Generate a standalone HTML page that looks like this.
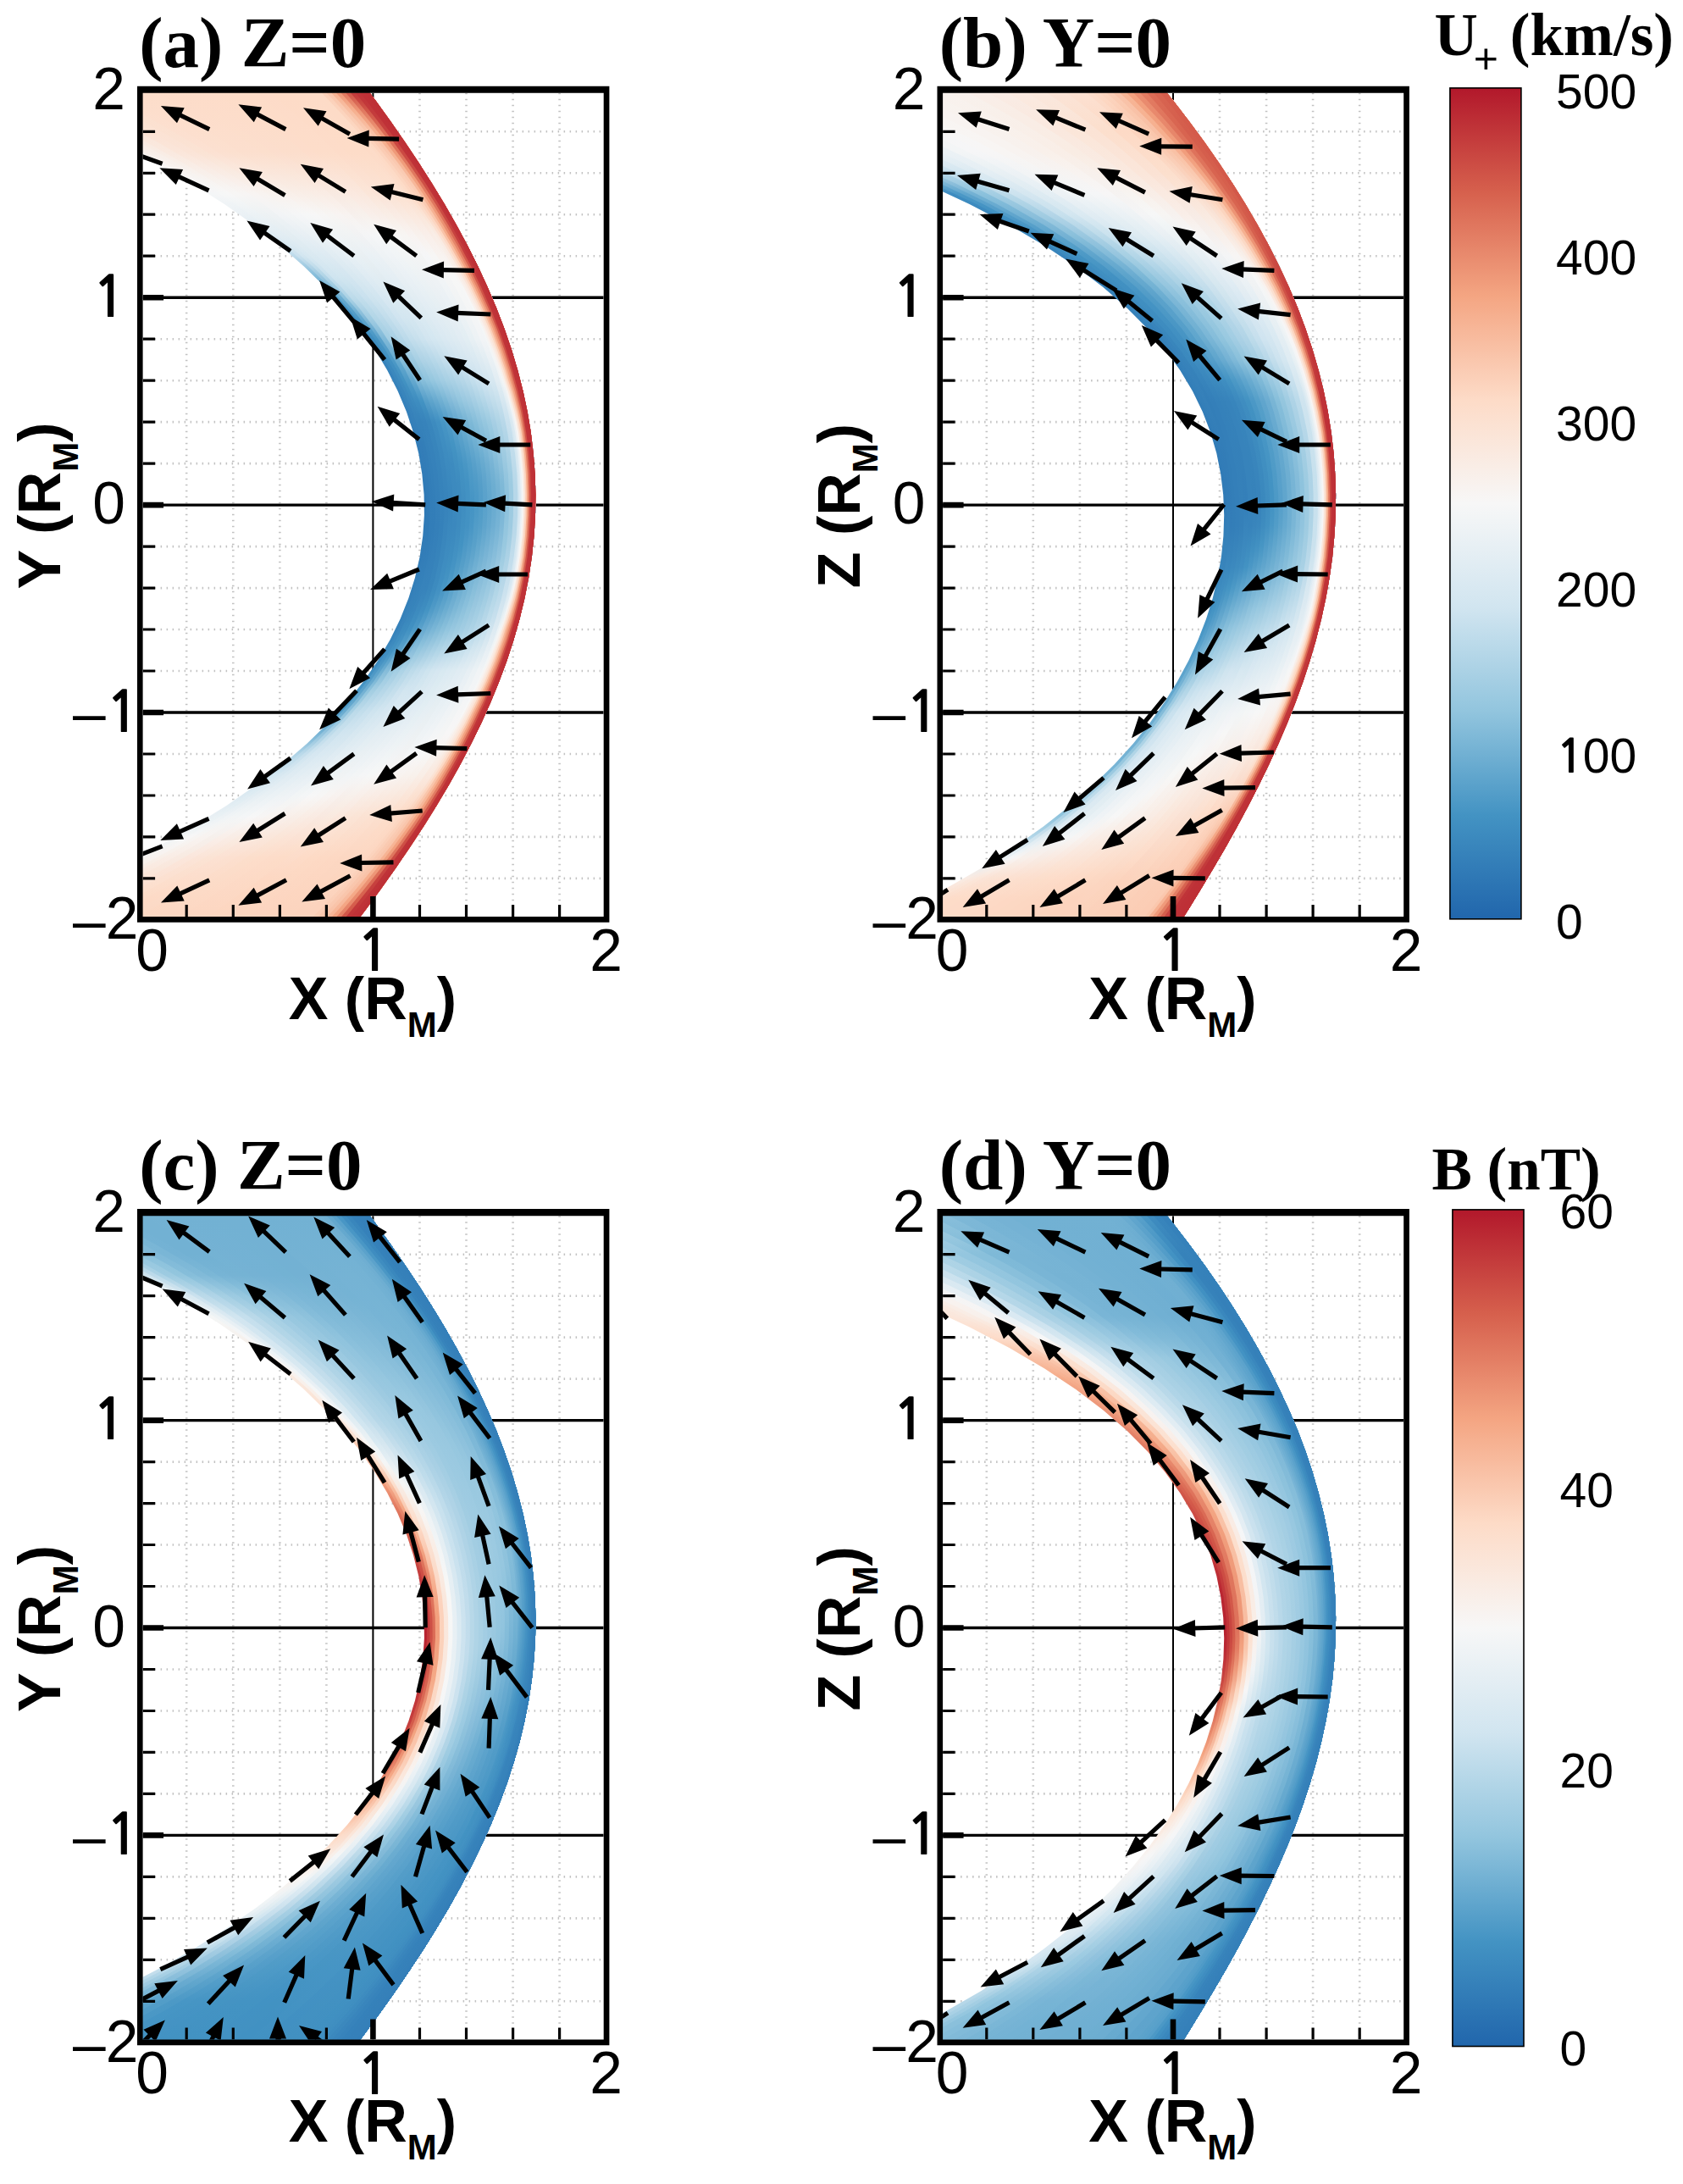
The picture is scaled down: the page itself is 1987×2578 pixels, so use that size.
<!DOCTYPE html>
<html><head><meta charset="utf-8"><title>figure</title><style>
html,body{margin:0;padding:0;background:#fff}
svg{display:block}
text{fill:#000}
.pt{font:bold 85px "Liberation Serif",serif}
.ct{font:bold 71px "Liberation Serif",serif}
.cs{font:normal 50px "Liberation Sans",sans-serif}
.tk{font:69.5px "Liberation Sans",sans-serif}
.cl{font:57px "Liberation Sans",sans-serif}
.ax{font:bold 70px "Liberation Sans",sans-serif}
.sb{font-size:42px}
.n1{font:bold 67px "NanumGothic","Liberation Sans",sans-serif}
.n1c{font:bold 55px "NanumGothic","Liberation Sans",sans-serif}
</style></head><body>
<svg width="1987" height="2578" viewBox="0 0 1987 2578">
<rect width="1987" height="2578" fill="#fff"/>
<defs>
<clipPath id="cfa"><rect x="168.6" y="109.8" width="544.1" height="972.3"/></clipPath>
<clipPath id="cba"><path d="M-29.2 94.1L31.6 118.5L87.3 143L138.1 167.5L184.5 192L226.7 216.5L265 241L299.7 265.5L330.9 290L358.9 314.5L383.9 339L406 363.4L425.6 387.9L442.6 412.4L457.2 436.9L469.6 461.4L479.9 485.9L488 510.4L494.2 534.9L498.3 559.4L500.6 583.9L500.9 608.3L499.2 632.8L495.6 657.3L490 681.8L482.3 706.3L472.5 730.8L460.5 755.3L446.1 779.8L429.3 804.3L409.8 828.8L387.6 853.2L362.4 877.7L334 902.2L302.3 926.7L267 951.2L227.8 975.7L184.5 1000.2L136.8 1024.7L84.4 1049.2L26.9 1073.7L-35.8 1098.1L413.4 1098.1L431.8 1073.7L449.8 1049.2L467.2 1024.7L483.9 1000.2L500 975.7L515.3 951.2L529.9 926.7L543.6 902.2L556.4 877.7L568.4 853.2L579.4 828.8L589.4 804.3L598.5 779.8L606.5 755.3L613.5 730.8L619.4 706.3L624.2 681.8L627.9 657.3L630.5 632.8L632 608.3L632.4 583.9L631.6 559.4L629.7 534.9L626.8 510.4L622.7 485.9L617.5 461.4L611.2 436.9L603.9 412.4L595.5 387.9L586.1 363.4L575.7 339L564.4 314.5L552.1 290L538.9 265.5L524.9 241L510 216.5L494.4 192L478 167.5L461 143L443.3 118.5L425.1 94.1Z"/></clipPath>
<linearGradient id="ga0" gradientUnits="userSpaceOnUse" x1="0" x2="0" y1="106.3" y2="1085.9"><stop offset="0" stop-color="#fbe3d4"/><stop offset="0.05" stop-color="#f9f0ea"/><stop offset="0.1" stop-color="#f7f6f5"/><stop offset="0.125" stop-color="#f4f6f7"/><stop offset="0.15" stop-color="#ebf1f5"/><stop offset="0.175" stop-color="#dbeaf2"/><stop offset="0.2" stop-color="#bedbeb"/><stop offset="0.225" stop-color="#82bbd9"/><stop offset="0.25" stop-color="#4e9ac7"/><stop offset="0.275" stop-color="#3e8dc0"/><stop offset="0.3" stop-color="#3986bd"/><stop offset="0.5" stop-color="#2f79b6"/><stop offset="0.65" stop-color="#3682ba"/><stop offset="0.725" stop-color="#4695c4"/><stop offset="0.75" stop-color="#4e9ac7"/><stop offset="0.775" stop-color="#77b4d5"/><stop offset="0.8" stop-color="#b0d4e7"/><stop offset="0.825" stop-color="#d0e5f0"/><stop offset="0.875" stop-color="#e9f0f4"/><stop offset="0.925" stop-color="#f7f6f5"/><stop offset="1" stop-color="#fbe5d7"/></linearGradient>
<linearGradient id="ga1" gradientUnits="userSpaceOnUse" x1="0" x2="0" y1="106.3" y2="1085.9"><stop offset="0" stop-color="#fbe2d3"/><stop offset="0.1" stop-color="#f8f4f2"/><stop offset="0.125" stop-color="#f5f6f7"/><stop offset="0.175" stop-color="#dfecf3"/><stop offset="0.2" stop-color="#cae1ee"/><stop offset="0.25" stop-color="#6aacd0"/><stop offset="0.275" stop-color="#4c98c6"/><stop offset="0.3" stop-color="#3f8ec0"/><stop offset="0.425" stop-color="#337db8"/><stop offset="0.525" stop-color="#307ab6"/><stop offset="0.65" stop-color="#3985bc"/><stop offset="0.675" stop-color="#3f8dc0"/><stop offset="0.725" stop-color="#5ba2cb"/><stop offset="0.75" stop-color="#6aacd0"/><stop offset="0.8" stop-color="#bbdaea"/><stop offset="0.825" stop-color="#d4e7f1"/><stop offset="0.9" stop-color="#f4f6f6"/><stop offset="0.95" stop-color="#f9eee7"/><stop offset="1" stop-color="#fbe4d6"/></linearGradient>
<linearGradient id="ga2" gradientUnits="userSpaceOnUse" x1="0" x2="0" y1="106.3" y2="1085.9"><stop offset="0" stop-color="#fce1d2"/><stop offset="0.125" stop-color="#f6f7f7"/><stop offset="0.175" stop-color="#e2edf3"/><stop offset="0.2" stop-color="#d3e6f0"/><stop offset="0.25" stop-color="#8cc1dc"/><stop offset="0.275" stop-color="#62a7ce"/><stop offset="0.3" stop-color="#4695c4"/><stop offset="0.425" stop-color="#337eb8"/><stop offset="0.55" stop-color="#327db8"/><stop offset="0.625" stop-color="#3784bb"/><stop offset="0.675" stop-color="#4292c2"/><stop offset="0.75" stop-color="#8cc1dc"/><stop offset="0.8" stop-color="#c6dfed"/><stop offset="0.825" stop-color="#d8e8f1"/><stop offset="0.9" stop-color="#f7f7f7"/><stop offset="1" stop-color="#fbe2d4"/></linearGradient>
<linearGradient id="ga3" gradientUnits="userSpaceOnUse" x1="0" x2="0" y1="106.3" y2="1085.9"><stop offset="0" stop-color="#fce1d1"/><stop offset="0.075" stop-color="#f9ece4"/><stop offset="0.125" stop-color="#f7f7f7"/><stop offset="0.2" stop-color="#d7e8f1"/><stop offset="0.225" stop-color="#c5dfed"/><stop offset="0.25" stop-color="#abd2e5"/><stop offset="0.3" stop-color="#58a0ca"/><stop offset="0.35" stop-color="#4292c2"/><stop offset="0.4" stop-color="#3682ba"/><stop offset="0.525" stop-color="#327db8"/><stop offset="0.625" stop-color="#3985bc"/><stop offset="0.65" stop-color="#3d8cbf"/><stop offset="0.675" stop-color="#4b98c6"/><stop offset="0.725" stop-color="#90c4dd"/><stop offset="0.75" stop-color="#abd2e5"/><stop offset="0.8" stop-color="#d1e5f0"/><stop offset="0.875" stop-color="#f0f4f6"/><stop offset="0.9" stop-color="#f7f5f3"/><stop offset="0.95" stop-color="#fae9de"/><stop offset="1" stop-color="#fce1d2"/></linearGradient>
<linearGradient id="ga4" gradientUnits="userSpaceOnUse" x1="0" x2="0" y1="106.3" y2="1085.9"><stop offset="0" stop-color="#fce0d0"/><stop offset="0.075" stop-color="#fae9df"/><stop offset="0.125" stop-color="#f7f6f5"/><stop offset="0.225" stop-color="#d0e5f0"/><stop offset="0.25" stop-color="#bddbea"/><stop offset="0.275" stop-color="#a1cce2"/><stop offset="0.3" stop-color="#7fb9d8"/><stop offset="0.35" stop-color="#4f9bc7"/><stop offset="0.375" stop-color="#3e8dc0"/><stop offset="0.4" stop-color="#3783bb"/><stop offset="0.525" stop-color="#347fb9"/><stop offset="0.6" stop-color="#3783bb"/><stop offset="0.65" stop-color="#4191c2"/><stop offset="0.675" stop-color="#5ba2cb"/><stop offset="0.7" stop-color="#85bcd9"/><stop offset="0.725" stop-color="#a5cfe3"/><stop offset="0.75" stop-color="#bddbea"/><stop offset="0.8" stop-color="#d6e7f1"/><stop offset="0.875" stop-color="#f2f5f6"/><stop offset="0.9" stop-color="#f8f3f0"/><stop offset="0.95" stop-color="#fbe6da"/><stop offset="1" stop-color="#fce0d0"/></linearGradient>
<linearGradient id="ga5" gradientUnits="userSpaceOnUse" x1="0" x2="0" y1="106.3" y2="1085.9"><stop offset="0" stop-color="#fcdfcf"/><stop offset="0.05" stop-color="#fbe2d4"/><stop offset="0.075" stop-color="#fbe6da"/><stop offset="0.125" stop-color="#f7f5f4"/><stop offset="0.175" stop-color="#e6eff4"/><stop offset="0.225" stop-color="#d2e6f0"/><stop offset="0.3" stop-color="#a3cee3"/><stop offset="0.325" stop-color="#87beda"/><stop offset="0.375" stop-color="#4393c3"/><stop offset="0.4" stop-color="#3986bc"/><stop offset="0.525" stop-color="#3581ba"/><stop offset="0.6" stop-color="#3986bc"/><stop offset="0.625" stop-color="#3e8dc0"/><stop offset="0.65" stop-color="#4c99c6"/><stop offset="0.675" stop-color="#6fafd2"/><stop offset="0.7" stop-color="#9bcae1"/><stop offset="0.75" stop-color="#c3deec"/><stop offset="0.775" stop-color="#d1e5f0"/><stop offset="0.875" stop-color="#f4f6f7"/><stop offset="0.95" stop-color="#fbe4d6"/><stop offset="1" stop-color="#fcdfcd"/></linearGradient>
<linearGradient id="ga6" gradientUnits="userSpaceOnUse" x1="0" x2="0" y1="106.3" y2="1085.9"><stop offset="0" stop-color="#fcdfcd"/><stop offset="0.075" stop-color="#fbe4d7"/><stop offset="0.125" stop-color="#f8f4f2"/><stop offset="0.15" stop-color="#f2f4f6"/><stop offset="0.25" stop-color="#c9e1ee"/><stop offset="0.325" stop-color="#99c8e0"/><stop offset="0.35" stop-color="#7eb8d7"/><stop offset="0.375" stop-color="#559ec9"/><stop offset="0.4" stop-color="#3d8bbf"/><stop offset="0.5" stop-color="#3783bb"/><stop offset="0.6" stop-color="#3d8bbf"/><stop offset="0.625" stop-color="#4393c3"/><stop offset="0.65" stop-color="#5aa1cb"/><stop offset="0.7" stop-color="#a4cee3"/><stop offset="0.75" stop-color="#c9e1ee"/><stop offset="0.875" stop-color="#f7f7f7"/><stop offset="0.925" stop-color="#fbe6db"/><stop offset="0.975" stop-color="#fcdecd"/><stop offset="1" stop-color="#fdddca"/></linearGradient>
<linearGradient id="ga7" gradientUnits="userSpaceOnUse" x1="0" x2="0" y1="106.3" y2="1085.9"><stop offset="0" stop-color="#fcdecc"/><stop offset="0.075" stop-color="#fbe3d4"/><stop offset="0.125" stop-color="#f8f3f0"/><stop offset="0.15" stop-color="#f3f5f6"/><stop offset="0.25" stop-color="#cfe4ef"/><stop offset="0.3" stop-color="#b4d6e8"/><stop offset="0.35" stop-color="#87beda"/><stop offset="0.375" stop-color="#5ea4cc"/><stop offset="0.4" stop-color="#4190c2"/><stop offset="0.5" stop-color="#3885bc"/><stop offset="0.6" stop-color="#4190c2"/><stop offset="0.625" stop-color="#4f9ac7"/><stop offset="0.65" stop-color="#68aad0"/><stop offset="0.7" stop-color="#add3e6"/><stop offset="0.75" stop-color="#cfe4ef"/><stop offset="0.85" stop-color="#eff3f6"/><stop offset="0.875" stop-color="#f7f5f4"/><stop offset="0.925" stop-color="#fbe4d7"/><stop offset="0.975" stop-color="#fdddca"/><stop offset="1" stop-color="#fddbc7"/></linearGradient>
<linearGradient id="ga8" gradientUnits="userSpaceOnUse" x1="0" x2="0" y1="106.3" y2="1085.9"><stop offset="0" stop-color="#fdddca"/><stop offset="0.075" stop-color="#fce1d2"/><stop offset="0.125" stop-color="#f8f2ee"/><stop offset="0.15" stop-color="#f5f6f7"/><stop offset="0.275" stop-color="#c9e1ee"/><stop offset="0.3" stop-color="#bcdaea"/><stop offset="0.325" stop-color="#a8d0e4"/><stop offset="0.35" stop-color="#8ec3dd"/><stop offset="0.375" stop-color="#66a9cf"/><stop offset="0.4" stop-color="#4796c5"/><stop offset="0.45" stop-color="#3d8bbf"/><stop offset="0.525" stop-color="#3b88be"/><stop offset="0.575" stop-color="#4090c1"/><stop offset="0.6" stop-color="#4795c4"/><stop offset="0.625" stop-color="#58a0ca"/><stop offset="0.65" stop-color="#72b0d3"/><stop offset="0.675" stop-color="#95c7df"/><stop offset="0.7" stop-color="#b6d7e8"/><stop offset="0.75" stop-color="#d3e6f0"/><stop offset="0.85" stop-color="#f2f5f6"/><stop offset="0.875" stop-color="#f8f4f1"/><stop offset="0.925" stop-color="#fbe3d4"/><stop offset="0.975" stop-color="#fddbc7"/><stop offset="1" stop-color="#fdd9c4"/></linearGradient>
<linearGradient id="ga9" gradientUnits="userSpaceOnUse" x1="0" x2="0" y1="106.3" y2="1085.9"><stop offset="0" stop-color="#fdddca"/><stop offset="0.075" stop-color="#fce0d0"/><stop offset="0.125" stop-color="#f8f1ed"/><stop offset="0.15" stop-color="#f6f7f7"/><stop offset="0.275" stop-color="#d0e4f0"/><stop offset="0.3" stop-color="#c3deec"/><stop offset="0.325" stop-color="#afd3e6"/><stop offset="0.35" stop-color="#95c7df"/><stop offset="0.375" stop-color="#6fafd2"/><stop offset="0.4" stop-color="#509bc8"/><stop offset="0.425" stop-color="#4494c3"/><stop offset="0.475" stop-color="#3d8bbf"/><stop offset="0.525" stop-color="#3d8bbf"/><stop offset="0.575" stop-color="#4594c4"/><stop offset="0.6" stop-color="#509bc7"/><stop offset="0.625" stop-color="#61a6cd"/><stop offset="0.65" stop-color="#7ab6d6"/><stop offset="0.7" stop-color="#bddbea"/><stop offset="0.725" stop-color="#cee3ef"/><stop offset="0.85" stop-color="#f4f6f7"/><stop offset="0.9" stop-color="#fae9e0"/><stop offset="0.925" stop-color="#fce1d2"/><stop offset="0.975" stop-color="#fddac6"/><stop offset="1" stop-color="#fdd8c4"/></linearGradient>
<linearGradient id="ga10" gradientUnits="userSpaceOnUse" x1="0" x2="0" y1="106.3" y2="1085.9"><stop offset="0" stop-color="#fdddca"/><stop offset="0.075" stop-color="#fce0cf"/><stop offset="0.15" stop-color="#f7f7f7"/><stop offset="0.275" stop-color="#d3e6f0"/><stop offset="0.3" stop-color="#c8e0ed"/><stop offset="0.35" stop-color="#9ccae1"/><stop offset="0.375" stop-color="#78b5d5"/><stop offset="0.4" stop-color="#5aa1cb"/><stop offset="0.45" stop-color="#4393c3"/><stop offset="0.5" stop-color="#3f8dc0"/><stop offset="0.55" stop-color="#4393c3"/><stop offset="0.6" stop-color="#59a1ca"/><stop offset="0.625" stop-color="#6aacd0"/><stop offset="0.65" stop-color="#82bbd8"/><stop offset="0.7" stop-color="#c3deec"/><stop offset="0.725" stop-color="#d3e6f0"/><stop offset="0.825" stop-color="#eef3f5"/><stop offset="0.85" stop-color="#f7f7f7"/><stop offset="0.925" stop-color="#fce0d0"/><stop offset="1" stop-color="#fcd8c3"/></linearGradient>
<linearGradient id="ga11" gradientUnits="userSpaceOnUse" x1="0" x2="0" y1="106.3" y2="1085.9"><stop offset="0" stop-color="#fdddca"/><stop offset="0.075" stop-color="#fcdfce"/><stop offset="0.15" stop-color="#f7f6f5"/><stop offset="0.3" stop-color="#cde3ef"/><stop offset="0.35" stop-color="#a2cde3"/><stop offset="0.4" stop-color="#63a7ce"/><stop offset="0.45" stop-color="#4997c5"/><stop offset="0.475" stop-color="#4292c3"/><stop offset="0.525" stop-color="#4392c3"/><stop offset="0.575" stop-color="#569fc9"/><stop offset="0.625" stop-color="#73b1d3"/><stop offset="0.65" stop-color="#8ac0db"/><stop offset="0.7" stop-color="#c9e1ee"/><stop offset="0.75" stop-color="#dceaf2"/><stop offset="0.85" stop-color="#f7f6f5"/><stop offset="0.925" stop-color="#fcdfce"/><stop offset="0.975" stop-color="#fdd9c4"/><stop offset="1" stop-color="#fcd8c3"/></linearGradient>
<linearGradient id="ga12" gradientUnits="userSpaceOnUse" x1="0" x2="0" y1="106.3" y2="1085.9"><stop offset="0" stop-color="#fddcc9"/><stop offset="0.075" stop-color="#fcdfce"/><stop offset="0.15" stop-color="#f7f5f3"/><stop offset="0.2" stop-color="#eaf1f5"/><stop offset="0.3" stop-color="#d2e5f0"/><stop offset="0.35" stop-color="#a8d0e4"/><stop offset="0.4" stop-color="#6cadd1"/><stop offset="0.45" stop-color="#509cc8"/><stop offset="0.5" stop-color="#4594c4"/><stop offset="0.525" stop-color="#4896c5"/><stop offset="0.575" stop-color="#5ea4cc"/><stop offset="0.625" stop-color="#7cb7d6"/><stop offset="0.65" stop-color="#92c5de"/><stop offset="0.7" stop-color="#cee4ef"/><stop offset="0.75" stop-color="#deebf2"/><stop offset="0.825" stop-color="#f1f4f6"/><stop offset="0.85" stop-color="#f8f4f2"/><stop offset="0.925" stop-color="#fcdecb"/><stop offset="1" stop-color="#fcd7c2"/></linearGradient>
<linearGradient id="ga13" gradientUnits="userSpaceOnUse" x1="0" x2="0" y1="106.3" y2="1085.9"><stop offset="0" stop-color="#fddcc9"/><stop offset="0.075" stop-color="#fcdfcd"/><stop offset="0.15" stop-color="#f8f4f2"/><stop offset="0.2" stop-color="#ebf1f5"/><stop offset="0.3" stop-color="#d4e7f1"/><stop offset="0.325" stop-color="#c4deec"/><stop offset="0.375" stop-color="#92c5de"/><stop offset="0.4" stop-color="#75b3d4"/><stop offset="0.45" stop-color="#58a0ca"/><stop offset="0.475" stop-color="#4e9ac7"/><stop offset="0.5" stop-color="#4a98c6"/><stop offset="0.55" stop-color="#59a1ca"/><stop offset="0.625" stop-color="#84bcd9"/><stop offset="0.65" stop-color="#98c8e0"/><stop offset="0.7" stop-color="#d3e6f0"/><stop offset="0.825" stop-color="#f3f5f6"/><stop offset="0.85" stop-color="#f8f2ef"/><stop offset="0.925" stop-color="#fdddca"/><stop offset="1" stop-color="#fcd7c2"/></linearGradient>
<linearGradient id="ga14" gradientUnits="userSpaceOnUse" x1="0" x2="0" y1="106.3" y2="1085.9"><stop offset="0" stop-color="#fddcc9"/><stop offset="0.075" stop-color="#fcdecd"/><stop offset="0.15" stop-color="#f8f3f0"/><stop offset="0.175" stop-color="#f4f5f6"/><stop offset="0.3" stop-color="#d7e8f1"/><stop offset="0.325" stop-color="#c9e1ee"/><stop offset="0.375" stop-color="#99c8e0"/><stop offset="0.4" stop-color="#7eb9d7"/><stop offset="0.45" stop-color="#5fa5cd"/><stop offset="0.475" stop-color="#559ec9"/><stop offset="0.5" stop-color="#519cc8"/><stop offset="0.525" stop-color="#559fc9"/><stop offset="0.625" stop-color="#8cc1dc"/><stop offset="0.65" stop-color="#9dcbe1"/><stop offset="0.7" stop-color="#d6e7f1"/><stop offset="0.825" stop-color="#f5f6f7"/><stop offset="0.925" stop-color="#fddcc9"/><stop offset="1" stop-color="#fcd6c1"/></linearGradient>
<linearGradient id="ga15" gradientUnits="userSpaceOnUse" x1="0" x2="0" y1="106.3" y2="1085.9"><stop offset="0" stop-color="#fddcc9"/><stop offset="0.075" stop-color="#fcdecc"/><stop offset="0.175" stop-color="#f5f6f7"/><stop offset="0.3" stop-color="#dae9f2"/><stop offset="0.325" stop-color="#cee3ef"/><stop offset="0.4" stop-color="#86beda"/><stop offset="0.45" stop-color="#67aacf"/><stop offset="0.475" stop-color="#5da3cc"/><stop offset="0.5" stop-color="#59a1cb"/><stop offset="0.525" stop-color="#5ea4cc"/><stop offset="0.625" stop-color="#94c6de"/><stop offset="0.65" stop-color="#a2cde3"/><stop offset="0.7" stop-color="#d8e9f1"/><stop offset="0.825" stop-color="#f6f7f7"/><stop offset="0.925" stop-color="#fddcc8"/><stop offset="1" stop-color="#fcd6c1"/></linearGradient>
<linearGradient id="ga16" gradientUnits="userSpaceOnUse" x1="0" x2="0" y1="106.3" y2="1085.9"><stop offset="0" stop-color="#fddcc8"/><stop offset="0.075" stop-color="#fcdecc"/><stop offset="0.175" stop-color="#f6f7f7"/><stop offset="0.3" stop-color="#dceaf2"/><stop offset="0.325" stop-color="#d2e5f0"/><stop offset="0.4" stop-color="#8fc3dd"/><stop offset="0.45" stop-color="#70afd2"/><stop offset="0.475" stop-color="#65a9cf"/><stop offset="0.5" stop-color="#61a6cd"/><stop offset="0.525" stop-color="#66a9cf"/><stop offset="0.65" stop-color="#a8d0e4"/><stop offset="0.7" stop-color="#dbeaf2"/><stop offset="0.825" stop-color="#f7f6f6"/><stop offset="0.9" stop-color="#fce0d0"/><stop offset="0.95" stop-color="#fdd8c3"/><stop offset="1" stop-color="#fcd6c0"/></linearGradient>
<linearGradient id="ga17" gradientUnits="userSpaceOnUse" x1="0" x2="0" y1="106.3" y2="1085.9"><stop offset="0" stop-color="#fddcc8"/><stop offset="0.075" stop-color="#fdddcb"/><stop offset="0.15" stop-color="#f9efea"/><stop offset="0.175" stop-color="#f7f7f6"/><stop offset="0.3" stop-color="#deebf2"/><stop offset="0.325" stop-color="#d5e7f1"/><stop offset="0.35" stop-color="#c3deec"/><stop offset="0.4" stop-color="#96c7df"/><stop offset="0.45" stop-color="#78b4d5"/><stop offset="0.475" stop-color="#6daed1"/><stop offset="0.5" stop-color="#69abd0"/><stop offset="0.525" stop-color="#6eaed2"/><stop offset="0.625" stop-color="#a0cce2"/><stop offset="0.65" stop-color="#add3e6"/><stop offset="0.7" stop-color="#ddebf2"/><stop offset="0.825" stop-color="#f7f5f4"/><stop offset="0.875" stop-color="#fbe5d8"/><stop offset="0.925" stop-color="#fddbc7"/><stop offset="0.975" stop-color="#fcd6c0"/><stop offset="1" stop-color="#fcd5c0"/></linearGradient>
<linearGradient id="ga18" gradientUnits="userSpaceOnUse" x1="0" x2="0" y1="106.3" y2="1085.9"><stop offset="0" stop-color="#fddcc8"/><stop offset="0.075" stop-color="#fdddca"/><stop offset="0.15" stop-color="#f9eee8"/><stop offset="0.175" stop-color="#f7f6f5"/><stop offset="0.3" stop-color="#e1ecf3"/><stop offset="0.325" stop-color="#d8e8f1"/><stop offset="0.35" stop-color="#c9e1ee"/><stop offset="0.4" stop-color="#9dcbe1"/><stop offset="0.475" stop-color="#76b3d4"/><stop offset="0.5" stop-color="#71b0d3"/><stop offset="0.525" stop-color="#76b3d5"/><stop offset="0.625" stop-color="#a7d0e4"/><stop offset="0.65" stop-color="#b4d6e8"/><stop offset="0.675" stop-color="#cde3ef"/><stop offset="0.7" stop-color="#e0ecf3"/><stop offset="0.8" stop-color="#f3f5f6"/><stop offset="0.825" stop-color="#f8f4f2"/><stop offset="0.875" stop-color="#fbe4d6"/><stop offset="0.925" stop-color="#fddac5"/><stop offset="1" stop-color="#fcd5bf"/></linearGradient>
<linearGradient id="ga19" gradientUnits="userSpaceOnUse" x1="0" x2="0" y1="106.3" y2="1085.9"><stop offset="0" stop-color="#fddbc8"/><stop offset="0.075" stop-color="#fdddca"/><stop offset="0.125" stop-color="#fbe6d9"/><stop offset="0.175" stop-color="#f7f5f3"/><stop offset="0.25" stop-color="#ebf1f5"/><stop offset="0.3" stop-color="#e3eef3"/><stop offset="0.35" stop-color="#d0e4f0"/><stop offset="0.4" stop-color="#a7cfe4"/><stop offset="0.475" stop-color="#7fb9d7"/><stop offset="0.5" stop-color="#7ab6d6"/><stop offset="0.525" stop-color="#80b9d8"/><stop offset="0.65" stop-color="#bddbea"/><stop offset="0.675" stop-color="#d3e6f0"/><stop offset="0.7" stop-color="#e2edf3"/><stop offset="0.8" stop-color="#f5f6f7"/><stop offset="0.825" stop-color="#f8f3f0"/><stop offset="0.875" stop-color="#fbe2d3"/><stop offset="0.925" stop-color="#fdd9c4"/><stop offset="1" stop-color="#fcd4bf"/></linearGradient>
<linearGradient id="ga20" gradientUnits="userSpaceOnUse" x1="0" x2="0" y1="106.3" y2="1085.9"><stop offset="0" stop-color="#fddbc7"/><stop offset="0.075" stop-color="#fddcc9"/><stop offset="0.125" stop-color="#fbe4d7"/><stop offset="0.175" stop-color="#f8f3f1"/><stop offset="0.2" stop-color="#f5f6f7"/><stop offset="0.3" stop-color="#e8f0f4"/><stop offset="0.35" stop-color="#d4e6f0"/><stop offset="0.4" stop-color="#afd4e6"/><stop offset="0.475" stop-color="#90c3dd"/><stop offset="0.5" stop-color="#8cc1dc"/><stop offset="0.55" stop-color="#99c9e0"/><stop offset="0.65" stop-color="#c6e0ed"/><stop offset="0.7" stop-color="#e7eff4"/><stop offset="0.8" stop-color="#f7f7f7"/><stop offset="0.825" stop-color="#f8f2ee"/><stop offset="0.875" stop-color="#fce1d1"/><stop offset="0.925" stop-color="#fdd8c3"/><stop offset="1" stop-color="#fcd4be"/></linearGradient>
<linearGradient id="ga21" gradientUnits="userSpaceOnUse" x1="0" x2="0" y1="106.3" y2="1085.9"><stop offset="0" stop-color="#fddbc7"/><stop offset="0.075" stop-color="#fddcc8"/><stop offset="0.125" stop-color="#fbe3d5"/><stop offset="0.175" stop-color="#f8f1ed"/><stop offset="0.2" stop-color="#f7f6f5"/><stop offset="0.3" stop-color="#edf2f5"/><stop offset="0.35" stop-color="#d7e8f1"/><stop offset="0.4" stop-color="#b8d8e9"/><stop offset="0.475" stop-color="#9dcbe1"/><stop offset="0.525" stop-color="#9ecbe1"/><stop offset="0.625" stop-color="#c2ddec"/><stop offset="0.7" stop-color="#ecf2f5"/><stop offset="0.8" stop-color="#f7f6f5"/><stop offset="0.825" stop-color="#f8f1ec"/><stop offset="0.875" stop-color="#fcdfce"/><stop offset="0.925" stop-color="#fcd7c2"/><stop offset="1" stop-color="#fcd4be"/></linearGradient>
<linearGradient id="ga22" gradientUnits="userSpaceOnUse" x1="0" x2="0" y1="106.3" y2="1085.9"><stop offset="0" stop-color="#fddbc7"/><stop offset="0.075" stop-color="#fddcc8"/><stop offset="0.125" stop-color="#fce2d2"/><stop offset="0.175" stop-color="#f9efea"/><stop offset="0.225" stop-color="#f7f7f6"/><stop offset="0.3" stop-color="#f2f4f6"/><stop offset="0.35" stop-color="#e2edf3"/><stop offset="0.4" stop-color="#cae1ee"/><stop offset="0.475" stop-color="#b7d8e9"/><stop offset="0.525" stop-color="#b8d8e9"/><stop offset="0.6" stop-color="#cae1ee"/><stop offset="0.7" stop-color="#f1f4f6"/><stop offset="0.775" stop-color="#f7f6f6"/><stop offset="0.825" stop-color="#f9eee7"/><stop offset="0.875" stop-color="#fdddca"/><stop offset="0.95" stop-color="#fcd5bf"/><stop offset="1" stop-color="#fcd3bd"/></linearGradient>
<linearGradient id="ga23" gradientUnits="userSpaceOnUse" x1="0" x2="0" y1="106.3" y2="1085.9"><stop offset="0" stop-color="#fddbc7"/><stop offset="0.075" stop-color="#fddbc7"/><stop offset="0.125" stop-color="#fce1d1"/><stop offset="0.2" stop-color="#f8f2ef"/><stop offset="0.25" stop-color="#f7f7f7"/><stop offset="0.325" stop-color="#f2f5f6"/><stop offset="0.35" stop-color="#edf2f5"/><stop offset="0.4" stop-color="#d7e8f1"/><stop offset="0.5" stop-color="#d0e5f0"/><stop offset="0.6" stop-color="#d7e8f1"/><stop offset="0.65" stop-color="#ebf2f5"/><stop offset="0.7" stop-color="#f4f6f6"/><stop offset="0.75" stop-color="#f7f7f7"/><stop offset="0.8" stop-color="#f8f0eb"/><stop offset="0.875" stop-color="#fddbc7"/><stop offset="0.975" stop-color="#fcd3bd"/><stop offset="1" stop-color="#fcd3bd"/></linearGradient>
<linearGradient id="ga24" gradientUnits="userSpaceOnUse" x1="0" x2="0" y1="106.3" y2="1085.9"><stop offset="0" stop-color="#fddbc6"/><stop offset="0.1" stop-color="#fddcc9"/><stop offset="0.125" stop-color="#fcdfcd"/><stop offset="0.175" stop-color="#f9eee7"/><stop offset="0.3" stop-color="#f8f2ef"/><stop offset="0.35" stop-color="#f2f5f6"/><stop offset="0.4" stop-color="#dceaf2"/><stop offset="0.6" stop-color="#dceaf2"/><stop offset="0.65" stop-color="#f2f5f6"/><stop offset="0.7" stop-color="#f8f3f0"/><stop offset="0.8" stop-color="#f9eee7"/><stop offset="0.825" stop-color="#fae9e0"/><stop offset="0.85" stop-color="#fce1d0"/><stop offset="0.875" stop-color="#fddac6"/><stop offset="0.975" stop-color="#fcd3bd"/><stop offset="1" stop-color="#fcd3bd"/></linearGradient>
<linearGradient id="ga25" gradientUnits="userSpaceOnUse" x1="0" x2="0" y1="106.3" y2="1085.9"><stop offset="0" stop-color="#fbd0b9"/><stop offset="0.075" stop-color="#fddac5"/><stop offset="0.125" stop-color="#fddcc8"/><stop offset="0.175" stop-color="#faebe2"/><stop offset="0.2" stop-color="#f9ece5"/><stop offset="0.3" stop-color="#faeae2"/><stop offset="0.35" stop-color="#f8f1ed"/><stop offset="0.375" stop-color="#f3f5f6"/><stop offset="0.4" stop-color="#ebf1f5"/><stop offset="0.6" stop-color="#ebf1f5"/><stop offset="0.625" stop-color="#f3f5f6"/><stop offset="0.675" stop-color="#f9ede6"/><stop offset="0.75" stop-color="#faeae1"/><stop offset="0.825" stop-color="#fae9df"/><stop offset="0.875" stop-color="#fcd7c2"/><stop offset="1" stop-color="#fbcdb5"/></linearGradient>
<linearGradient id="ga26" gradientUnits="userSpaceOnUse" x1="0" x2="0" y1="106.3" y2="1085.9"><stop offset="0" stop-color="#f9c6ac"/><stop offset="0.075" stop-color="#fcd4be"/><stop offset="0.125" stop-color="#fcd7c2"/><stop offset="0.175" stop-color="#fbe2d4"/><stop offset="0.35" stop-color="#fbe5d7"/><stop offset="0.4" stop-color="#f7f5f3"/><stop offset="0.6" stop-color="#f7f5f3"/><stop offset="0.65" stop-color="#fbe5d7"/><stop offset="0.825" stop-color="#fbe3d5"/><stop offset="0.875" stop-color="#fbd2bb"/><stop offset="0.975" stop-color="#facab2"/><stop offset="1" stop-color="#fac7ad"/></linearGradient>
<linearGradient id="ga27" gradientUnits="userSpaceOnUse" x1="0" x2="0" y1="106.3" y2="1085.9"><stop offset="0" stop-color="#f6b090"/><stop offset="0.025" stop-color="#f8bfa3"/><stop offset="0.05" stop-color="#fac9b0"/><stop offset="0.175" stop-color="#fdd8c4"/><stop offset="0.275" stop-color="#fbd2bb"/><stop offset="0.35" stop-color="#fcd3bd"/><stop offset="0.4" stop-color="#fae7dc"/><stop offset="0.525" stop-color="#fbe5d9"/><stop offset="0.6" stop-color="#fae7dc"/><stop offset="0.65" stop-color="#fcd3bd"/><stop offset="0.75" stop-color="#fbd2bb"/><stop offset="0.8" stop-color="#fdd9c5"/><stop offset="0.825" stop-color="#fdd9c4"/><stop offset="0.875" stop-color="#faccb4"/><stop offset="0.975" stop-color="#f9c5ab"/><stop offset="1" stop-color="#f9c1a6"/></linearGradient>
<linearGradient id="ga28" gradientUnits="userSpaceOnUse" x1="0" x2="0" y1="106.3" y2="1085.9"><stop offset="0" stop-color="#ec9273"/><stop offset="0.025" stop-color="#f6b08f"/><stop offset="0.05" stop-color="#f9c1a6"/><stop offset="0.1" stop-color="#facbb3"/><stop offset="0.125" stop-color="#fbcdb5"/><stop offset="0.2" stop-color="#f8bc9f"/><stop offset="0.275" stop-color="#f7b799"/><stop offset="0.35" stop-color="#f7b89a"/><stop offset="0.4" stop-color="#fcd7c2"/><stop offset="0.5" stop-color="#fbd0b9"/><stop offset="0.6" stop-color="#fcd7c2"/><stop offset="0.65" stop-color="#f7b89a"/><stop offset="0.75" stop-color="#f7b799"/><stop offset="0.8" stop-color="#f9c4a9"/><stop offset="0.9" stop-color="#f9c6ac"/><stop offset="0.95" stop-color="#f9c2a8"/><stop offset="1" stop-color="#f6b394"/></linearGradient>
<linearGradient id="ga29" gradientUnits="userSpaceOnUse" x1="0" x2="0" y1="106.3" y2="1085.9"><stop offset="0" stop-color="#de715a"/><stop offset="0.025" stop-color="#ee9677"/><stop offset="0.05" stop-color="#f5ae8d"/><stop offset="0.1" stop-color="#f7b799"/><stop offset="0.125" stop-color="#f7b89a"/><stop offset="0.15" stop-color="#f6b192"/><stop offset="0.175" stop-color="#f4a684"/><stop offset="0.225" stop-color="#f19d7c"/><stop offset="0.35" stop-color="#f09d7c"/><stop offset="0.4" stop-color="#f6b394"/><stop offset="0.5" stop-color="#f5a987"/><stop offset="0.6" stop-color="#f6b394"/><stop offset="0.65" stop-color="#f09d7c"/><stop offset="0.75" stop-color="#f09c7b"/><stop offset="0.8" stop-color="#f5a987"/><stop offset="0.85" stop-color="#f7b697"/><stop offset="0.875" stop-color="#f7b99b"/><stop offset="0.95" stop-color="#f6af8e"/><stop offset="1" stop-color="#f2a07e"/></linearGradient>
<linearGradient id="ga30" gradientUnits="userSpaceOnUse" x1="0" x2="0" y1="106.3" y2="1085.9"><stop offset="0" stop-color="#ce5045"/><stop offset="0.025" stop-color="#e17960"/><stop offset="0.05" stop-color="#ed9475"/><stop offset="0.1" stop-color="#f19f7d"/><stop offset="0.125" stop-color="#f29f7e"/><stop offset="0.15" stop-color="#ed9676"/><stop offset="0.175" stop-color="#e6866a"/><stop offset="0.25" stop-color="#e37e64"/><stop offset="0.35" stop-color="#e37f65"/><stop offset="0.4" stop-color="#e7886c"/><stop offset="0.5" stop-color="#e0775f"/><stop offset="0.6" stop-color="#e7886c"/><stop offset="0.675" stop-color="#e37e64"/><stop offset="0.75" stop-color="#e37e64"/><stop offset="0.8" stop-color="#e88a6d"/><stop offset="0.85" stop-color="#f19e7c"/><stop offset="0.875" stop-color="#f4a481"/><stop offset="0.925" stop-color="#f09d7c"/><stop offset="0.975" stop-color="#e98b6e"/><stop offset="1" stop-color="#e27c62"/></linearGradient>
<linearGradient id="ga31" gradientUnits="userSpaceOnUse" x1="0" x2="0" y1="106.3" y2="1085.9"><stop offset="0" stop-color="#c03438"/><stop offset="0.025" stop-color="#d15648"/><stop offset="0.05" stop-color="#db6c56"/><stop offset="0.1" stop-color="#e0785f"/><stop offset="0.125" stop-color="#e17960"/><stop offset="0.15" stop-color="#de735b"/><stop offset="0.2" stop-color="#d55d4c"/><stop offset="0.25" stop-color="#ce5146"/><stop offset="0.35" stop-color="#cf5146"/><stop offset="0.4" stop-color="#d25849"/><stop offset="0.45" stop-color="#cf5146"/><stop offset="0.5" stop-color="#ca4942"/><stop offset="0.55" stop-color="#cf5146"/><stop offset="0.6" stop-color="#d25849"/><stop offset="0.675" stop-color="#ce5146"/><stop offset="0.75" stop-color="#ce5146"/><stop offset="0.775" stop-color="#d25949"/><stop offset="0.85" stop-color="#e27c62"/><stop offset="0.875" stop-color="#e48166"/><stop offset="0.925" stop-color="#df765e"/><stop offset="0.975" stop-color="#d7614e"/><stop offset="1" stop-color="#cf5347"/></linearGradient>
<linearGradient id="ga32" gradientUnits="userSpaceOnUse" x1="0" x2="0" y1="106.3" y2="1085.9"><stop offset="0" stop-color="#bf3338"/><stop offset="0.075" stop-color="#cb4942"/><stop offset="0.125" stop-color="#ce5146"/><stop offset="0.2" stop-color="#c2393b"/><stop offset="0.275" stop-color="#c03438"/><stop offset="0.625" stop-color="#bf3238"/><stop offset="0.775" stop-color="#c13639"/><stop offset="0.825" stop-color="#c7423f"/><stop offset="0.85" stop-color="#ce5045"/><stop offset="0.875" stop-color="#d25849"/><stop offset="1" stop-color="#c03438"/></linearGradient>
<linearGradient id="ga33" gradientUnits="userSpaceOnUse" x1="0" x2="0" y1="106.3" y2="1085.9"><stop offset="0" stop-color="#bf3137"/><stop offset="0.15" stop-color="#bf3338"/><stop offset="0.825" stop-color="#be3137"/><stop offset="0.975" stop-color="#bf3338"/><stop offset="1" stop-color="#bf3237"/></linearGradient>
<linearGradient id="ga34" gradientUnits="userSpaceOnUse" x1="0" x2="0" y1="106.3" y2="1085.9"><stop offset="0" stop-color="#be3036"/><stop offset="1" stop-color="#be3036"/></linearGradient>
<clipPath id="cfb"><rect x="1113.1" y="109.8" width="544.1" height="972.3"/></clipPath>
<clipPath id="cbb"><path d="M724.5 94.1L813.5 118.5L894.2 143L967.1 167.5L1032.8 192L1091.8 216.5L1144.6 241L1191.6 265.5L1233.3 290L1270.1 314.5L1302.4 339L1330.5 363.4L1354.8 387.9L1375.6 412.4L1393.2 436.9L1407.9 461.4L1419.8 485.9L1429.2 510.4L1436.3 534.9L1441.2 559.4L1444.2 583.9L1445.2 608.3L1444.4 632.8L1441.9 657.3L1437.6 681.8L1431.7 706.3L1424 730.8L1414.5 755.3L1403.3 779.8L1390.1 804.3L1374.9 828.8L1357.6 853.2L1337.9 877.7L1315.7 902.2L1290.8 926.7L1262.9 951.2L1231.7 975.7L1197.1 1000.2L1158.6 1024.7L1115.9 1049.2L1068.7 1073.7L1016.6 1098.1L1387.6 1098.1L1403 1073.7L1418 1049.2L1432.7 1024.7L1447 1000.2L1460.7 975.7L1473.8 951.2L1486.4 926.7L1498.3 902.2L1509.5 877.7L1520 853.2L1529.7 828.8L1538.6 804.3L1546.6 779.8L1553.8 755.3L1560 730.8L1565.3 706.3L1569.7 681.8L1573.1 657.3L1575.4 632.8L1576.8 608.3L1577.1 583.9L1576.3 559.4L1574.6 534.9L1571.7 510.4L1567.8 485.9L1562.8 461.4L1556.7 436.9L1549.6 412.4L1541.4 387.9L1532.2 363.4L1521.9 339L1510.5 314.5L1498.2 290L1484.8 265.5L1470.5 241L1455.2 216.5L1439 192L1421.9 167.5L1403.8 143L1385 118.5L1365.3 94.1Z"/></clipPath>
<linearGradient id="gb0" gradientUnits="userSpaceOnUse" x1="0" x2="0" y1="106.3" y2="1085.9"><stop offset="0" stop-color="#f2f5f6"/><stop offset="0.025" stop-color="#eef3f5"/><stop offset="0.05" stop-color="#e3edf3"/><stop offset="0.075" stop-color="#cce3ef"/><stop offset="0.1" stop-color="#77b4d5"/><stop offset="0.125" stop-color="#3e8cc0"/><stop offset="0.225" stop-color="#3682ba"/><stop offset="0.5" stop-color="#307ab6"/><stop offset="0.6" stop-color="#3b89be"/><stop offset="0.65" stop-color="#4896c5"/><stop offset="0.7" stop-color="#5ca3cc"/><stop offset="0.825" stop-color="#7ab6d6"/><stop offset="0.875" stop-color="#90c4dd"/><stop offset="0.9" stop-color="#b3d6e8"/><stop offset="0.925" stop-color="#e4eef3"/><stop offset="0.95" stop-color="#f9ebe3"/><stop offset="0.975" stop-color="#fce0d0"/><stop offset="1" stop-color="#fce0d0"/></linearGradient>
<linearGradient id="gb1" gradientUnits="userSpaceOnUse" x1="0" x2="0" y1="106.3" y2="1085.9"><stop offset="0" stop-color="#f2f5f6"/><stop offset="0.025" stop-color="#eef3f5"/><stop offset="0.05" stop-color="#e4eef4"/><stop offset="0.075" stop-color="#d1e5f0"/><stop offset="0.1" stop-color="#88bfdb"/><stop offset="0.125" stop-color="#4b98c6"/><stop offset="0.15" stop-color="#4191c2"/><stop offset="0.25" stop-color="#3784bb"/><stop offset="0.475" stop-color="#317bb7"/><stop offset="0.575" stop-color="#3884bb"/><stop offset="0.625" stop-color="#4393c3"/><stop offset="0.725" stop-color="#7ab6d6"/><stop offset="0.8" stop-color="#94c6de"/><stop offset="0.875" stop-color="#acd2e6"/><stop offset="0.925" stop-color="#edf2f5"/><stop offset="0.95" stop-color="#fae8de"/><stop offset="0.975" stop-color="#fcdfcd"/><stop offset="1" stop-color="#fcdfcd"/></linearGradient>
<linearGradient id="gb2" gradientUnits="userSpaceOnUse" x1="0" x2="0" y1="106.3" y2="1085.9"><stop offset="0" stop-color="#f3f5f6"/><stop offset="0.05" stop-color="#e6eff4"/><stop offset="0.075" stop-color="#d4e7f1"/><stop offset="0.1" stop-color="#97c8e0"/><stop offset="0.125" stop-color="#60a5cd"/><stop offset="0.175" stop-color="#4392c3"/><stop offset="0.275" stop-color="#3985bc"/><stop offset="0.45" stop-color="#327cb7"/><stop offset="0.525" stop-color="#337db8"/><stop offset="0.6" stop-color="#3f8dc0"/><stop offset="0.625" stop-color="#4896c5"/><stop offset="0.725" stop-color="#95c6df"/><stop offset="0.75" stop-color="#a3cee3"/><stop offset="0.875" stop-color="#c4dfec"/><stop offset="0.925" stop-color="#f5f6f7"/><stop offset="0.95" stop-color="#fbe6d9"/><stop offset="0.975" stop-color="#fcddcb"/><stop offset="1" stop-color="#fcddcb"/></linearGradient>
<linearGradient id="gb3" gradientUnits="userSpaceOnUse" x1="0" x2="0" y1="106.3" y2="1085.9"><stop offset="0" stop-color="#f4f5f6"/><stop offset="0.05" stop-color="#e7eff4"/><stop offset="0.075" stop-color="#d8e8f1"/><stop offset="0.125" stop-color="#73b1d3"/><stop offset="0.175" stop-color="#4e9ac7"/><stop offset="0.2" stop-color="#4292c2"/><stop offset="0.375" stop-color="#337eb8"/><stop offset="0.525" stop-color="#337eb8"/><stop offset="0.575" stop-color="#3a87bd"/><stop offset="0.6" stop-color="#4190c1"/><stop offset="0.65" stop-color="#62a6cd"/><stop offset="0.7" stop-color="#8ec3dd"/><stop offset="0.725" stop-color="#a9d0e4"/><stop offset="0.75" stop-color="#bddbea"/><stop offset="0.8" stop-color="#c9e1ee"/><stop offset="0.875" stop-color="#d6e7f1"/><stop offset="0.9" stop-color="#e4eef3"/><stop offset="0.925" stop-color="#f8f4f2"/><stop offset="0.95" stop-color="#fbe3d6"/><stop offset="0.975" stop-color="#fddcc9"/><stop offset="1" stop-color="#fddcc9"/></linearGradient>
<linearGradient id="gb4" gradientUnits="userSpaceOnUse" x1="0" x2="0" y1="106.3" y2="1085.9"><stop offset="0" stop-color="#f4f6f6"/><stop offset="0.05" stop-color="#e9f0f4"/><stop offset="0.075" stop-color="#dceaf2"/><stop offset="0.125" stop-color="#8bc1dc"/><stop offset="0.175" stop-color="#5da4cc"/><stop offset="0.2" stop-color="#4c99c6"/><stop offset="0.225" stop-color="#4291c2"/><stop offset="0.325" stop-color="#3b89be"/><stop offset="0.375" stop-color="#347fb9"/><stop offset="0.525" stop-color="#347fb9"/><stop offset="0.575" stop-color="#3c89be"/><stop offset="0.6" stop-color="#4494c3"/><stop offset="0.7" stop-color="#9ecbe1"/><stop offset="0.75" stop-color="#c9e1ee"/><stop offset="0.8" stop-color="#d4e6f1"/><stop offset="0.875" stop-color="#deebf2"/><stop offset="0.9" stop-color="#ebf2f5"/><stop offset="0.925" stop-color="#f8f0eb"/><stop offset="0.95" stop-color="#fbe2d3"/><stop offset="0.975" stop-color="#fddcc8"/><stop offset="1" stop-color="#fddcc8"/></linearGradient>
<linearGradient id="gb5" gradientUnits="userSpaceOnUse" x1="0" x2="0" y1="106.3" y2="1085.9"><stop offset="0" stop-color="#f5f6f7"/><stop offset="0.05" stop-color="#ebf1f5"/><stop offset="0.075" stop-color="#e0ecf3"/><stop offset="0.1" stop-color="#c5dfed"/><stop offset="0.125" stop-color="#a4cee3"/><stop offset="0.2" stop-color="#5ea4cc"/><stop offset="0.225" stop-color="#4e9ac7"/><stop offset="0.25" stop-color="#4594c4"/><stop offset="0.325" stop-color="#3f8dc0"/><stop offset="0.375" stop-color="#3581ba"/><stop offset="0.525" stop-color="#3580b9"/><stop offset="0.575" stop-color="#3e8cbf"/><stop offset="0.6" stop-color="#4c99c6"/><stop offset="0.675" stop-color="#97c8e0"/><stop offset="0.725" stop-color="#c5dfed"/><stop offset="0.75" stop-color="#d5e7f1"/><stop offset="0.875" stop-color="#e4eef3"/><stop offset="0.9" stop-color="#f0f4f6"/><stop offset="0.925" stop-color="#f9eee8"/><stop offset="0.95" stop-color="#fce1d2"/><stop offset="0.975" stop-color="#fddbc8"/><stop offset="1" stop-color="#fddbc8"/></linearGradient>
<linearGradient id="gb6" gradientUnits="userSpaceOnUse" x1="0" x2="0" y1="106.3" y2="1085.9"><stop offset="0" stop-color="#f6f7f7"/><stop offset="0.05" stop-color="#eef3f5"/><stop offset="0.075" stop-color="#e5eef4"/><stop offset="0.1" stop-color="#d3e6f0"/><stop offset="0.175" stop-color="#8ac0db"/><stop offset="0.2" stop-color="#70afd2"/><stop offset="0.225" stop-color="#5ca3cb"/><stop offset="0.25" stop-color="#509bc7"/><stop offset="0.325" stop-color="#4291c2"/><stop offset="0.375" stop-color="#3682ba"/><stop offset="0.5" stop-color="#347fb9"/><stop offset="0.575" stop-color="#408ec1"/><stop offset="0.6" stop-color="#559fc9"/><stop offset="0.65" stop-color="#8ac0db"/><stop offset="0.725" stop-color="#cce3ef"/><stop offset="0.75" stop-color="#dae9f2"/><stop offset="0.875" stop-color="#e9f1f5"/><stop offset="0.9" stop-color="#f4f6f7"/><stop offset="0.95" stop-color="#fce0d0"/><stop offset="0.975" stop-color="#fddbc7"/><stop offset="1" stop-color="#fddbc7"/></linearGradient>
<linearGradient id="gb7" gradientUnits="userSpaceOnUse" x1="0" x2="0" y1="106.3" y2="1085.9"><stop offset="0" stop-color="#f7f7f7"/><stop offset="0.05" stop-color="#f1f4f6"/><stop offset="0.075" stop-color="#eaf1f5"/><stop offset="0.125" stop-color="#cde3ef"/><stop offset="0.2" stop-color="#81bad8"/><stop offset="0.225" stop-color="#69abd0"/><stop offset="0.25" stop-color="#5ba2cb"/><stop offset="0.3" stop-color="#549ec9"/><stop offset="0.325" stop-color="#4b98c6"/><stop offset="0.35" stop-color="#3d8bbf"/><stop offset="0.375" stop-color="#3783bb"/><stop offset="0.525" stop-color="#3783bb"/><stop offset="0.575" stop-color="#4393c3"/><stop offset="0.65" stop-color="#92c5de"/><stop offset="0.7" stop-color="#badaea"/><stop offset="0.725" stop-color="#d2e5f0"/><stop offset="0.75" stop-color="#ddebf2"/><stop offset="0.875" stop-color="#eff3f6"/><stop offset="0.9" stop-color="#f7f5f4"/><stop offset="0.95" stop-color="#fcdfce"/><stop offset="0.975" stop-color="#fddac6"/><stop offset="1" stop-color="#fddac6"/></linearGradient>
<linearGradient id="gb8" gradientUnits="userSpaceOnUse" x1="0" x2="0" y1="106.3" y2="1085.9"><stop offset="0" stop-color="#f7f6f6"/><stop offset="0.05" stop-color="#f3f5f6"/><stop offset="0.1" stop-color="#e4eef4"/><stop offset="0.15" stop-color="#c7e0ed"/><stop offset="0.225" stop-color="#7bb7d6"/><stop offset="0.25" stop-color="#6badd1"/><stop offset="0.3" stop-color="#60a6cd"/><stop offset="0.325" stop-color="#559ec9"/><stop offset="0.35" stop-color="#3f8ec1"/><stop offset="0.375" stop-color="#3885bc"/><stop offset="0.5" stop-color="#3682ba"/><stop offset="0.525" stop-color="#3985bc"/><stop offset="0.55" stop-color="#3f8ec0"/><stop offset="0.575" stop-color="#4b98c6"/><stop offset="0.65" stop-color="#98c8e0"/><stop offset="0.725" stop-color="#d5e7f1"/><stop offset="0.75" stop-color="#e0ecf3"/><stop offset="0.875" stop-color="#f3f5f6"/><stop offset="0.9" stop-color="#f8f2ef"/><stop offset="0.95" stop-color="#fcdecd"/><stop offset="0.975" stop-color="#fdd9c5"/><stop offset="1" stop-color="#fdd9c5"/></linearGradient>
<linearGradient id="gb9" gradientUnits="userSpaceOnUse" x1="0" x2="0" y1="106.3" y2="1085.9"><stop offset="0" stop-color="#f7f6f5"/><stop offset="0.075" stop-color="#f3f5f6"/><stop offset="0.15" stop-color="#d3e6f0"/><stop offset="0.225" stop-color="#90c4dd"/><stop offset="0.25" stop-color="#7eb8d7"/><stop offset="0.3" stop-color="#6daed1"/><stop offset="0.325" stop-color="#5fa5cd"/><stop offset="0.35" stop-color="#4393c3"/><stop offset="0.375" stop-color="#3c89be"/><stop offset="0.5" stop-color="#3783bb"/><stop offset="0.525" stop-color="#3a87bd"/><stop offset="0.55" stop-color="#4291c2"/><stop offset="0.575" stop-color="#539dc8"/><stop offset="0.65" stop-color="#9ecbe1"/><stop offset="0.7" stop-color="#c8e1ed"/><stop offset="0.725" stop-color="#d9e9f1"/><stop offset="0.775" stop-color="#e8f0f4"/><stop offset="0.875" stop-color="#f7f7f7"/><stop offset="0.925" stop-color="#fbe6da"/><stop offset="0.95" stop-color="#fcdecb"/><stop offset="0.975" stop-color="#fdd8c4"/><stop offset="1" stop-color="#fdd8c4"/></linearGradient>
<linearGradient id="gb10" gradientUnits="userSpaceOnUse" x1="0" x2="0" y1="106.3" y2="1085.9"><stop offset="0" stop-color="#f7f5f4"/><stop offset="0.075" stop-color="#f6f6f7"/><stop offset="0.15" stop-color="#dbeaf2"/><stop offset="0.175" stop-color="#cae2ee"/><stop offset="0.225" stop-color="#9dcae1"/><stop offset="0.25" stop-color="#8cc1dc"/><stop offset="0.3" stop-color="#7ab6d6"/><stop offset="0.325" stop-color="#69abd0"/><stop offset="0.35" stop-color="#4c99c6"/><stop offset="0.375" stop-color="#3f8dc0"/><stop offset="0.5" stop-color="#3a88bd"/><stop offset="0.525" stop-color="#3e8cbf"/><stop offset="0.55" stop-color="#4796c4"/><stop offset="0.575" stop-color="#5aa2cb"/><stop offset="0.625" stop-color="#8ec2dc"/><stop offset="0.7" stop-color="#cfe4ef"/><stop offset="0.75" stop-color="#e6eff4"/><stop offset="0.85" stop-color="#f5f6f7"/><stop offset="0.875" stop-color="#f7f5f3"/><stop offset="0.925" stop-color="#fbe5d8"/><stop offset="0.95" stop-color="#fdddca"/><stop offset="0.975" stop-color="#fcd8c3"/><stop offset="1" stop-color="#fcd8c3"/></linearGradient>
<linearGradient id="gb11" gradientUnits="userSpaceOnUse" x1="0" x2="0" y1="106.3" y2="1085.9"><stop offset="0" stop-color="#f8f5f3"/><stop offset="0.075" stop-color="#f7f6f6"/><stop offset="0.125" stop-color="#edf2f5"/><stop offset="0.175" stop-color="#d5e7f1"/><stop offset="0.225" stop-color="#a6cfe4"/><stop offset="0.25" stop-color="#97c7df"/><stop offset="0.3" stop-color="#85bdda"/><stop offset="0.325" stop-color="#75b2d4"/><stop offset="0.35" stop-color="#559ec9"/><stop offset="0.375" stop-color="#4292c2"/><stop offset="0.5" stop-color="#3f8dc0"/><stop offset="0.525" stop-color="#4291c2"/><stop offset="0.575" stop-color="#61a6cd"/><stop offset="0.625" stop-color="#94c6df"/><stop offset="0.7" stop-color="#d2e5f0"/><stop offset="0.75" stop-color="#e8f0f4"/><stop offset="0.85" stop-color="#f7f6f5"/><stop offset="0.9" stop-color="#f9ece4"/><stop offset="0.95" stop-color="#fddcc9"/><stop offset="0.975" stop-color="#fcd7c2"/><stop offset="1" stop-color="#fcd7c2"/></linearGradient>
<linearGradient id="gb12" gradientUnits="userSpaceOnUse" x1="0" x2="0" y1="106.3" y2="1085.9"><stop offset="0" stop-color="#f8f4f2"/><stop offset="0.075" stop-color="#f8f5f3"/><stop offset="0.125" stop-color="#f0f4f6"/><stop offset="0.175" stop-color="#d9e9f2"/><stop offset="0.225" stop-color="#b0d4e6"/><stop offset="0.25" stop-color="#a0cce2"/><stop offset="0.3" stop-color="#90c4dd"/><stop offset="0.325" stop-color="#7fb9d8"/><stop offset="0.35" stop-color="#5fa5cd"/><stop offset="0.375" stop-color="#4b98c6"/><stop offset="0.475" stop-color="#4393c3"/><stop offset="0.5" stop-color="#4393c3"/><stop offset="0.525" stop-color="#4997c5"/><stop offset="0.575" stop-color="#69abd0"/><stop offset="0.625" stop-color="#99c9e0"/><stop offset="0.675" stop-color="#c3deec"/><stop offset="0.725" stop-color="#e0ecf3"/><stop offset="0.775" stop-color="#f0f4f6"/><stop offset="0.825" stop-color="#f7f7f6"/><stop offset="0.875" stop-color="#f9f0eb"/><stop offset="0.95" stop-color="#fddbc7"/><stop offset="0.975" stop-color="#fcd6c1"/><stop offset="1" stop-color="#fcd6c1"/></linearGradient>
<linearGradient id="gb13" gradientUnits="userSpaceOnUse" x1="0" x2="0" y1="106.3" y2="1085.9"><stop offset="0" stop-color="#f8f3f1"/><stop offset="0.075" stop-color="#f8f3f0"/><stop offset="0.125" stop-color="#f3f5f6"/><stop offset="0.175" stop-color="#ddebf2"/><stop offset="0.25" stop-color="#a9d1e5"/><stop offset="0.3" stop-color="#99c9e0"/><stop offset="0.325" stop-color="#8ac0db"/><stop offset="0.35" stop-color="#69abd0"/><stop offset="0.375" stop-color="#559fc9"/><stop offset="0.5" stop-color="#4c99c6"/><stop offset="0.525" stop-color="#529dc8"/><stop offset="0.575" stop-color="#70b0d2"/><stop offset="0.65" stop-color="#b3d6e7"/><stop offset="0.7" stop-color="#d7e8f1"/><stop offset="0.75" stop-color="#ecf2f5"/><stop offset="0.8" stop-color="#f6f7f7"/><stop offset="0.875" stop-color="#f9eee7"/><stop offset="0.95" stop-color="#fddac6"/><stop offset="0.975" stop-color="#fcd5c0"/><stop offset="1" stop-color="#fcd5c0"/></linearGradient>
<linearGradient id="gb14" gradientUnits="userSpaceOnUse" x1="0" x2="0" y1="106.3" y2="1085.9"><stop offset="0" stop-color="#f8f3ef"/><stop offset="0.075" stop-color="#f8f1ed"/><stop offset="0.125" stop-color="#f5f6f7"/><stop offset="0.175" stop-color="#e1edf3"/><stop offset="0.225" stop-color="#c2ddec"/><stop offset="0.25" stop-color="#b2d6e7"/><stop offset="0.3" stop-color="#a2cde3"/><stop offset="0.325" stop-color="#94c6de"/><stop offset="0.35" stop-color="#74b2d4"/><stop offset="0.375" stop-color="#60a5cd"/><stop offset="0.5" stop-color="#569fca"/><stop offset="0.525" stop-color="#5ca3cb"/><stop offset="0.575" stop-color="#78b4d5"/><stop offset="0.625" stop-color="#a4cee3"/><stop offset="0.675" stop-color="#cbe2ee"/><stop offset="0.75" stop-color="#eef3f5"/><stop offset="0.8" stop-color="#f7f6f5"/><stop offset="0.875" stop-color="#f9ece4"/><stop offset="0.95" stop-color="#fdd9c4"/><stop offset="0.975" stop-color="#fcd4be"/><stop offset="1" stop-color="#fcd4be"/></linearGradient>
<linearGradient id="gb15" gradientUnits="userSpaceOnUse" x1="0" x2="0" y1="106.3" y2="1085.9"><stop offset="0" stop-color="#f8f2ee"/><stop offset="0.075" stop-color="#f9f0ea"/><stop offset="0.125" stop-color="#f7f6f6"/><stop offset="0.175" stop-color="#e5eff4"/><stop offset="0.25" stop-color="#bcdaea"/><stop offset="0.3" stop-color="#abd1e5"/><stop offset="0.325" stop-color="#9ccae1"/><stop offset="0.35" stop-color="#7fb9d7"/><stop offset="0.375" stop-color="#6bacd1"/><stop offset="0.475" stop-color="#61a6cd"/><stop offset="0.5" stop-color="#60a5cd"/><stop offset="0.525" stop-color="#65a9cf"/><stop offset="0.575" stop-color="#7fb9d8"/><stop offset="0.625" stop-color="#a9d1e5"/><stop offset="0.675" stop-color="#d0e4f0"/><stop offset="0.75" stop-color="#f0f3f6"/><stop offset="0.775" stop-color="#f6f6f7"/><stop offset="0.875" stop-color="#faeae0"/><stop offset="0.95" stop-color="#fcd8c3"/><stop offset="0.975" stop-color="#fcd3bd"/><stop offset="1" stop-color="#fcd3bd"/></linearGradient>
<linearGradient id="gb16" gradientUnits="userSpaceOnUse" x1="0" x2="0" y1="106.3" y2="1085.9"><stop offset="0" stop-color="#f8f1ec"/><stop offset="0.075" stop-color="#f9eee7"/><stop offset="0.15" stop-color="#f4f5f6"/><stop offset="0.275" stop-color="#bcdaea"/><stop offset="0.325" stop-color="#a5cee3"/><stop offset="0.35" stop-color="#8cc1dc"/><stop offset="0.375" stop-color="#79b5d5"/><stop offset="0.475" stop-color="#6cadd1"/><stop offset="0.525" stop-color="#6fafd2"/><stop offset="0.575" stop-color="#87beda"/><stop offset="0.675" stop-color="#d3e6f0"/><stop offset="0.75" stop-color="#f1f4f6"/><stop offset="0.775" stop-color="#f7f7f6"/><stop offset="0.9" stop-color="#fbe3d4"/><stop offset="0.95" stop-color="#fcd6c1"/><stop offset="1" stop-color="#fcd2bc"/></linearGradient>
<linearGradient id="gb17" gradientUnits="userSpaceOnUse" x1="0" x2="0" y1="106.3" y2="1085.9"><stop offset="0" stop-color="#f9eee8"/><stop offset="0.075" stop-color="#f9ece3"/><stop offset="0.15" stop-color="#f6f7f7"/><stop offset="0.3" stop-color="#bddbea"/><stop offset="0.325" stop-color="#aed3e6"/><stop offset="0.375" stop-color="#86beda"/><stop offset="0.475" stop-color="#77b4d5"/><stop offset="0.525" stop-color="#7ab6d6"/><stop offset="0.575" stop-color="#90c4dd"/><stop offset="0.675" stop-color="#d6e7f1"/><stop offset="0.75" stop-color="#f2f5f6"/><stop offset="0.8" stop-color="#f8f1ed"/><stop offset="0.925" stop-color="#fddcc9"/><stop offset="0.95" stop-color="#fcd5bf"/><stop offset="1" stop-color="#fbd2bb"/></linearGradient>
<linearGradient id="gb18" gradientUnits="userSpaceOnUse" x1="0" x2="0" y1="106.3" y2="1085.9"><stop offset="0" stop-color="#f9ece5"/><stop offset="0.05" stop-color="#fae8de"/><stop offset="0.1" stop-color="#f9ece4"/><stop offset="0.15" stop-color="#f7f5f3"/><stop offset="0.2" stop-color="#e7eff4"/><stop offset="0.3" stop-color="#c6dfed"/><stop offset="0.325" stop-color="#b8d8e9"/><stop offset="0.35" stop-color="#a2cde3"/><stop offset="0.375" stop-color="#94c6de"/><stop offset="0.475" stop-color="#83bbd9"/><stop offset="0.525" stop-color="#86bdda"/><stop offset="0.575" stop-color="#99c8e0"/><stop offset="0.65" stop-color="#cce3ef"/><stop offset="0.725" stop-color="#ecf2f5"/><stop offset="0.75" stop-color="#f4f6f6"/><stop offset="0.85" stop-color="#fae7dc"/><stop offset="0.95" stop-color="#fcd3bd"/><stop offset="1" stop-color="#fbd1ba"/></linearGradient>
<linearGradient id="gb19" gradientUnits="userSpaceOnUse" x1="0" x2="0" y1="106.3" y2="1085.9"><stop offset="0" stop-color="#faeae1"/><stop offset="0.05" stop-color="#fbe6d9"/><stop offset="0.1" stop-color="#fae9df"/><stop offset="0.175" stop-color="#f5f6f7"/><stop offset="0.25" stop-color="#dae9f2"/><stop offset="0.3" stop-color="#d0e4f0"/><stop offset="0.325" stop-color="#c3deec"/><stop offset="0.375" stop-color="#a0cce2"/><stop offset="0.475" stop-color="#8ec3dd"/><stop offset="0.525" stop-color="#91c4de"/><stop offset="0.575" stop-color="#a1cde2"/><stop offset="0.65" stop-color="#d2e5f0"/><stop offset="0.75" stop-color="#f5f6f7"/><stop offset="0.925" stop-color="#fcd8c3"/><stop offset="0.975" stop-color="#fbd0b9"/><stop offset="1" stop-color="#fbd0b9"/></linearGradient>
<linearGradient id="gb20" gradientUnits="userSpaceOnUse" x1="0" x2="0" y1="106.3" y2="1085.9"><stop offset="0" stop-color="#fae8dd"/><stop offset="0.05" stop-color="#fbe3d5"/><stop offset="0.1" stop-color="#fbe6da"/><stop offset="0.15" stop-color="#f9eee8"/><stop offset="0.175" stop-color="#f7f5f4"/><stop offset="0.275" stop-color="#dae9f2"/><stop offset="0.325" stop-color="#cde3ef"/><stop offset="0.375" stop-color="#aed3e6"/><stop offset="0.475" stop-color="#9dcbe1"/><stop offset="0.525" stop-color="#9ecbe1"/><stop offset="0.575" stop-color="#a9d1e5"/><stop offset="0.65" stop-color="#d5e7f1"/><stop offset="0.75" stop-color="#f7f7f7"/><stop offset="0.875" stop-color="#fcdfce"/><stop offset="0.95" stop-color="#fbd1ba"/><stop offset="1" stop-color="#fbcfb7"/></linearGradient>
<linearGradient id="gb21" gradientUnits="userSpaceOnUse" x1="0" x2="0" y1="106.3" y2="1085.9"><stop offset="0" stop-color="#fbe4d7"/><stop offset="0.05" stop-color="#fcdfcd"/><stop offset="0.1" stop-color="#fbe2d4"/><stop offset="0.2" stop-color="#f4f5f6"/><stop offset="0.275" stop-color="#dfecf3"/><stop offset="0.325" stop-color="#d5e7f1"/><stop offset="0.375" stop-color="#bbdaea"/><stop offset="0.475" stop-color="#aed3e6"/><stop offset="0.525" stop-color="#afd4e6"/><stop offset="0.575" stop-color="#bcdaea"/><stop offset="0.65" stop-color="#dbeaf2"/><stop offset="0.725" stop-color="#f2f5f6"/><stop offset="0.75" stop-color="#f7f6f5"/><stop offset="0.875" stop-color="#fdddca"/><stop offset="0.95" stop-color="#fbcfb8"/><stop offset="1" stop-color="#fbceb6"/></linearGradient>
<linearGradient id="gb22" gradientUnits="userSpaceOnUse" x1="0" x2="0" y1="106.3" y2="1085.9"><stop offset="0" stop-color="#fce1d2"/><stop offset="0.05" stop-color="#fddac6"/><stop offset="0.1" stop-color="#fcdfcd"/><stop offset="0.2" stop-color="#f7f5f4"/><stop offset="0.325" stop-color="#dfecf3"/><stop offset="0.375" stop-color="#cfe4ef"/><stop offset="0.475" stop-color="#c6e0ed"/><stop offset="0.55" stop-color="#cbe2ee"/><stop offset="0.725" stop-color="#f6f6f7"/><stop offset="0.775" stop-color="#f9efe9"/><stop offset="0.875" stop-color="#fdd8c4"/><stop offset="0.95" stop-color="#fbceb6"/><stop offset="1" stop-color="#fbcdb5"/></linearGradient>
<linearGradient id="gb23" gradientUnits="userSpaceOnUse" x1="0" x2="0" y1="106.3" y2="1085.9"><stop offset="0" stop-color="#fcddcb"/><stop offset="0.05" stop-color="#fcd4bf"/><stop offset="0.075" stop-color="#fcd5bf"/><stop offset="0.175" stop-color="#faebe2"/><stop offset="0.225" stop-color="#f7f7f7"/><stop offset="0.325" stop-color="#e7f0f4"/><stop offset="0.375" stop-color="#d8e8f1"/><stop offset="0.55" stop-color="#dae9f2"/><stop offset="0.65" stop-color="#e6eff4"/><stop offset="0.7" stop-color="#f4f6f6"/><stop offset="0.75" stop-color="#f8f3f0"/><stop offset="0.875" stop-color="#fcd4be"/><stop offset="0.975" stop-color="#fbccb4"/><stop offset="1" stop-color="#fbccb4"/></linearGradient>
<linearGradient id="gb24" gradientUnits="userSpaceOnUse" x1="0" x2="0" y1="106.3" y2="1085.9"><stop offset="0" stop-color="#fddbc7"/><stop offset="0.025" stop-color="#fcd3bd"/><stop offset="0.075" stop-color="#fbd1ba"/><stop offset="0.225" stop-color="#f7f5f3"/><stop offset="0.275" stop-color="#f2f5f6"/><stop offset="0.375" stop-color="#e1edf3"/><stop offset="0.575" stop-color="#e5eef4"/><stop offset="0.65" stop-color="#ebf1f5"/><stop offset="0.7" stop-color="#f6f6f7"/><stop offset="0.75" stop-color="#f8f2ef"/><stop offset="0.875" stop-color="#fcd2bc"/><stop offset="0.975" stop-color="#fbccb4"/><stop offset="1" stop-color="#fbccb4"/></linearGradient>
<linearGradient id="gb25" gradientUnits="userSpaceOnUse" x1="0" x2="0" y1="106.3" y2="1085.9"><stop offset="0" stop-color="#fcd7c1"/><stop offset="0.025" stop-color="#fbceb7"/><stop offset="0.05" stop-color="#facbb2"/><stop offset="0.075" stop-color="#facbb3"/><stop offset="0.175" stop-color="#fbe6d9"/><stop offset="0.25" stop-color="#f8f4f3"/><stop offset="0.3" stop-color="#f5f6f7"/><stop offset="0.375" stop-color="#edf2f5"/><stop offset="0.625" stop-color="#eef3f5"/><stop offset="0.675" stop-color="#f6f6f7"/><stop offset="0.75" stop-color="#f8f2ee"/><stop offset="0.8" stop-color="#fae7dc"/><stop offset="0.875" stop-color="#fbd0b9"/><stop offset="0.975" stop-color="#fac7ad"/><stop offset="1" stop-color="#fac7ad"/></linearGradient>
<linearGradient id="gb26" gradientUnits="userSpaceOnUse" x1="0" x2="0" y1="106.3" y2="1085.9"><stop offset="0" stop-color="#fbcfb8"/><stop offset="0.025" stop-color="#fac8ae"/><stop offset="0.075" stop-color="#f9c6ac"/><stop offset="0.15" stop-color="#fddcc9"/><stop offset="0.25" stop-color="#faeae1"/><stop offset="0.3" stop-color="#f8f4f3"/><stop offset="0.625" stop-color="#f6f6f7"/><stop offset="0.7" stop-color="#f9ece4"/><stop offset="0.75" stop-color="#f9ede6"/><stop offset="0.8" stop-color="#fbe6da"/><stop offset="0.875" stop-color="#fbceb6"/><stop offset="0.95" stop-color="#f7b496"/><stop offset="1" stop-color="#f6b192"/></linearGradient>
<linearGradient id="gb27" gradientUnits="userSpaceOnUse" x1="0" x2="0" y1="106.3" y2="1085.9"><stop offset="0" stop-color="#f9c4aa"/><stop offset="0.05" stop-color="#f8bfa4"/><stop offset="0.075" stop-color="#f9c1a5"/><stop offset="0.125" stop-color="#fbd2bb"/><stop offset="0.275" stop-color="#fbe3d5"/><stop offset="0.325" stop-color="#fae7dc"/><stop offset="0.55" stop-color="#fbe6da"/><stop offset="0.575" stop-color="#fae7dc"/><stop offset="0.625" stop-color="#f9efea"/><stop offset="0.7" stop-color="#fbe3d4"/><stop offset="0.775" stop-color="#fbe3d4"/><stop offset="0.825" stop-color="#fddcc9"/><stop offset="0.875" stop-color="#faccb4"/><stop offset="0.95" stop-color="#f2a17f"/><stop offset="0.975" stop-color="#ef9a7a"/><stop offset="1" stop-color="#ef9a7a"/></linearGradient>
<linearGradient id="gb28" gradientUnits="userSpaceOnUse" x1="0" x2="0" y1="106.3" y2="1085.9"><stop offset="0" stop-color="#f7b697"/><stop offset="0.05" stop-color="#f6af8e"/><stop offset="0.075" stop-color="#f6b091"/><stop offset="0.125" stop-color="#f9c3a8"/><stop offset="0.25" stop-color="#fbceb6"/><stop offset="0.3" stop-color="#fcd7c2"/><stop offset="0.4" stop-color="#fcd7c2"/><stop offset="0.5" stop-color="#fbd0b9"/><stop offset="0.575" stop-color="#fcd6c1"/><stop offset="0.625" stop-color="#fce0d0"/><stop offset="0.7" stop-color="#fdd9c4"/><stop offset="0.775" stop-color="#fcd7c2"/><stop offset="0.85" stop-color="#f8bca0"/><stop offset="0.9" stop-color="#f4a684"/><stop offset="0.95" stop-color="#e58368"/><stop offset="0.975" stop-color="#e27d63"/><stop offset="1" stop-color="#e27d63"/></linearGradient>
<linearGradient id="gb29" gradientUnits="userSpaceOnUse" x1="0" x2="0" y1="106.3" y2="1085.9"><stop offset="0" stop-color="#f3a280"/><stop offset="0.05" stop-color="#f09c7b"/><stop offset="0.075" stop-color="#f19d7c"/><stop offset="0.125" stop-color="#f5ae8d"/><stop offset="0.325" stop-color="#f7b89a"/><stop offset="0.5" stop-color="#f5a987"/><stop offset="0.55" stop-color="#f5ad8d"/><stop offset="0.575" stop-color="#f6b394"/><stop offset="0.6" stop-color="#f8c0a4"/><stop offset="0.625" stop-color="#fac7ad"/><stop offset="0.725" stop-color="#f8bfa3"/><stop offset="0.775" stop-color="#f8bca0"/><stop offset="0.825" stop-color="#f5ad8c"/><stop offset="0.875" stop-color="#ed9676"/><stop offset="0.95" stop-color="#d86551"/><stop offset="0.975" stop-color="#d65f4d"/><stop offset="1" stop-color="#d65f4d"/></linearGradient>
<linearGradient id="gb30" gradientUnits="userSpaceOnUse" x1="0" x2="0" y1="106.3" y2="1085.9"><stop offset="0" stop-color="#ea8d70"/><stop offset="0.05" stop-color="#e7866a"/><stop offset="0.075" stop-color="#e7876b"/><stop offset="0.125" stop-color="#ed9475"/><stop offset="0.325" stop-color="#ec9375"/><stop offset="0.475" stop-color="#e07860"/><stop offset="0.525" stop-color="#e17a61"/><stop offset="0.575" stop-color="#e7876b"/><stop offset="0.6" stop-color="#ed9576"/><stop offset="0.625" stop-color="#f09d7c"/><stop offset="0.775" stop-color="#ee9777"/><stop offset="0.875" stop-color="#de725b"/><stop offset="0.95" stop-color="#cb4a43"/><stop offset="0.975" stop-color="#c84440"/><stop offset="1" stop-color="#c84440"/></linearGradient>
<linearGradient id="gb31" gradientUnits="userSpaceOnUse" x1="0" x2="0" y1="106.3" y2="1085.9"><stop offset="0" stop-color="#e37d63"/><stop offset="0.05" stop-color="#de715a"/><stop offset="0.15" stop-color="#e0765e"/><stop offset="0.325" stop-color="#da6954"/><stop offset="0.375" stop-color="#d2594a"/><stop offset="0.475" stop-color="#cb4a42"/><stop offset="0.525" stop-color="#cc4b43"/><stop offset="0.625" stop-color="#d86450"/><stop offset="0.75" stop-color="#da6954"/><stop offset="0.825" stop-color="#d45d4b"/><stop offset="0.95" stop-color="#c03539"/><stop offset="1" stop-color="#bf3137"/></linearGradient>
<linearGradient id="gb32" gradientUnits="userSpaceOnUse" x1="0" x2="0" y1="106.3" y2="1085.9"><stop offset="0" stop-color="#dc6d57"/><stop offset="0.05" stop-color="#d86450"/><stop offset="0.15" stop-color="#d86450"/><stop offset="0.325" stop-color="#c6403e"/><stop offset="0.375" stop-color="#bf3137"/><stop offset="0.575" stop-color="#bf3237"/><stop offset="0.65" stop-color="#c33a3b"/><stop offset="0.8" stop-color="#c2373a"/><stop offset="0.9" stop-color="#be3137"/><stop offset="1" stop-color="#be3137"/></linearGradient>
<linearGradient id="gb33" gradientUnits="userSpaceOnUse" x1="0" x2="0" y1="106.3" y2="1085.9"><stop offset="0" stop-color="#d86551"/><stop offset="0.05" stop-color="#d45d4c"/><stop offset="0.125" stop-color="#d6604d"/><stop offset="0.175" stop-color="#d15648"/><stop offset="0.25" stop-color="#c63f3d"/><stop offset="0.4" stop-color="#be3036"/><stop offset="0.575" stop-color="#be3137"/><stop offset="0.675" stop-color="#c13739"/><stop offset="0.975" stop-color="#be3036"/><stop offset="1" stop-color="#be3036"/></linearGradient>
<linearGradient id="gb34" gradientUnits="userSpaceOnUse" x1="0" x2="0" y1="106.3" y2="1085.9"><stop offset="0" stop-color="#d55d4c"/><stop offset="0.15" stop-color="#d25749"/><stop offset="0.25" stop-color="#c43c3c"/><stop offset="0.4" stop-color="#be2f36"/><stop offset="0.8" stop-color="#bf3237"/><stop offset="1" stop-color="#be2f36"/></linearGradient>
<clipPath id="cfc"><rect x="168.6" y="1435.2" width="544.1" height="972.3"/></clipPath>
<clipPath id="cbc"><path d="M-29.2 1419.5L31.6 1443.9L87.3 1468.4L138.1 1492.9L184.5 1517.4L226.7 1541.9L265 1566.4L299.7 1590.9L330.9 1615.4L358.9 1639.9L383.9 1664.4L406 1688.8L425.6 1713.3L442.6 1737.8L457.2 1762.3L469.6 1786.8L479.9 1811.3L488 1835.8L494.2 1860.3L498.3 1884.8L500.6 1909.3L500.9 1933.7L499.2 1958.2L495.6 1982.7L490 2007.2L482.3 2031.7L472.5 2056.2L460.5 2080.7L446.1 2105.2L429.3 2129.7L409.8 2154.2L387.6 2178.6L362.4 2203.1L334 2227.6L302.3 2252.1L267 2276.6L227.8 2301.1L184.5 2325.6L136.8 2350.1L84.4 2374.6L26.9 2399.1L-35.8 2423.5L413.4 2423.5L431.8 2399.1L449.8 2374.6L467.2 2350.1L483.9 2325.6L500 2301.1L515.3 2276.6L529.9 2252.1L543.6 2227.6L556.4 2203.1L568.4 2178.6L579.4 2154.2L589.4 2129.7L598.5 2105.2L606.5 2080.7L613.5 2056.2L619.4 2031.7L624.2 2007.2L627.9 1982.7L630.5 1958.2L632 1933.7L632.4 1909.3L631.6 1884.8L629.7 1860.3L626.8 1835.8L622.7 1811.3L617.5 1786.8L611.2 1762.3L603.9 1737.8L595.5 1713.3L586.1 1688.8L575.7 1664.4L564.4 1639.9L552.1 1615.4L538.9 1590.9L524.9 1566.4L510 1541.9L494.4 1517.4L478 1492.9L461 1468.4L443.3 1443.9L425.1 1419.5Z"/></clipPath>
<linearGradient id="gc0" gradientUnits="userSpaceOnUse" x1="0" x2="0" y1="1431.7" y2="2411.3"><stop offset="0" stop-color="#a9d1e4"/><stop offset="0.05" stop-color="#d1e5f0"/><stop offset="0.125" stop-color="#f4f6f6"/><stop offset="0.225" stop-color="#fbe4d6"/><stop offset="0.25" stop-color="#fdddcb"/><stop offset="0.275" stop-color="#fbceb6"/><stop offset="0.325" stop-color="#f19d7c"/><stop offset="0.35" stop-color="#e48066"/><stop offset="0.375" stop-color="#da6a54"/><stop offset="0.45" stop-color="#bf3338"/><stop offset="0.475" stop-color="#b92732"/><stop offset="0.5" stop-color="#b72230"/><stop offset="0.55" stop-color="#ba2933"/><stop offset="0.625" stop-color="#c8433f"/><stop offset="0.65" stop-color="#d25849"/><stop offset="0.675" stop-color="#e17960"/><stop offset="0.7" stop-color="#f2a17f"/><stop offset="0.725" stop-color="#f9c1a6"/><stop offset="0.75" stop-color="#fddbc7"/><stop offset="0.8" stop-color="#f8f1ec"/><stop offset="0.825" stop-color="#f2f5f6"/><stop offset="0.9" stop-color="#cee3ef"/><stop offset="0.95" stop-color="#abd2e5"/><stop offset="0.975" stop-color="#a5cfe3"/><stop offset="1" stop-color="#a5cfe3"/></linearGradient>
<linearGradient id="gc1" gradientUnits="userSpaceOnUse" x1="0" x2="0" y1="1431.7" y2="2411.3"><stop offset="0" stop-color="#a4cee3"/><stop offset="0.025" stop-color="#acd2e6"/><stop offset="0.125" stop-color="#eef3f5"/><stop offset="0.15" stop-color="#f5f6f7"/><stop offset="0.225" stop-color="#f9eee7"/><stop offset="0.25" stop-color="#fae8de"/><stop offset="0.275" stop-color="#fcdfce"/><stop offset="0.3" stop-color="#facab1"/><stop offset="0.325" stop-color="#f6ae8e"/><stop offset="0.35" stop-color="#eb9072"/><stop offset="0.375" stop-color="#e0775f"/><stop offset="0.425" stop-color="#d05448"/><stop offset="0.475" stop-color="#c43b3c"/><stop offset="0.5" stop-color="#c2373a"/><stop offset="0.55" stop-color="#c6403e"/><stop offset="0.625" stop-color="#d6604d"/><stop offset="0.65" stop-color="#de725b"/><stop offset="0.675" stop-color="#ea8f71"/><stop offset="0.7" stop-color="#f5ad8d"/><stop offset="0.725" stop-color="#fac8af"/><stop offset="0.75" stop-color="#fcddcb"/><stop offset="0.8" stop-color="#f8f4f1"/><stop offset="0.825" stop-color="#edf2f5"/><stop offset="0.875" stop-color="#d3e6f0"/><stop offset="0.925" stop-color="#add3e6"/><stop offset="0.95" stop-color="#9ecbe2"/><stop offset="0.975" stop-color="#98c8e0"/><stop offset="1" stop-color="#98c8e0"/></linearGradient>
<linearGradient id="gc2" gradientUnits="userSpaceOnUse" x1="0" x2="0" y1="1431.7" y2="2411.3"><stop offset="0" stop-color="#9fcbe2"/><stop offset="0.05" stop-color="#acd2e6"/><stop offset="0.075" stop-color="#bcdaea"/><stop offset="0.1" stop-color="#d7e8f1"/><stop offset="0.125" stop-color="#e6eff4"/><stop offset="0.225" stop-color="#f6f7f7"/><stop offset="0.25" stop-color="#f8f4f1"/><stop offset="0.275" stop-color="#f9ebe3"/><stop offset="0.3" stop-color="#fcdfcd"/><stop offset="0.35" stop-color="#f5ac8a"/><stop offset="0.375" stop-color="#ed9475"/><stop offset="0.45" stop-color="#d55f4c"/><stop offset="0.475" stop-color="#d05347"/><stop offset="0.5" stop-color="#cd4f45"/><stop offset="0.55" stop-color="#d3594a"/><stop offset="0.6" stop-color="#de715a"/><stop offset="0.65" stop-color="#eb9072"/><stop offset="0.675" stop-color="#f4a684"/><stop offset="0.725" stop-color="#fbd0b9"/><stop offset="0.775" stop-color="#faebe2"/><stop offset="0.8" stop-color="#f7f7f6"/><stop offset="0.875" stop-color="#c8e1ed"/><stop offset="0.925" stop-color="#a1cce2"/><stop offset="0.95" stop-color="#92c5de"/><stop offset="0.975" stop-color="#8ac0db"/><stop offset="1" stop-color="#8ac0db"/></linearGradient>
<linearGradient id="gc3" gradientUnits="userSpaceOnUse" x1="0" x2="0" y1="1431.7" y2="2411.3"><stop offset="0" stop-color="#9ac9e0"/><stop offset="0.05" stop-color="#a0cce2"/><stop offset="0.075" stop-color="#abd2e5"/><stop offset="0.1" stop-color="#cae1ee"/><stop offset="0.125" stop-color="#dceaf2"/><stop offset="0.25" stop-color="#eff3f6"/><stop offset="0.275" stop-color="#f7f6f5"/><stop offset="0.325" stop-color="#fce0cf"/><stop offset="0.4" stop-color="#f5a987"/><stop offset="0.45" stop-color="#e47f65"/><stop offset="0.475" stop-color="#dd715a"/><stop offset="0.5" stop-color="#db6b55"/><stop offset="0.525" stop-color="#dc6e58"/><stop offset="0.575" stop-color="#e68469"/><stop offset="0.625" stop-color="#f2a27f"/><stop offset="0.675" stop-color="#f8bda1"/><stop offset="0.725" stop-color="#fdddca"/><stop offset="0.775" stop-color="#f8f0eb"/><stop offset="0.8" stop-color="#f0f4f6"/><stop offset="0.85" stop-color="#d1e5f0"/><stop offset="0.95" stop-color="#82bbd8"/><stop offset="0.975" stop-color="#7ab6d6"/><stop offset="1" stop-color="#7ab6d6"/></linearGradient>
<linearGradient id="gc4" gradientUnits="userSpaceOnUse" x1="0" x2="0" y1="1431.7" y2="2411.3"><stop offset="0" stop-color="#93c6de"/><stop offset="0.05" stop-color="#96c7df"/><stop offset="0.075" stop-color="#9dcbe1"/><stop offset="0.1" stop-color="#bad9e9"/><stop offset="0.125" stop-color="#d1e5f0"/><stop offset="0.25" stop-color="#e1edf3"/><stop offset="0.3" stop-color="#f4f6f6"/><stop offset="0.375" stop-color="#fddcc9"/><stop offset="0.45" stop-color="#f6ae8e"/><stop offset="0.475" stop-color="#f3a380"/><stop offset="0.5" stop-color="#f19e7c"/><stop offset="0.55" stop-color="#f4a683"/><stop offset="0.65" stop-color="#fac8af"/><stop offset="0.7" stop-color="#fcdfce"/><stop offset="0.775" stop-color="#f4f6f7"/><stop offset="0.825" stop-color="#d6e7f1"/><stop offset="0.95" stop-color="#73b2d4"/><stop offset="0.975" stop-color="#6cadd1"/><stop offset="1" stop-color="#6cadd1"/></linearGradient>
<linearGradient id="gc5" gradientUnits="userSpaceOnUse" x1="0" x2="0" y1="1431.7" y2="2411.3"><stop offset="0" stop-color="#8ac0db"/><stop offset="0.05" stop-color="#8bc1dc"/><stop offset="0.075" stop-color="#93c6de"/><stop offset="0.1" stop-color="#b0d4e7"/><stop offset="0.125" stop-color="#c5dfed"/><stop offset="0.25" stop-color="#d0e5f0"/><stop offset="0.275" stop-color="#d7e8f1"/><stop offset="0.325" stop-color="#f4f6f6"/><stop offset="0.375" stop-color="#fae7db"/><stop offset="0.475" stop-color="#fcd2bc"/><stop offset="0.525" stop-color="#fbd1ba"/><stop offset="0.65" stop-color="#fce0d0"/><stop offset="0.725" stop-color="#f7f5f3"/><stop offset="0.775" stop-color="#e4eef4"/><stop offset="0.8" stop-color="#d7e8f1"/><stop offset="0.925" stop-color="#76b3d4"/><stop offset="0.95" stop-color="#66a9cf"/><stop offset="0.975" stop-color="#60a5cd"/><stop offset="1" stop-color="#60a5cd"/></linearGradient>
<linearGradient id="gc6" gradientUnits="userSpaceOnUse" x1="0" x2="0" y1="1431.7" y2="2411.3"><stop offset="0" stop-color="#80b9d8"/><stop offset="0.05" stop-color="#80b9d8"/><stop offset="0.075" stop-color="#86beda"/><stop offset="0.1" stop-color="#a5cfe3"/><stop offset="0.125" stop-color="#bad9e9"/><stop offset="0.25" stop-color="#c8e0ed"/><stop offset="0.35" stop-color="#f7f7f7"/><stop offset="0.4" stop-color="#f9eee7"/><stop offset="0.475" stop-color="#fae7dc"/><stop offset="0.625" stop-color="#fae9df"/><stop offset="0.675" stop-color="#f8f3f0"/><stop offset="0.7" stop-color="#f1f4f6"/><stop offset="0.775" stop-color="#d0e4f0"/><stop offset="0.875" stop-color="#90c4dd"/><stop offset="0.925" stop-color="#69abd0"/><stop offset="0.95" stop-color="#5aa2cb"/><stop offset="0.975" stop-color="#549ec9"/><stop offset="1" stop-color="#549ec9"/></linearGradient>
<linearGradient id="gc7" gradientUnits="userSpaceOnUse" x1="0" x2="0" y1="1431.7" y2="2411.3"><stop offset="0" stop-color="#78b5d5"/><stop offset="0.05" stop-color="#7ab6d6"/><stop offset="0.075" stop-color="#81bad8"/><stop offset="0.1" stop-color="#9ccae1"/><stop offset="0.125" stop-color="#afd4e6"/><stop offset="0.25" stop-color="#bfdceb"/><stop offset="0.35" stop-color="#ecf2f5"/><stop offset="0.45" stop-color="#f7f7f6"/><stop offset="0.65" stop-color="#f5f6f7"/><stop offset="0.725" stop-color="#d7e8f1"/><stop offset="0.875" stop-color="#82bbd8"/><stop offset="0.95" stop-color="#529dc8"/><stop offset="1" stop-color="#4d99c6"/></linearGradient>
<linearGradient id="gc8" gradientUnits="userSpaceOnUse" x1="0" x2="0" y1="1431.7" y2="2411.3"><stop offset="0" stop-color="#72b1d3"/><stop offset="0.05" stop-color="#74b2d4"/><stop offset="0.075" stop-color="#7bb7d6"/><stop offset="0.1" stop-color="#96c7df"/><stop offset="0.125" stop-color="#a7d0e4"/><stop offset="0.25" stop-color="#b6d7e8"/><stop offset="0.325" stop-color="#d8e8f1"/><stop offset="0.375" stop-color="#e4eef3"/><stop offset="0.575" stop-color="#eaf1f5"/><stop offset="0.65" stop-color="#e7eff4"/><stop offset="0.7" stop-color="#d5e7f1"/><stop offset="0.85" stop-color="#83bcd9"/><stop offset="0.95" stop-color="#4c99c6"/><stop offset="1" stop-color="#4795c4"/></linearGradient>
<linearGradient id="gc9" gradientUnits="userSpaceOnUse" x1="0" x2="0" y1="1431.7" y2="2411.3"><stop offset="0" stop-color="#72b1d3"/><stop offset="0.05" stop-color="#72b1d3"/><stop offset="0.075" stop-color="#77b4d5"/><stop offset="0.1" stop-color="#8ec3dd"/><stop offset="0.125" stop-color="#9fcbe2"/><stop offset="0.25" stop-color="#b1d5e7"/><stop offset="0.35" stop-color="#d3e6f0"/><stop offset="0.5" stop-color="#dbeaf2"/><stop offset="0.625" stop-color="#dceaf2"/><stop offset="0.675" stop-color="#d2e6f0"/><stop offset="0.75" stop-color="#a6cfe4"/><stop offset="0.825" stop-color="#85bdda"/><stop offset="0.95" stop-color="#4796c5"/><stop offset="1" stop-color="#4393c3"/></linearGradient>
<linearGradient id="gc10" gradientUnits="userSpaceOnUse" x1="0" x2="0" y1="1431.7" y2="2411.3"><stop offset="0" stop-color="#72b1d3"/><stop offset="0.05" stop-color="#72b1d3"/><stop offset="0.075" stop-color="#76b3d4"/><stop offset="0.125" stop-color="#97c7df"/><stop offset="0.275" stop-color="#b3d6e7"/><stop offset="0.35" stop-color="#c8e1ee"/><stop offset="0.5" stop-color="#cde3ef"/><stop offset="0.625" stop-color="#cce2ef"/><stop offset="0.675" stop-color="#bddbea"/><stop offset="0.75" stop-color="#95c7df"/><stop offset="0.95" stop-color="#4695c4"/><stop offset="1" stop-color="#4393c3"/></linearGradient>
<linearGradient id="gc11" gradientUnits="userSpaceOnUse" x1="0" x2="0" y1="1431.7" y2="2411.3"><stop offset="0" stop-color="#72b1d3"/><stop offset="0.075" stop-color="#75b3d4"/><stop offset="0.125" stop-color="#93c5de"/><stop offset="0.275" stop-color="#aed3e6"/><stop offset="0.35" stop-color="#bfdceb"/><stop offset="0.525" stop-color="#c2ddec"/><stop offset="0.65" stop-color="#b0d4e6"/><stop offset="0.825" stop-color="#6eaed2"/><stop offset="0.95" stop-color="#4594c4"/><stop offset="1" stop-color="#4392c3"/></linearGradient>
<linearGradient id="gc12" gradientUnits="userSpaceOnUse" x1="0" x2="0" y1="1431.7" y2="2411.3"><stop offset="0" stop-color="#72b1d3"/><stop offset="0.075" stop-color="#75b2d4"/><stop offset="0.125" stop-color="#8ec2dc"/><stop offset="0.375" stop-color="#b8d8e9"/><stop offset="0.525" stop-color="#b7d8e8"/><stop offset="0.65" stop-color="#9fcce2"/><stop offset="0.8" stop-color="#6daed1"/><stop offset="0.95" stop-color="#4494c3"/><stop offset="1" stop-color="#4292c3"/></linearGradient>
<linearGradient id="gc13" gradientUnits="userSpaceOnUse" x1="0" x2="0" y1="1431.7" y2="2411.3"><stop offset="0" stop-color="#72b1d3"/><stop offset="0.075" stop-color="#74b2d4"/><stop offset="0.15" stop-color="#8fc3dd"/><stop offset="0.35" stop-color="#afd3e6"/><stop offset="0.525" stop-color="#afd4e6"/><stop offset="0.65" stop-color="#94c6df"/><stop offset="0.75" stop-color="#6fafd2"/><stop offset="0.9" stop-color="#509cc8"/><stop offset="0.95" stop-color="#4493c3"/><stop offset="1" stop-color="#4292c2"/></linearGradient>
<linearGradient id="gc14" gradientUnits="userSpaceOnUse" x1="0" x2="0" y1="1431.7" y2="2411.3"><stop offset="0" stop-color="#72b1d3"/><stop offset="0.075" stop-color="#74b2d4"/><stop offset="0.2" stop-color="#96c7df"/><stop offset="0.35" stop-color="#a8d0e4"/><stop offset="0.525" stop-color="#a9d1e4"/><stop offset="0.65" stop-color="#88beda"/><stop offset="0.75" stop-color="#68aad0"/><stop offset="0.9" stop-color="#4e9ac7"/><stop offset="0.95" stop-color="#4393c3"/><stop offset="1" stop-color="#4292c2"/></linearGradient>
<linearGradient id="gc15" gradientUnits="userSpaceOnUse" x1="0" x2="0" y1="1431.7" y2="2411.3"><stop offset="0" stop-color="#72b1d3"/><stop offset="0.075" stop-color="#73b2d3"/><stop offset="0.225" stop-color="#98c8e0"/><stop offset="0.375" stop-color="#a2cde2"/><stop offset="0.525" stop-color="#a3cde3"/><stop offset="0.75" stop-color="#63a7ce"/><stop offset="0.95" stop-color="#4393c3"/><stop offset="1" stop-color="#4292c2"/></linearGradient>
<linearGradient id="gc16" gradientUnits="userSpaceOnUse" x1="0" x2="0" y1="1431.7" y2="2411.3"><stop offset="0" stop-color="#72b1d3"/><stop offset="0.075" stop-color="#73b1d3"/><stop offset="0.225" stop-color="#96c7df"/><stop offset="0.375" stop-color="#a0cce2"/><stop offset="0.525" stop-color="#9dcae1"/><stop offset="0.725" stop-color="#62a7ce"/><stop offset="0.95" stop-color="#4292c3"/><stop offset="1" stop-color="#4291c2"/></linearGradient>
<linearGradient id="gc17" gradientUnits="userSpaceOnUse" x1="0" x2="0" y1="1431.7" y2="2411.3"><stop offset="0" stop-color="#72b1d3"/><stop offset="0.075" stop-color="#73b1d3"/><stop offset="0.25" stop-color="#97c7df"/><stop offset="0.375" stop-color="#9fcce2"/><stop offset="0.5" stop-color="#9bc9e0"/><stop offset="0.55" stop-color="#91c4de"/><stop offset="0.65" stop-color="#6fafd2"/><stop offset="0.75" stop-color="#58a0ca"/><stop offset="0.95" stop-color="#4292c2"/><stop offset="1" stop-color="#4291c2"/></linearGradient>
<linearGradient id="gc18" gradientUnits="userSpaceOnUse" x1="0" x2="0" y1="1431.7" y2="2411.3"><stop offset="0" stop-color="#72b1d3"/><stop offset="0.1" stop-color="#76b3d4"/><stop offset="0.275" stop-color="#96c7df"/><stop offset="0.4" stop-color="#9ecbe1"/><stop offset="0.525" stop-color="#92c5de"/><stop offset="0.625" stop-color="#6daed1"/><stop offset="0.75" stop-color="#549ec9"/><stop offset="0.975" stop-color="#4191c2"/><stop offset="1" stop-color="#4191c2"/></linearGradient>
<linearGradient id="gc19" gradientUnits="userSpaceOnUse" x1="0" x2="0" y1="1431.7" y2="2411.3"><stop offset="0" stop-color="#72b1d3"/><stop offset="0.1" stop-color="#75b3d4"/><stop offset="0.325" stop-color="#9ac9e0"/><stop offset="0.4" stop-color="#9ccae1"/><stop offset="0.5" stop-color="#91c4de"/><stop offset="0.575" stop-color="#78b4d5"/><stop offset="0.625" stop-color="#66a9cf"/><stop offset="0.75" stop-color="#509bc8"/><stop offset="1" stop-color="#4191c2"/></linearGradient>
<linearGradient id="gc20" gradientUnits="userSpaceOnUse" x1="0" x2="0" y1="1431.7" y2="2411.3"><stop offset="0" stop-color="#72b1d3"/><stop offset="0.125" stop-color="#77b4d5"/><stop offset="0.35" stop-color="#99c8e0"/><stop offset="0.425" stop-color="#96c7df"/><stop offset="0.525" stop-color="#80bad8"/><stop offset="0.625" stop-color="#60a5cd"/><stop offset="0.75" stop-color="#4d99c6"/><stop offset="0.975" stop-color="#4190c2"/><stop offset="1" stop-color="#4190c2"/></linearGradient>
<linearGradient id="gc21" gradientUnits="userSpaceOnUse" x1="0" x2="0" y1="1431.7" y2="2411.3"><stop offset="0" stop-color="#72b1d3"/><stop offset="0.15" stop-color="#78b5d5"/><stop offset="0.35" stop-color="#92c5de"/><stop offset="0.425" stop-color="#8ec2dc"/><stop offset="0.55" stop-color="#6eaed2"/><stop offset="0.65" stop-color="#559ec9"/><stop offset="0.8" stop-color="#4795c4"/><stop offset="1" stop-color="#4190c1"/></linearGradient>
<linearGradient id="gc22" gradientUnits="userSpaceOnUse" x1="0" x2="0" y1="1431.7" y2="2411.3"><stop offset="0" stop-color="#72b1d3"/><stop offset="0.25" stop-color="#7ab6d6"/><stop offset="0.375" stop-color="#8ac0db"/><stop offset="0.45" stop-color="#7eb9d7"/><stop offset="0.625" stop-color="#539dc8"/><stop offset="0.775" stop-color="#4594c4"/><stop offset="1" stop-color="#4190c1"/></linearGradient>
<linearGradient id="gc23" gradientUnits="userSpaceOnUse" x1="0" x2="0" y1="1431.7" y2="2411.3"><stop offset="0" stop-color="#72b1d3"/><stop offset="0.275" stop-color="#72b1d3"/><stop offset="0.375" stop-color="#81bad8"/><stop offset="0.425" stop-color="#7ab6d6"/><stop offset="0.6" stop-color="#4e9ac7"/><stop offset="0.725" stop-color="#4393c3"/><stop offset="1" stop-color="#4090c1"/></linearGradient>
<linearGradient id="gc24" gradientUnits="userSpaceOnUse" x1="0" x2="0" y1="1431.7" y2="2411.3"><stop offset="0" stop-color="#72b1d3"/><stop offset="0.175" stop-color="#70afd2"/><stop offset="0.275" stop-color="#6cadd1"/><stop offset="0.375" stop-color="#79b5d5"/><stop offset="0.45" stop-color="#6cadd1"/><stop offset="0.6" stop-color="#4997c5"/><stop offset="0.725" stop-color="#4292c2"/><stop offset="1" stop-color="#4090c1"/></linearGradient>
<linearGradient id="gc25" gradientUnits="userSpaceOnUse" x1="0" x2="0" y1="1431.7" y2="2411.3"><stop offset="0" stop-color="#70afd2"/><stop offset="0.175" stop-color="#6dadd1"/><stop offset="0.25" stop-color="#66a9cf"/><stop offset="0.375" stop-color="#70b0d2"/><stop offset="0.425" stop-color="#6aacd0"/><stop offset="0.6" stop-color="#4594c4"/><stop offset="0.925" stop-color="#408fc1"/><stop offset="1" stop-color="#408fc1"/></linearGradient>
<linearGradient id="gc26" gradientUnits="userSpaceOnUse" x1="0" x2="0" y1="1431.7" y2="2411.3"><stop offset="0" stop-color="#64a8ce"/><stop offset="0.15" stop-color="#67aacf"/><stop offset="0.275" stop-color="#61a6cd"/><stop offset="0.375" stop-color="#68aad0"/><stop offset="0.5" stop-color="#539dc8"/><stop offset="0.6" stop-color="#4291c2"/><stop offset="1" stop-color="#3f8ec0"/></linearGradient>
<linearGradient id="gc27" gradientUnits="userSpaceOnUse" x1="0" x2="0" y1="1431.7" y2="2411.3"><stop offset="0" stop-color="#59a1cb"/><stop offset="0.15" stop-color="#5fa4cc"/><stop offset="0.25" stop-color="#58a0ca"/><stop offset="0.375" stop-color="#5fa5cd"/><stop offset="0.45" stop-color="#569fc9"/><stop offset="0.575" stop-color="#4190c2"/><stop offset="1" stop-color="#3d8bbf"/></linearGradient>
<linearGradient id="gc28" gradientUnits="userSpaceOnUse" x1="0" x2="0" y1="1431.7" y2="2411.3"><stop offset="0" stop-color="#4896c5"/><stop offset="0.075" stop-color="#4a97c5"/><stop offset="0.125" stop-color="#559ec9"/><stop offset="0.275" stop-color="#4e9ac7"/><stop offset="0.375" stop-color="#569fc9"/><stop offset="0.55" stop-color="#408fc1"/><stop offset="0.7" stop-color="#3c8abf"/><stop offset="1" stop-color="#3b88bd"/></linearGradient>
<linearGradient id="gc29" gradientUnits="userSpaceOnUse" x1="0" x2="0" y1="1431.7" y2="2411.3"><stop offset="0" stop-color="#3e8cc0"/><stop offset="0.075" stop-color="#3f8dc0"/><stop offset="0.15" stop-color="#4494c3"/><stop offset="0.3" stop-color="#4594c4"/><stop offset="0.4" stop-color="#4896c5"/><stop offset="0.625" stop-color="#3986bd"/><stop offset="1" stop-color="#3985bc"/></linearGradient>
<linearGradient id="gc30" gradientUnits="userSpaceOnUse" x1="0" x2="0" y1="1431.7" y2="2411.3"><stop offset="0" stop-color="#3986bc"/><stop offset="0.4" stop-color="#408fc1"/><stop offset="0.65" stop-color="#3783bb"/><stop offset="1" stop-color="#3783bb"/></linearGradient>
<linearGradient id="gc31" gradientUnits="userSpaceOnUse" x1="0" x2="0" y1="1431.7" y2="2411.3"><stop offset="0" stop-color="#3581ba"/><stop offset="0.425" stop-color="#3b88bd"/><stop offset="0.725" stop-color="#3682ba"/><stop offset="1" stop-color="#3581ba"/></linearGradient>
<linearGradient id="gc32" gradientUnits="userSpaceOnUse" x1="0" x2="0" y1="1431.7" y2="2411.3"><stop offset="0" stop-color="#3580b9"/><stop offset="0.55" stop-color="#3783bb"/><stop offset="1" stop-color="#3580b9"/></linearGradient>
<linearGradient id="gc33" gradientUnits="userSpaceOnUse" x1="0" x2="0" y1="1431.7" y2="2411.3"><stop offset="0" stop-color="#3580b9"/><stop offset="1" stop-color="#3580b9"/></linearGradient>
<linearGradient id="gc34" gradientUnits="userSpaceOnUse" x1="0" x2="0" y1="1431.7" y2="2411.3"><stop offset="0" stop-color="#347fb9"/><stop offset="1" stop-color="#347fb9"/></linearGradient>
<clipPath id="cfd"><rect x="1113.1" y="1435.2" width="544.1" height="972.3"/></clipPath>
<clipPath id="cbd"><path d="M724.5 1419.5L813.5 1443.9L894.2 1468.4L967.1 1492.9L1032.8 1517.4L1091.8 1541.9L1144.6 1566.4L1191.6 1590.9L1233.3 1615.4L1270.1 1639.9L1302.4 1664.4L1330.5 1688.8L1354.8 1713.3L1375.6 1737.8L1393.2 1762.3L1407.9 1786.8L1419.8 1811.3L1429.2 1835.8L1436.3 1860.3L1441.2 1884.8L1444.2 1909.3L1445.2 1933.7L1444.4 1958.2L1441.9 1982.7L1437.6 2007.2L1431.7 2031.7L1424 2056.2L1414.5 2080.7L1403.3 2105.2L1390.1 2129.7L1374.9 2154.2L1357.6 2178.6L1337.9 2203.1L1315.7 2227.6L1290.8 2252.1L1262.9 2276.6L1231.7 2301.1L1197.1 2325.6L1158.6 2350.1L1115.9 2374.6L1068.7 2399.1L1016.6 2423.5L1387.6 2423.5L1403 2399.1L1418 2374.6L1432.7 2350.1L1447 2325.6L1460.7 2301.1L1473.8 2276.6L1486.4 2252.1L1498.3 2227.6L1509.5 2203.1L1520 2178.6L1529.7 2154.2L1538.6 2129.7L1546.6 2105.2L1553.8 2080.7L1560 2056.2L1565.3 2031.7L1569.7 2007.2L1573.1 1982.7L1575.4 1958.2L1576.8 1933.7L1577.1 1909.3L1576.3 1884.8L1574.6 1860.3L1571.7 1835.8L1567.8 1811.3L1562.8 1786.8L1556.7 1762.3L1549.6 1737.8L1541.4 1713.3L1532.2 1688.8L1521.9 1664.4L1510.5 1639.9L1498.2 1615.4L1484.8 1590.9L1470.5 1566.4L1455.2 1541.9L1439 1517.4L1421.9 1492.9L1403.8 1468.4L1385 1443.9L1365.3 1419.5Z"/></clipPath>
<linearGradient id="gd0" gradientUnits="userSpaceOnUse" x1="0" x2="0" y1="1431.7" y2="2411.3"><stop offset="0" stop-color="#fbe5d9"/><stop offset="0.075" stop-color="#fae9de"/><stop offset="0.125" stop-color="#fbe6da"/><stop offset="0.15" stop-color="#fddcc9"/><stop offset="0.175" stop-color="#f8bfa3"/><stop offset="0.2" stop-color="#f5ab8a"/><stop offset="0.3" stop-color="#dc6d57"/><stop offset="0.35" stop-color="#ce5146"/><stop offset="0.45" stop-color="#bb2933"/><stop offset="0.5" stop-color="#b6212f"/><stop offset="0.525" stop-color="#ba2833"/><stop offset="0.55" stop-color="#c33a3b"/><stop offset="0.6" stop-color="#dc6f58"/><stop offset="0.65" stop-color="#f3a380"/><stop offset="0.7" stop-color="#fcd5bf"/><stop offset="0.725" stop-color="#fbe4d6"/><stop offset="0.775" stop-color="#f8f4f2"/><stop offset="0.825" stop-color="#ecf2f5"/><stop offset="0.9" stop-color="#d4e6f1"/><stop offset="0.95" stop-color="#b6d7e8"/><stop offset="0.975" stop-color="#b0d4e7"/><stop offset="1" stop-color="#b0d4e7"/></linearGradient>
<linearGradient id="gd1" gradientUnits="userSpaceOnUse" x1="0" x2="0" y1="1431.7" y2="2411.3"><stop offset="0" stop-color="#fae8dd"/><stop offset="0.075" stop-color="#f9ebe3"/><stop offset="0.125" stop-color="#fae7dc"/><stop offset="0.15" stop-color="#fdddcb"/><stop offset="0.175" stop-color="#f9c1a6"/><stop offset="0.2" stop-color="#f6af8e"/><stop offset="0.275" stop-color="#e68569"/><stop offset="0.35" stop-color="#d3594a"/><stop offset="0.45" stop-color="#c3393b"/><stop offset="0.5" stop-color="#c03338"/><stop offset="0.525" stop-color="#c33a3b"/><stop offset="0.55" stop-color="#cd4d44"/><stop offset="0.575" stop-color="#d96752"/><stop offset="0.625" stop-color="#f09b7b"/><stop offset="0.675" stop-color="#fac7ae"/><stop offset="0.7" stop-color="#fddcc9"/><stop offset="0.75" stop-color="#f9f0ea"/><stop offset="0.775" stop-color="#f7f6f6"/><stop offset="0.875" stop-color="#dbeaf2"/><stop offset="0.9" stop-color="#d0e5f0"/><stop offset="0.95" stop-color="#add3e6"/><stop offset="0.975" stop-color="#a6cfe4"/><stop offset="1" stop-color="#a6cfe4"/></linearGradient>
<linearGradient id="gd2" gradientUnits="userSpaceOnUse" x1="0" x2="0" y1="1431.7" y2="2411.3"><stop offset="0" stop-color="#faebe2"/><stop offset="0.075" stop-color="#f9eee8"/><stop offset="0.125" stop-color="#fae9df"/><stop offset="0.15" stop-color="#fcdecd"/><stop offset="0.175" stop-color="#f9c3a9"/><stop offset="0.2" stop-color="#f6b293"/><stop offset="0.25" stop-color="#f09c7b"/><stop offset="0.35" stop-color="#d7624e"/><stop offset="0.425" stop-color="#cd4e44"/><stop offset="0.5" stop-color="#c84540"/><stop offset="0.525" stop-color="#cd4d44"/><stop offset="0.55" stop-color="#d7634f"/><stop offset="0.6" stop-color="#f09c7b"/><stop offset="0.675" stop-color="#fcd7c1"/><stop offset="0.725" stop-color="#faebe2"/><stop offset="0.775" stop-color="#f5f6f7"/><stop offset="0.875" stop-color="#d8e8f1"/><stop offset="0.9" stop-color="#cbe2ee"/><stop offset="0.95" stop-color="#a4cee3"/><stop offset="0.975" stop-color="#9ccae1"/><stop offset="1" stop-color="#9ccae1"/></linearGradient>
<linearGradient id="gd3" gradientUnits="userSpaceOnUse" x1="0" x2="0" y1="1431.7" y2="2411.3"><stop offset="0" stop-color="#f9ede7"/><stop offset="0.05" stop-color="#f8f2ee"/><stop offset="0.1" stop-color="#f9efea"/><stop offset="0.125" stop-color="#f9ece4"/><stop offset="0.15" stop-color="#fce1d1"/><stop offset="0.175" stop-color="#fac8af"/><stop offset="0.2" stop-color="#f7b799"/><stop offset="0.25" stop-color="#f3a380"/><stop offset="0.35" stop-color="#dc6d57"/><stop offset="0.45" stop-color="#d35a4a"/><stop offset="0.5" stop-color="#d25749"/><stop offset="0.525" stop-color="#d7624e"/><stop offset="0.55" stop-color="#e27b62"/><stop offset="0.575" stop-color="#f09d7c"/><stop offset="0.6" stop-color="#f7b99c"/><stop offset="0.625" stop-color="#fbceb6"/><stop offset="0.65" stop-color="#fddcc8"/><stop offset="0.75" stop-color="#f7f5f3"/><stop offset="0.8" stop-color="#eaf1f5"/><stop offset="0.875" stop-color="#d2e5f0"/><stop offset="0.95" stop-color="#99c9e0"/><stop offset="0.975" stop-color="#92c5de"/><stop offset="1" stop-color="#92c5de"/></linearGradient>
<linearGradient id="gd4" gradientUnits="userSpaceOnUse" x1="0" x2="0" y1="1431.7" y2="2411.3"><stop offset="0" stop-color="#f8f1ed"/><stop offset="0.05" stop-color="#f7f5f4"/><stop offset="0.1" stop-color="#f8f3f1"/><stop offset="0.125" stop-color="#f8f0eb"/><stop offset="0.15" stop-color="#fbe6da"/><stop offset="0.175" stop-color="#fcd5bf"/><stop offset="0.2" stop-color="#fac6ac"/><stop offset="0.275" stop-color="#f5ad8c"/><stop offset="0.35" stop-color="#e7876b"/><stop offset="0.45" stop-color="#df755d"/><stop offset="0.5" stop-color="#de725b"/><stop offset="0.525" stop-color="#e37e64"/><stop offset="0.55" stop-color="#ef9a7a"/><stop offset="0.6" stop-color="#fcd5bf"/><stop offset="0.625" stop-color="#fce2d3"/><stop offset="0.725" stop-color="#f8f4f2"/><stop offset="0.75" stop-color="#f5f6f7"/><stop offset="0.85" stop-color="#d2e6f0"/><stop offset="0.9" stop-color="#b4d6e8"/><stop offset="0.95" stop-color="#91c5de"/><stop offset="0.975" stop-color="#8ac0db"/><stop offset="1" stop-color="#8ac0db"/></linearGradient>
<linearGradient id="gd5" gradientUnits="userSpaceOnUse" x1="0" x2="0" y1="1431.7" y2="2411.3"><stop offset="0" stop-color="#f7f5f4"/><stop offset="0.05" stop-color="#eff3f6"/><stop offset="0.125" stop-color="#f7f5f4"/><stop offset="0.175" stop-color="#fce1d1"/><stop offset="0.25" stop-color="#fcd3bc"/><stop offset="0.3" stop-color="#f8bea1"/><stop offset="0.35" stop-color="#f4a784"/><stop offset="0.4" stop-color="#f09c7b"/><stop offset="0.5" stop-color="#ed9676"/><stop offset="0.525" stop-color="#f3a280"/><stop offset="0.55" stop-color="#f7ba9c"/><stop offset="0.575" stop-color="#fcd7c1"/><stop offset="0.6" stop-color="#fae7db"/><stop offset="0.625" stop-color="#f9efea"/><stop offset="0.675" stop-color="#f7f6f6"/><stop offset="0.775" stop-color="#e6eff4"/><stop offset="0.85" stop-color="#c9e1ee"/><stop offset="0.95" stop-color="#8cc1dc"/><stop offset="0.975" stop-color="#85bdda"/><stop offset="1" stop-color="#85bdda"/></linearGradient>
<linearGradient id="gd6" gradientUnits="userSpaceOnUse" x1="0" x2="0" y1="1431.7" y2="2411.3"><stop offset="0" stop-color="#f4f5f6"/><stop offset="0.05" stop-color="#e4eef4"/><stop offset="0.125" stop-color="#ebf1f5"/><stop offset="0.15" stop-color="#f7f7f7"/><stop offset="0.175" stop-color="#f9ece4"/><stop offset="0.275" stop-color="#fce1d1"/><stop offset="0.3" stop-color="#fddbc7"/><stop offset="0.35" stop-color="#f9c5aa"/><stop offset="0.4" stop-color="#f8bfa3"/><stop offset="0.5" stop-color="#f8bda1"/><stop offset="0.525" stop-color="#f9c6ac"/><stop offset="0.55" stop-color="#fddbc7"/><stop offset="0.6" stop-color="#f7f5f3"/><stop offset="0.65" stop-color="#edf2f5"/><stop offset="0.75" stop-color="#e4eef3"/><stop offset="0.825" stop-color="#cde3ef"/><stop offset="0.95" stop-color="#87beda"/><stop offset="0.975" stop-color="#81bad8"/><stop offset="1" stop-color="#81bad8"/></linearGradient>
<linearGradient id="gd7" gradientUnits="userSpaceOnUse" x1="0" x2="0" y1="1431.7" y2="2411.3"><stop offset="0" stop-color="#eef3f5"/><stop offset="0.05" stop-color="#d9e9f1"/><stop offset="0.125" stop-color="#dae9f2"/><stop offset="0.15" stop-color="#e4eef4"/><stop offset="0.175" stop-color="#f4f5f6"/><stop offset="0.25" stop-color="#f8f2ef"/><stop offset="0.35" stop-color="#fcdfce"/><stop offset="0.45" stop-color="#fcdecc"/><stop offset="0.5" stop-color="#fcdfce"/><stop offset="0.525" stop-color="#fbe4d6"/><stop offset="0.575" stop-color="#f6f6f7"/><stop offset="0.6" stop-color="#e8f0f4"/><stop offset="0.65" stop-color="#e0ecf3"/><stop offset="0.75" stop-color="#dceaf2"/><stop offset="0.8" stop-color="#d0e5f0"/><stop offset="0.9" stop-color="#9bcae1"/><stop offset="0.95" stop-color="#82bbd8"/><stop offset="1" stop-color="#7db7d7"/></linearGradient>
<linearGradient id="gd8" gradientUnits="userSpaceOnUse" x1="0" x2="0" y1="1431.7" y2="2411.3"><stop offset="0" stop-color="#e8f0f4"/><stop offset="0.05" stop-color="#cde3ef"/><stop offset="0.125" stop-color="#c9e1ee"/><stop offset="0.175" stop-color="#e2edf3"/><stop offset="0.3" stop-color="#f7f5f4"/><stop offset="0.35" stop-color="#f9ece5"/><stop offset="0.425" stop-color="#f9ebe3"/><stop offset="0.5" stop-color="#f9eee7"/><stop offset="0.525" stop-color="#f8f2ef"/><stop offset="0.55" stop-color="#f1f4f6"/><stop offset="0.6" stop-color="#d8e8f1"/><stop offset="0.65" stop-color="#d3e6f0"/><stop offset="0.775" stop-color="#d2e5f0"/><stop offset="0.95" stop-color="#7db8d7"/><stop offset="1" stop-color="#78b5d5"/></linearGradient>
<linearGradient id="gd9" gradientUnits="userSpaceOnUse" x1="0" x2="0" y1="1431.7" y2="2411.3"><stop offset="0" stop-color="#e2edf3"/><stop offset="0.05" stop-color="#bedceb"/><stop offset="0.1" stop-color="#b5d7e8"/><stop offset="0.125" stop-color="#b4d6e8"/><stop offset="0.15" stop-color="#c1ddeb"/><stop offset="0.175" stop-color="#d5e7f1"/><stop offset="0.375" stop-color="#f5f6f7"/><stop offset="0.5" stop-color="#f2f4f6"/><stop offset="0.55" stop-color="#e3eef3"/><stop offset="0.6" stop-color="#cfe4ef"/><stop offset="0.625" stop-color="#c9e1ee"/><stop offset="0.775" stop-color="#c6dfed"/><stop offset="0.95" stop-color="#79b5d6"/><stop offset="1" stop-color="#75b3d4"/></linearGradient>
<linearGradient id="gd10" gradientUnits="userSpaceOnUse" x1="0" x2="0" y1="1431.7" y2="2411.3"><stop offset="0" stop-color="#dceaf2"/><stop offset="0.05" stop-color="#afd4e6"/><stop offset="0.1" stop-color="#a9d1e4"/><stop offset="0.125" stop-color="#a8d0e4"/><stop offset="0.15" stop-color="#b4d6e8"/><stop offset="0.175" stop-color="#c6dfed"/><stop offset="0.375" stop-color="#e5eef4"/><stop offset="0.5" stop-color="#e3edf3"/><stop offset="0.55" stop-color="#d9e9f1"/><stop offset="0.6" stop-color="#c5dfed"/><stop offset="0.65" stop-color="#c0dceb"/><stop offset="0.75" stop-color="#bedbeb"/><stop offset="0.8" stop-color="#b2d5e7"/><stop offset="0.9" stop-color="#89bfdb"/><stop offset="0.95" stop-color="#77b4d5"/><stop offset="1" stop-color="#74b2d4"/></linearGradient>
<linearGradient id="gd11" gradientUnits="userSpaceOnUse" x1="0" x2="0" y1="1431.7" y2="2411.3"><stop offset="0" stop-color="#d4e7f1"/><stop offset="0.025" stop-color="#b5d7e8"/><stop offset="0.05" stop-color="#9fcce2"/><stop offset="0.125" stop-color="#9ccae1"/><stop offset="0.15" stop-color="#a8d0e4"/><stop offset="0.175" stop-color="#bbdaea"/><stop offset="0.225" stop-color="#c4dfec"/><stop offset="0.35" stop-color="#d4e6f0"/><stop offset="0.525" stop-color="#d2e6f0"/><stop offset="0.6" stop-color="#bbdaea"/><stop offset="0.775" stop-color="#afd4e6"/><stop offset="0.925" stop-color="#7bb7d6"/><stop offset="0.975" stop-color="#73b2d4"/><stop offset="1" stop-color="#73b2d4"/></linearGradient>
<linearGradient id="gd12" gradientUnits="userSpaceOnUse" x1="0" x2="0" y1="1431.7" y2="2411.3"><stop offset="0" stop-color="#c1ddeb"/><stop offset="0.025" stop-color="#a6cfe4"/><stop offset="0.05" stop-color="#94c6df"/><stop offset="0.1" stop-color="#92c5de"/><stop offset="0.125" stop-color="#93c6de"/><stop offset="0.175" stop-color="#b0d4e7"/><stop offset="0.225" stop-color="#bad9e9"/><stop offset="0.375" stop-color="#cae1ee"/><stop offset="0.525" stop-color="#c8e0ed"/><stop offset="0.625" stop-color="#b2d5e7"/><stop offset="0.75" stop-color="#a9d0e4"/><stop offset="0.95" stop-color="#74b2d4"/><stop offset="1" stop-color="#72b1d3"/></linearGradient>
<linearGradient id="gd13" gradientUnits="userSpaceOnUse" x1="0" x2="0" y1="1431.7" y2="2411.3"><stop offset="0" stop-color="#abd2e5"/><stop offset="0.05" stop-color="#89c0db"/><stop offset="0.1" stop-color="#89bfdb"/><stop offset="0.125" stop-color="#8bc0dc"/><stop offset="0.175" stop-color="#a9d1e5"/><stop offset="0.275" stop-color="#b7d8e9"/><stop offset="0.375" stop-color="#c1ddeb"/><stop offset="0.525" stop-color="#c0dceb"/><stop offset="0.65" stop-color="#abd2e5"/><stop offset="0.775" stop-color="#9ecbe2"/><stop offset="0.925" stop-color="#77b4d5"/><stop offset="1" stop-color="#72b0d3"/></linearGradient>
<linearGradient id="gd14" gradientUnits="userSpaceOnUse" x1="0" x2="0" y1="1431.7" y2="2411.3"><stop offset="0" stop-color="#96c7df"/><stop offset="0.05" stop-color="#7eb9d7"/><stop offset="0.125" stop-color="#82bbd9"/><stop offset="0.175" stop-color="#a4cee3"/><stop offset="0.25" stop-color="#afd4e6"/><stop offset="0.4" stop-color="#b8d8e9"/><stop offset="0.525" stop-color="#b8d8e9"/><stop offset="0.675" stop-color="#a5cfe3"/><stop offset="0.775" stop-color="#9ac9e0"/><stop offset="0.875" stop-color="#7eb8d7"/><stop offset="0.975" stop-color="#71b0d3"/><stop offset="1" stop-color="#71b0d3"/></linearGradient>
<linearGradient id="gd15" gradientUnits="userSpaceOnUse" x1="0" x2="0" y1="1431.7" y2="2411.3"><stop offset="0" stop-color="#89bfdb"/><stop offset="0.05" stop-color="#79b5d5"/><stop offset="0.125" stop-color="#79b5d6"/><stop offset="0.175" stop-color="#9ecbe1"/><stop offset="0.225" stop-color="#a8d0e4"/><stop offset="0.4" stop-color="#b2d5e7"/><stop offset="0.55" stop-color="#afd4e6"/><stop offset="0.775" stop-color="#96c7df"/><stop offset="0.875" stop-color="#7ab6d6"/><stop offset="0.975" stop-color="#70afd2"/><stop offset="1" stop-color="#70afd2"/></linearGradient>
<linearGradient id="gd16" gradientUnits="userSpaceOnUse" x1="0" x2="0" y1="1431.7" y2="2411.3"><stop offset="0" stop-color="#7eb8d7"/><stop offset="0.075" stop-color="#76b3d4"/><stop offset="0.125" stop-color="#77b4d5"/><stop offset="0.15" stop-color="#85bdda"/><stop offset="0.175" stop-color="#99c9e0"/><stop offset="0.225" stop-color="#a2cde3"/><stop offset="0.375" stop-color="#add3e6"/><stop offset="0.525" stop-color="#acd2e5"/><stop offset="0.775" stop-color="#91c5de"/><stop offset="0.875" stop-color="#77b4d5"/><stop offset="0.975" stop-color="#6fafd2"/><stop offset="1" stop-color="#6fafd2"/></linearGradient>
<linearGradient id="gd17" gradientUnits="userSpaceOnUse" x1="0" x2="0" y1="1431.7" y2="2411.3"><stop offset="0" stop-color="#77b4d5"/><stop offset="0.125" stop-color="#76b3d4"/><stop offset="0.15" stop-color="#82bbd8"/><stop offset="0.175" stop-color="#95c6df"/><stop offset="0.225" stop-color="#9dcbe1"/><stop offset="0.4" stop-color="#a9d1e4"/><stop offset="0.55" stop-color="#a4cee3"/><stop offset="0.775" stop-color="#8cc1dc"/><stop offset="0.875" stop-color="#73b2d4"/><stop offset="1" stop-color="#6eaed2"/></linearGradient>
<linearGradient id="gd18" gradientUnits="userSpaceOnUse" x1="0" x2="0" y1="1431.7" y2="2411.3"><stop offset="0" stop-color="#75b2d4"/><stop offset="0.125" stop-color="#74b2d4"/><stop offset="0.15" stop-color="#7fb9d7"/><stop offset="0.175" stop-color="#90c3dd"/><stop offset="0.225" stop-color="#98c8e0"/><stop offset="0.375" stop-color="#a4cee3"/><stop offset="0.55" stop-color="#9fcbe2"/><stop offset="0.775" stop-color="#83bbd9"/><stop offset="0.875" stop-color="#70b0d2"/><stop offset="1" stop-color="#6daed1"/></linearGradient>
<linearGradient id="gd19" gradientUnits="userSpaceOnUse" x1="0" x2="0" y1="1431.7" y2="2411.3"><stop offset="0" stop-color="#72b1d3"/><stop offset="0.125" stop-color="#73b1d3"/><stop offset="0.175" stop-color="#8ac0db"/><stop offset="0.25" stop-color="#95c6df"/><stop offset="0.375" stop-color="#9fcbe2"/><stop offset="0.575" stop-color="#95c7df"/><stop offset="0.875" stop-color="#6dadd1"/><stop offset="1" stop-color="#6cadd1"/></linearGradient>
<linearGradient id="gd20" gradientUnits="userSpaceOnUse" x1="0" x2="0" y1="1431.7" y2="2411.3"><stop offset="0" stop-color="#72b1d3"/><stop offset="0.125" stop-color="#71b0d3"/><stop offset="0.2" stop-color="#8ac0db"/><stop offset="0.375" stop-color="#98c8e0"/><stop offset="0.575" stop-color="#8ec2dd"/><stop offset="0.825" stop-color="#6dadd1"/><stop offset="1" stop-color="#67aacf"/></linearGradient>
<linearGradient id="gd21" gradientUnits="userSpaceOnUse" x1="0" x2="0" y1="1431.7" y2="2411.3"><stop offset="0" stop-color="#72b1d3"/><stop offset="0.125" stop-color="#70afd2"/><stop offset="0.2" stop-color="#84bcd9"/><stop offset="0.375" stop-color="#90c4dd"/><stop offset="0.575" stop-color="#83bcd9"/><stop offset="0.8" stop-color="#67aacf"/><stop offset="0.925" stop-color="#63a7ce"/><stop offset="1" stop-color="#63a7ce"/></linearGradient>
<linearGradient id="gd22" gradientUnits="userSpaceOnUse" x1="0" x2="0" y1="1431.7" y2="2411.3"><stop offset="0" stop-color="#72b1d3"/><stop offset="0.125" stop-color="#6eaed2"/><stop offset="0.35" stop-color="#87beda"/><stop offset="0.425" stop-color="#84bcd9"/><stop offset="0.775" stop-color="#5ea4cc"/><stop offset="0.925" stop-color="#5da3cc"/><stop offset="1" stop-color="#5fa4cc"/></linearGradient>
<linearGradient id="gd23" gradientUnits="userSpaceOnUse" x1="0" x2="0" y1="1431.7" y2="2411.3"><stop offset="0" stop-color="#72b1d3"/><stop offset="0.2" stop-color="#6eaed2"/><stop offset="0.375" stop-color="#7cb7d7"/><stop offset="0.775" stop-color="#569fca"/><stop offset="0.9" stop-color="#569fca"/><stop offset="1" stop-color="#5ca3cb"/></linearGradient>
<linearGradient id="gd24" gradientUnits="userSpaceOnUse" x1="0" x2="0" y1="1431.7" y2="2411.3"><stop offset="0" stop-color="#72b1d3"/><stop offset="0.1" stop-color="#70afd2"/><stop offset="0.2" stop-color="#68abd0"/><stop offset="0.375" stop-color="#75b2d4"/><stop offset="0.75" stop-color="#539dc8"/><stop offset="0.9" stop-color="#549ec9"/><stop offset="1" stop-color="#5aa2cb"/></linearGradient>
<linearGradient id="gd25" gradientUnits="userSpaceOnUse" x1="0" x2="0" y1="1431.7" y2="2411.3"><stop offset="0" stop-color="#72b1d3"/><stop offset="0.1" stop-color="#70afd2"/><stop offset="0.2" stop-color="#63a7ce"/><stop offset="0.375" stop-color="#6daed1"/><stop offset="0.775" stop-color="#4e9ac7"/><stop offset="0.9" stop-color="#4e9ac7"/><stop offset="0.975" stop-color="#569fca"/><stop offset="1" stop-color="#569fca"/></linearGradient>
<linearGradient id="gd26" gradientUnits="userSpaceOnUse" x1="0" x2="0" y1="1431.7" y2="2411.3"><stop offset="0" stop-color="#72b1d3"/><stop offset="0.2" stop-color="#5ea4cc"/><stop offset="0.4" stop-color="#65a9cf"/><stop offset="0.775" stop-color="#4896c5"/><stop offset="0.9" stop-color="#4695c4"/><stop offset="1" stop-color="#4c99c6"/></linearGradient>
<linearGradient id="gd27" gradientUnits="userSpaceOnUse" x1="0" x2="0" y1="1431.7" y2="2411.3"><stop offset="0" stop-color="#72b1d3"/><stop offset="0.075" stop-color="#63a7ce"/><stop offset="0.225" stop-color="#59a1cb"/><stop offset="0.4" stop-color="#5ea4cc"/><stop offset="0.55" stop-color="#4e9ac7"/><stop offset="0.775" stop-color="#4292c2"/><stop offset="1" stop-color="#4292c3"/></linearGradient>
<linearGradient id="gd28" gradientUnits="userSpaceOnUse" x1="0" x2="0" y1="1431.7" y2="2411.3"><stop offset="0" stop-color="#6cadd1"/><stop offset="0.05" stop-color="#5ea4cc"/><stop offset="0.2" stop-color="#4d99c6"/><stop offset="0.4" stop-color="#559ec9"/><stop offset="0.55" stop-color="#4393c3"/><stop offset="1" stop-color="#3e8cc0"/></linearGradient>
<linearGradient id="gd29" gradientUnits="userSpaceOnUse" x1="0" x2="0" y1="1431.7" y2="2411.3"><stop offset="0" stop-color="#63a7ce"/><stop offset="0.05" stop-color="#529cc8"/><stop offset="0.175" stop-color="#4292c3"/><stop offset="0.375" stop-color="#4a97c5"/><stop offset="0.525" stop-color="#3f8ec0"/><stop offset="1" stop-color="#3a88bd"/></linearGradient>
<linearGradient id="gd30" gradientUnits="userSpaceOnUse" x1="0" x2="0" y1="1431.7" y2="2411.3"><stop offset="0" stop-color="#5ba2cb"/><stop offset="0.05" stop-color="#4292c3"/><stop offset="0.2" stop-color="#3d8cbf"/><stop offset="0.4" stop-color="#4090c1"/><stop offset="0.65" stop-color="#3a86bd"/><stop offset="1" stop-color="#3783bb"/></linearGradient>
<linearGradient id="gd31" gradientUnits="userSpaceOnUse" x1="0" x2="0" y1="1431.7" y2="2411.3"><stop offset="0" stop-color="#4b98c6"/><stop offset="0.025" stop-color="#408fc1"/><stop offset="0.075" stop-color="#3a87bd"/><stop offset="0.425" stop-color="#3b89be"/><stop offset="0.65" stop-color="#3783bb"/><stop offset="1" stop-color="#3682ba"/></linearGradient>
<linearGradient id="gd32" gradientUnits="userSpaceOnUse" x1="0" x2="0" y1="1431.7" y2="2411.3"><stop offset="0" stop-color="#3f8dc0"/><stop offset="0.05" stop-color="#3682ba"/><stop offset="1" stop-color="#3681ba"/></linearGradient>
<linearGradient id="gd33" gradientUnits="userSpaceOnUse" x1="0" x2="0" y1="1431.7" y2="2411.3"><stop offset="0" stop-color="#3885bc"/><stop offset="0.1" stop-color="#3580b9"/><stop offset="1" stop-color="#3580b9"/></linearGradient>
<linearGradient id="gd34" gradientUnits="userSpaceOnUse" x1="0" x2="0" y1="1431.7" y2="2411.3"><stop offset="0" stop-color="#3581ba"/><stop offset="1" stop-color="#3480b9"/></linearGradient>
<linearGradient id="cbar103" x1="0" x2="0" y1="0" y2="1"><stop offset="0%" stop-color="#b2182b"/><stop offset="12.5%" stop-color="#d6604d"/><stop offset="25%" stop-color="#f4a582"/><stop offset="37.5%" stop-color="#fddbc7"/><stop offset="50%" stop-color="#f7f7f7"/><stop offset="62.5%" stop-color="#d1e5f0"/><stop offset="75%" stop-color="#92c5de"/><stop offset="87.5%" stop-color="#4393c3"/><stop offset="100%" stop-color="#2166ac"/></linearGradient>
<linearGradient id="cbar1427" x1="0" x2="0" y1="0" y2="1"><stop offset="0%" stop-color="#b2182b"/><stop offset="12.5%" stop-color="#d6604d"/><stop offset="25%" stop-color="#f4a582"/><stop offset="37.5%" stop-color="#fddbc7"/><stop offset="50%" stop-color="#f7f7f7"/><stop offset="62.5%" stop-color="#d1e5f0"/><stop offset="75%" stop-color="#92c5de"/><stop offset="87.5%" stop-color="#4393c3"/><stop offset="100%" stop-color="#2166ac"/></linearGradient>
</defs>
<g clip-path="url(#cfa)">
<path d="M220.2 109.8V1082.1M275.3 109.8V1082.1M330.4 109.8V1082.1M385.4 109.8V1082.1M495.5 109.8V1082.1M550.5 109.8V1082.1M605.6 109.8V1082.1M660.6 109.8V1082.1M168.6 1036.9H712.7M168.6 987.9H712.7M168.6 939H712.7M168.6 890H712.7M168.6 792H712.7M168.6 743H712.7M168.6 694.1H712.7M168.6 645.1H712.7M168.6 547.1H712.7M168.6 498.1H712.7M168.6 449.2H712.7M168.6 400.2H712.7M168.6 302.2H712.7M168.6 253.2H712.7M168.6 204.3H712.7M168.6 155.3H712.7" stroke="#c2c2c2" stroke-width="2.6" stroke-dasharray="1.5 5.5" fill="none"/>
<path d="M440.4 109.8V1082.1" stroke="#000" stroke-width="2" fill="none"/>
<path d="M168.6 841H712.7M168.6 596.1H712.7M168.6 351.2H712.7" stroke="#000" stroke-width="3.4" fill="none"/>
<g clip-path="url(#cba)">
<path d="M-42.9 94.1L17.8 118.5L73.5 143L124.4 167.5L170.8 192L213 216.5L251.3 241L285.9 265.5L317.1 290L345.1 314.5L370.1 339L392.3 363.4L411.8 387.9L428.8 412.4L443.5 436.9L455.9 461.4L466.1 485.9L474.3 510.4L480.4 534.9L484.6 559.4L486.8 583.9L487.1 608.3L485.4 632.8L481.8 657.3L476.2 681.8L468.6 706.3L458.8 730.8L446.7 755.3L432.3 779.8L415.5 804.3L396 828.8L373.8 853.2L348.6 877.7L320.2 902.2L288.5 926.7L253.2 951.2L214 975.7L170.7 1000.2L123 1024.7L70.6 1049.2L13.2 1073.7L-49.6 1098.1H717.7V94.1Z" fill="url(#ga0)"/>
<path d="M-17.8 94.1L41.9 118.5L96.6 143L146.6 167.5L192.3 192L233.8 216.5L271.5 241L305.6 265.5L336.4 290L364 314.5L388.7 339L410.5 363.4L429.8 387.9L446.6 412.4L461.1 436.9L473.3 461.4L483.4 485.9L491.5 510.4L497.5 534.9L501.7 559.4L503.8 583.9L504.1 608.3L502.5 632.8L498.9 657.3L493.4 681.8L485.8 706.3L476 730.8L464.1 755.3L449.9 779.8L433.3 804.3L414 828.8L392.1 853.2L367.2 877.7L339.2 902.2L308 926.7L273.2 951.2L234.6 975.7L192 1000.2L145 1024.7L93.5 1049.2L37.1 1073.7L-24.6 1098.1H717.7V94.1Z" fill="url(#ga1)"/>
<path d="M-6.4 94.1L52.2 118.5L105.9 143L155.1 167.5L200 192L240.9 216.5L278 241L311.6 265.5L341.9 290L369.1 314.5L393.5 339L415 363.4L434.1 387.9L450.6 412.4L464.9 436.9L477 461.4L487 485.9L495 510.4L500.9 534.9L505 559.4L507.1 583.9L507.4 608.3L505.8 632.8L502.2 657.3L496.7 681.8L489.2 706.3L479.6 730.8L467.8 755.3L453.7 779.8L437.3 804.3L418.3 828.8L396.6 853.2L372.1 877.7L344.5 902.2L313.7 926.7L279.4 951.2L241.4 975.7L199.4 1000.2L153.3 1024.7L102.6 1049.2L47.2 1073.7L-13.4 1098.1H717.7V94.1Z" fill="url(#ga2)"/>
<path d="M4.9 94.1L62.5 118.5L115.3 143L163.6 167.5L207.8 192L248 216.5L284.5 241L317.6 265.5L347.5 290L374.3 314.5L398.3 339L419.5 363.4L438.3 387.9L454.7 412.4L468.8 436.9L480.7 461.4L490.6 485.9L498.4 510.4L504.3 534.9L508.3 559.4L510.4 583.9L510.7 608.3L509.1 632.8L505.5 657.3L500.1 681.8L492.6 706.3L483.1 730.8L471.4 755.3L457.5 779.8L441.3 804.3L422.5 828.8L401.1 853.2L376.9 877.7L349.7 902.2L319.3 926.7L285.6 951.2L248.2 975.7L206.9 1000.2L161.6 1024.7L111.8 1049.2L57.3 1073.7L-2.2 1098.1H717.7V94.1Z" fill="url(#ga3)"/>
<path d="M16.3 94.1L72.8 118.5L124.6 143L172.1 167.5L215.5 192L255.1 216.5L291 241L323.6 265.5L353 290L379.4 314.5L403 339L424 363.4L442.6 387.9L458.7 412.4L472.6 436.9L484.4 461.4L494.1 485.9L501.9 510.4L507.7 534.9L511.7 559.4L513.7 583.9L514 608.3L512.3 632.8L508.8 657.3L503.4 681.8L496 706.3L486.6 730.8L475.1 755.3L461.3 779.8L445.3 804.3L426.8 828.8L405.6 853.2L381.8 877.7L355 902.2L325 926.7L291.8 951.2L255 975.7L214.4 1000.2L169.8 1024.7L120.9 1049.2L67.4 1073.7L9.1 1098.1H717.7V94.1Z" fill="url(#ga4)"/>
<path d="M34 94.1L88.8 118.5L139.2 143L185.4 167.5L227.6 192L266.1 216.5L301.1 241L332.9 265.5L361.6 290L387.4 314.5L410.5 339L431.1 363.4L449.2 387.9L465 412.4L478.6 436.9L490.2 461.4L499.7 485.9L507.3 510.4L513 534.9L516.8 559.4L518.9 583.9L519.1 608.3L517.5 632.8L514 657.3L508.6 681.8L501.4 706.3L492.1 730.8L480.8 755.3L467.3 779.8L451.5 804.3L433.4 828.8L412.7 853.2L389.3 877.7L363.1 902.2L333.9 926.7L301.5 951.2L265.6 975.7L226.1 1000.2L182.7 1024.7L135.1 1049.2L83.2 1073.7L26.6 1098.1H717.7V94.1Z" fill="url(#ga5)"/>
<path d="M51.7 94.1L104.8 118.5L153.7 143L198.6 167.5L239.6 192L277.1 216.5L311.2 241L342.2 265.5L370.2 290L395.4 314.5L418 339L438.1 363.4L455.8 387.9L471.3 412.4L484.6 436.9L495.9 461.4L505.3 485.9L512.7 510.4L518.3 534.9L522 559.4L524 583.9L524.2 608.3L522.6 632.8L519.1 657.3L513.9 681.8L506.7 706.3L497.6 730.8L486.5 755.3L473.2 779.8L457.8 804.3L440 828.8L419.7 853.2L396.9 877.7L371.3 902.2L342.8 926.7L311.1 951.2L276.2 975.7L237.7 1000.2L195.6 1024.7L149.4 1049.2L99 1073.7L44.1 1098.1H717.7V94.1Z" fill="url(#ga6)"/>
<path d="M69.4 94.1L120.9 118.5L168.3 143L211.8 167.5L251.7 192L288.2 216.5L321.4 241L351.5 265.5L378.8 290L403.4 314.5L425.5 339L445.1 363.4L462.4 387.9L477.6 412.4L490.6 436.9L501.7 461.4L510.8 485.9L518.1 510.4L523.6 534.9L527.2 559.4L529.1 583.9L529.3 608.3L527.7 632.8L524.3 657.3L519.1 681.8L512 706.3L503.1 730.8L492.1 755.3L479.2 779.8L464 804.3L446.6 828.8L426.8 853.2L404.4 877.7L379.5 902.2L351.6 926.7L320.8 951.2L286.8 975.7L249.4 1000.2L208.4 1024.7L163.6 1049.2L114.7 1073.7L61.6 1098.1H717.7V94.1Z" fill="url(#ga7)"/>
<path d="M87 94.1L136.9 118.5L182.9 143L225.1 167.5L263.8 192L299.2 216.5L331.5 241L360.9 265.5L387.5 290L411.4 314.5L432.9 339L452.1 363.4L469 387.9L483.8 412.4L496.6 436.9L507.4 461.4L516.4 485.9L523.5 510.4L528.8 534.9L532.4 559.4L534.3 583.9L534.4 608.3L532.8 632.8L529.4 657.3L524.3 681.8L517.4 706.3L508.6 730.8L497.8 755.3L485.1 779.8L470.2 804.3L453.2 828.8L433.8 853.2L412 877.7L387.6 902.2L360.5 926.7L330.5 951.2L297.4 975.7L261.1 1000.2L221.3 1024.7L177.8 1049.2L130.5 1073.7L79.1 1098.1H717.7V94.1Z" fill="url(#ga8)"/>
<path d="M104.7 94.1L153 118.5L197.4 143L238.3 167.5L275.8 192L310.2 216.5L341.6 241L370.2 265.5L396.1 290L419.4 314.5L440.4 339L459.1 363.4L475.7 387.9L490.1 412.4L502.6 436.9L513.2 461.4L522 485.9L528.9 510.4L534.1 534.9L537.6 559.4L539.4 583.9L539.5 608.3L537.9 632.8L534.6 657.3L529.5 681.8L522.7 706.3L514.1 730.8L503.5 755.3L491 779.8L476.5 804.3L459.8 828.8L440.9 853.2L419.6 877.7L395.8 902.2L369.4 926.7L340.2 951.2L308 975.7L272.7 1000.2L234.2 1024.7L192.1 1049.2L146.3 1073.7L96.6 1098.1H717.7V94.1Z" fill="url(#ga9)"/>
<path d="M122.4 94.1L169 118.5L212 143L251.5 167.5L287.9 192L321.3 216.5L351.7 241L379.5 265.5L404.7 290L427.4 314.5L447.9 339L466.1 363.4L482.3 387.9L496.4 412.4L508.6 436.9L519 461.4L527.5 485.9L534.3 510.4L539.4 534.9L542.8 559.4L544.5 583.9L544.6 608.3L543 632.8L539.7 657.3L534.8 681.8L528.1 706.3L519.6 730.8L509.2 755.3L497 779.8L482.7 804.3L466.4 828.8L447.9 853.2L427.1 877.7L403.9 902.2L378.2 926.7L349.8 951.2L318.6 975.7L284.4 1000.2L247 1024.7L206.3 1049.2L162.1 1073.7L114.1 1098.1H717.7V94.1Z" fill="url(#ga10)"/>
<path d="M140.1 94.1L185 118.5L226.5 143L264.8 167.5L300 192L332.3 216.5L361.9 241L388.8 265.5L413.3 290L435.4 314.5L455.4 339L473.1 363.4L488.9 387.9L502.7 412.4L514.6 436.9L524.7 461.4L533.1 485.9L539.7 510.4L544.7 534.9L548 559.4L549.7 583.9L549.7 608.3L548.1 632.8L544.9 657.3L540 681.8L533.4 706.3L525 730.8L514.9 755.3L502.9 779.8L488.9 804.3L473 828.8L454.9 853.2L434.7 877.7L412.1 902.2L387.1 926.7L359.5 951.2L329.2 975.7L296.1 1000.2L259.9 1024.7L220.5 1049.2L177.8 1073.7L131.5 1098.1H717.7V94.1Z" fill="url(#ga11)"/>
<path d="M157.8 94.1L201.1 118.5L241.1 143L278 167.5L312.1 192L343.3 216.5L372 241L398.1 265.5L421.9 290L443.5 314.5L462.8 339L480.2 363.4L495.5 387.9L509 412.4L520.6 436.9L530.5 461.4L538.6 485.9L545.1 510.4L550 534.9L553.2 559.4L554.8 583.9L554.8 608.3L553.2 632.8L550 657.3L545.2 681.8L538.7 706.3L530.5 730.8L520.6 755.3L508.8 779.8L495.2 804.3L479.6 828.8L462 853.2L442.2 877.7L420.3 902.2L395.9 926.7L369.2 951.2L339.8 975.7L307.7 1000.2L272.8 1024.7L234.8 1049.2L193.6 1073.7L149 1098.1H717.7V94.1Z" fill="url(#ga12)"/>
<path d="M175.5 94.1L217.1 118.5L255.6 143L291.3 167.5L324.1 192L354.4 216.5L382.1 241L407.4 265.5L430.5 290L451.5 314.5L470.3 339L487.2 363.4L502.1 387.9L515.3 412.4L526.6 436.9L536.2 461.4L544.2 485.9L550.5 510.4L555.2 534.9L558.4 559.4L559.9 583.9L559.9 608.3L558.4 632.8L555.2 657.3L550.4 681.8L544.1 706.3L536 730.8L526.3 755.3L514.8 779.8L501.4 804.3L486.2 828.8L469 853.2L449.8 877.7L428.4 902.2L404.8 926.7L378.8 951.2L350.4 975.7L319.4 1000.2L285.6 1024.7L249 1049.2L209.4 1073.7L166.5 1098.1H717.7V94.1Z" fill="url(#ga13)"/>
<path d="M193.2 94.1L233.1 118.5L270.2 143L304.5 167.5L336.2 192L365.4 216.5L392.2 241L416.8 265.5L439.2 290L459.5 314.5L477.8 339L494.2 363.4L508.8 387.9L521.5 412.4L532.6 436.9L542 461.4L549.8 485.9L555.9 510.4L560.5 534.9L563.6 559.4L565.1 583.9L565 608.3L563.5 632.8L560.4 657.3L555.7 681.8L549.4 706.3L541.5 730.8L532 755.3L520.7 779.8L507.7 804.3L492.8 828.8L476.1 853.2L457.4 877.7L436.6 902.2L413.7 926.7L388.5 951.2L361 975.7L331 1000.2L298.5 1024.7L263.2 1049.2L225.1 1073.7L184 1098.1H717.7V94.1Z" fill="url(#ga14)"/>
<path d="M210.9 94.1L249.2 118.5L284.7 143L317.7 167.5L348.3 192L376.4 216.5L402.3 241L426.1 265.5L447.8 290L467.5 314.5L485.3 339L501.2 363.4L515.4 387.9L527.8 412.4L538.6 436.9L547.8 461.4L555.3 485.9L561.3 510.4L565.8 534.9L568.8 559.4L570.2 583.9L570.1 608.3L568.6 632.8L565.5 657.3L560.9 681.8L554.7 706.3L547 730.8L537.6 755.3L526.6 779.8L513.9 804.3L499.4 828.8L483.1 853.2L464.9 877.7L444.8 902.2L422.5 926.7L398.2 951.2L371.6 975.7L342.7 1000.2L311.4 1024.7L277.5 1049.2L240.9 1073.7L201.5 1098.1H717.7V94.1Z" fill="url(#ga15)"/>
<path d="M228.6 94.1L265.2 118.5L299.3 143L331 167.5L360.3 192L387.5 216.5L412.5 241L435.4 265.5L456.4 290L475.5 314.5L492.7 339L508.2 363.4L522 387.9L534.1 412.4L544.6 436.9L553.5 461.4L560.9 485.9L566.7 510.4L571.1 534.9L573.9 559.4L575.3 583.9L575.3 608.3L573.7 632.8L570.7 657.3L566.1 681.8L560.1 706.3L552.5 730.8L543.3 755.3L532.6 779.8L520.1 804.3L506 828.8L490.2 853.2L472.5 877.7L452.9 902.2L431.4 926.7L407.9 951.2L382.2 975.7L354.4 1000.2L324.2 1024.7L291.7 1049.2L256.7 1073.7L219 1098.1H717.7V94.1Z" fill="url(#ga16)"/>
<path d="M246.3 94.1L281.2 118.5L313.9 143L344.2 167.5L372.4 192L398.5 216.5L422.6 241L444.7 265.5L465 290L483.5 314.5L500.2 339L515.2 363.4L528.6 387.9L540.4 412.4L550.6 436.9L559.3 461.4L566.4 485.9L572.1 510.4L576.4 534.9L579.1 559.4L580.5 583.9L580.4 608.3L578.8 632.8L575.8 657.3L571.3 681.8L565.4 706.3L558 730.8L549 755.3L538.5 779.8L526.4 804.3L512.6 828.8L497.2 853.2L480 877.7L461.1 902.2L440.3 926.7L417.5 951.2L392.8 975.7L366 1000.2L337.1 1024.7L305.9 1049.2L272.4 1073.7L236.5 1098.1H717.7V94.1Z" fill="url(#ga17)"/>
<path d="M264 94.1L297.3 118.5L328.4 143L357.4 167.5L384.5 192L409.5 216.5L432.7 241L454 265.5L473.6 290L491.5 314.5L507.7 339L522.2 363.4L535.2 387.9L546.7 412.4L556.6 436.9L565 461.4L572 485.9L577.5 510.4L581.6 534.9L584.3 559.4L585.6 583.9L585.5 608.3L583.9 632.8L581 657.3L576.6 681.8L570.7 706.3L563.5 730.8L554.7 755.3L544.4 779.8L532.6 804.3L519.2 828.8L504.2 853.2L487.6 877.7L469.2 902.2L449.1 926.7L427.2 951.2L403.4 975.7L377.7 1000.2L350 1024.7L320.2 1049.2L288.2 1073.7L254 1098.1H717.7V94.1Z" fill="url(#ga18)"/>
<path d="M281.7 94.1L313.3 118.5L343 143L370.7 167.5L396.5 192L420.6 216.5L442.8 241L463.4 265.5L482.2 290L499.5 314.5L515.1 339L529.3 363.4L541.8 387.9L553 412.4L562.6 436.9L570.8 461.4L577.6 485.9L582.9 510.4L586.9 534.9L589.5 559.4L590.7 583.9L590.6 608.3L589 632.8L586.1 657.3L581.8 681.8L576.1 706.3L569 730.8L560.4 755.3L550.4 779.8L538.9 804.3L525.8 828.8L511.3 853.2L495.1 877.7L477.4 902.2L458 926.7L436.9 951.2L414 975.7L389.4 1000.2L362.8 1024.7L334.4 1049.2L304 1073.7L271.5 1098.1H717.7V94.1Z" fill="url(#ga19)"/>
<path d="M299.4 94.1L329.4 118.5L357.5 143L383.9 167.5L408.6 192L431.6 216.5L452.9 241L472.7 265.5L490.8 290L507.5 314.5L522.6 339L536.3 363.4L548.5 387.9L559.2 412.4L568.6 436.9L576.6 461.4L583.1 485.9L588.3 510.4L592.2 534.9L594.7 559.4L595.9 583.9L595.7 608.3L594.1 632.8L591.3 657.3L587 681.8L581.4 706.3L574.4 730.8L566.1 755.3L556.3 779.8L545.1 804.3L532.4 828.8L518.3 853.2L502.7 877.7L485.6 902.2L466.9 926.7L446.6 951.2L424.6 975.7L401 1000.2L375.7 1024.7L348.6 1049.2L319.7 1073.7L289 1098.1H717.7V94.1Z" fill="url(#ga20)"/>
<path d="M317.1 94.1L345.4 118.5L372.1 143L397.2 167.5L420.7 192L442.6 216.5L463.1 241L482 265.5L499.5 290L515.5 314.5L530.1 339L543.3 363.4L555.1 387.9L565.5 412.4L574.6 436.9L582.3 461.4L588.7 485.9L593.8 510.4L597.5 534.9L599.9 559.4L601 583.9L600.8 608.3L599.3 632.8L596.4 657.3L592.2 681.8L586.8 706.3L579.9 730.8L571.8 755.3L562.2 779.8L551.3 804.3L539.1 828.8L525.4 853.2L510.3 877.7L493.7 902.2L475.7 926.7L456.2 951.2L435.2 975.7L412.7 1000.2L388.6 1024.7L362.9 1049.2L335.5 1073.7L306.5 1098.1H717.7V94.1Z" fill="url(#ga21)"/>
<path d="M334.7 94.1L361.4 118.5L386.6 143L410.4 167.5L432.7 192L453.7 216.5L473.2 241L491.3 265.5L508.1 290L523.5 314.5L537.6 339L550.3 363.4L561.7 387.9L571.8 412.4L580.6 436.9L588.1 461.4L594.3 485.9L599.2 510.4L602.8 534.9L605.1 559.4L606.1 583.9L605.9 608.3L604.4 632.8L601.6 657.3L597.5 681.8L592.1 706.3L585.4 730.8L577.4 755.3L568.2 779.8L557.6 804.3L545.7 828.8L532.4 853.2L517.8 877.7L501.9 902.2L484.6 926.7L465.9 951.2L445.8 975.7L424.3 1000.2L401.4 1024.7L377.1 1049.2L351.3 1073.7L324 1098.1H717.7V94.1Z" fill="url(#ga22)"/>
<path d="M352.4 94.1L377.5 118.5L401.2 143L423.6 167.5L444.8 192L464.7 216.5L483.3 241L500.6 265.5L516.7 290L531.5 314.5L545 339L557.3 363.4L568.3 387.9L578.1 412.4L586.6 436.9L593.8 461.4L599.8 485.9L604.6 510.4L608 534.9L610.3 559.4L611.3 583.9L611 608.3L609.5 632.8L606.7 657.3L602.7 681.8L597.4 706.3L590.9 730.8L583.1 755.3L574.1 779.8L563.8 804.3L552.3 828.8L539.5 853.2L525.4 877.7L510 902.2L493.4 926.7L475.6 951.2L456.4 975.7L436 1000.2L414.3 1024.7L391.3 1049.2L367.1 1073.7L341.5 1098.1H717.7V94.1Z" fill="url(#ga23)"/>
<path d="M358.5 94.1L382.9 118.5L406.2 143L428.2 167.5L448.9 192L468.5 216.5L486.8 241L503.8 265.5L519.6 290L534.2 314.5L547.6 339L559.7 363.4L570.6 387.9L580.2 412.4L588.6 436.9L595.8 461.4L601.7 485.9L606.4 510.4L609.9 534.9L612.1 559.4L613 583.9L612.7 608.3L611.2 632.8L608.5 657.3L604.5 681.8L599.3 706.3L592.8 730.8L585.1 755.3L576.1 779.8L565.9 804.3L554.5 828.8L541.9 853.2L528 877.7L512.8 902.2L496.5 926.7L478.9 951.2L460.1 975.7L440 1000.2L418.7 1024.7L396.2 1049.2L372.5 1073.7L347.5 1098.1H717.7V94.1Z" fill="url(#ga24)"/>
<path d="M364.6 94.1L388.4 118.5L411.2 143L432.7 167.5L453.1 192L472.2 216.5L490.2 241L507 265.5L522.6 290L537 314.5L550.2 339L562.1 363.4L572.9 387.9L582.4 412.4L590.7 436.9L597.8 461.4L603.6 485.9L608.3 510.4L611.7 534.9L613.8 559.4L614.8 583.9L614.5 608.3L613 632.8L610.2 657.3L606.3 681.8L601.1 706.3L594.7 730.8L587 755.3L578.2 779.8L568.1 804.3L556.8 828.8L544.3 853.2L530.6 877.7L515.6 902.2L499.5 926.7L482.2 951.2L463.7 975.7L444 1000.2L423.1 1024.7L401.1 1049.2L377.9 1073.7L353.5 1098.1H717.7V94.1Z" fill="url(#ga25)"/>
<path d="M370.6 94.1L393.9 118.5L416.1 143L437.2 167.5L457.2 192L476 216.5L493.7 241L510.2 265.5L525.5 290L539.7 314.5L552.7 339L564.5 363.4L575.1 387.9L584.5 412.4L592.7 436.9L599.7 461.4L605.5 485.9L610.1 510.4L613.5 534.9L615.6 559.4L616.5 583.9L616.2 608.3L614.7 632.8L612 657.3L608.1 681.8L602.9 706.3L596.5 730.8L589 755.3L580.2 779.8L570.2 804.3L559 828.8L546.7 853.2L533.1 877.7L518.4 902.2L502.6 926.7L485.5 951.2L467.3 975.7L448 1000.2L427.5 1024.7L405.9 1049.2L383.3 1073.7L359.5 1098.1H717.7V94.1Z" fill="url(#ga26)"/>
<path d="M376.7 94.1L399.4 118.5L421.1 143L441.8 167.5L461.3 192L479.8 216.5L497.2 241L513.4 265.5L528.5 290L542.5 314.5L555.3 339L566.9 363.4L577.4 387.9L586.7 412.4L594.8 436.9L601.7 461.4L607.4 485.9L612 510.4L615.3 534.9L617.4 559.4L618.3 583.9L618 608.3L616.5 632.8L613.8 657.3L609.9 681.8L604.7 706.3L598.4 730.8L590.9 755.3L582.2 779.8L572.4 804.3L561.3 828.8L549.1 853.2L535.7 877.7L521.2 902.2L505.6 926.7L488.8 951.2L471 975.7L452 1000.2L431.9 1024.7L410.8 1049.2L388.7 1073.7L365.5 1098.1H717.7V94.1Z" fill="url(#ga27)"/>
<path d="M382.7 94.1L404.9 118.5L426.1 143L446.3 167.5L465.5 192L483.6 216.5L500.6 241L516.6 265.5L531.4 290L545.2 314.5L557.8 339L569.3 363.4L579.7 387.9L588.8 412.4L596.8 436.9L603.7 461.4L609.3 485.9L613.8 510.4L617.1 534.9L619.2 559.4L620.1 583.9L619.7 608.3L618.2 632.8L615.5 657.3L611.6 681.8L606.6 706.3L600.3 730.8L592.9 755.3L584.3 779.8L574.5 804.3L563.6 828.8L551.5 853.2L538.3 877.7L524 902.2L508.6 926.7L492.1 951.2L474.6 975.7L456 1000.2L436.3 1024.7L415.7 1049.2L394.1 1073.7L371.4 1098.1H717.7V94.1Z" fill="url(#ga28)"/>
<path d="M388.8 94.1L410.4 118.5L431.1 143L450.8 167.5L469.6 192L487.3 216.5L504.1 241L519.8 265.5L534.4 290L547.9 314.5L560.4 339L571.7 363.4L581.9 387.9L591 412.4L598.9 436.9L605.7 461.4L611.2 485.9L615.7 510.4L618.9 534.9L620.9 559.4L621.8 583.9L621.5 608.3L620 632.8L617.3 657.3L613.4 681.8L608.4 706.3L602.2 730.8L594.8 755.3L586.3 779.8L576.6 804.3L565.8 828.8L553.9 853.2L540.9 877.7L526.8 902.2L511.7 926.7L495.4 951.2L478.2 975.7L460 1000.2L440.7 1024.7L420.6 1049.2L399.5 1073.7L377.4 1098.1H717.7V94.1Z" fill="url(#ga29)"/>
<path d="M394.8 94.1L415.9 118.5L436.1 143L455.4 167.5L473.7 192L491.1 216.5L507.5 241L523 265.5L537.3 290L550.7 314.5L562.9 339L574.1 363.4L584.2 387.9L593.1 412.4L601 436.9L607.6 461.4L613.1 485.9L617.5 510.4L620.7 534.9L622.7 559.4L623.6 583.9L623.2 608.3L621.7 632.8L619.1 657.3L615.2 681.8L610.2 706.3L604.1 730.8L596.8 755.3L588.3 779.8L578.8 804.3L568.1 828.8L556.3 853.2L543.5 877.7L529.6 902.2L514.7 926.7L498.8 951.2L481.8 975.7L464 1000.2L445.1 1024.7L425.4 1049.2L404.8 1073.7L383.4 1098.1H717.7V94.1Z" fill="url(#ga30)"/>
<path d="M400.9 94.1L421.4 118.5L441.1 143L459.9 167.5L477.9 192L494.9 216.5L511 241L526.2 265.5L540.3 290L553.4 314.5L565.5 339L576.5 363.4L586.5 387.9L595.3 412.4L603 436.9L609.6 461.4L615.1 485.9L619.4 510.4L622.5 534.9L624.5 559.4L625.3 583.9L625 608.3L623.5 632.8L620.8 657.3L617 681.8L612 706.3L605.9 730.8L598.7 755.3L590.3 779.8L580.9 804.3L570.4 828.8L558.7 853.2L546.1 877.7L532.4 902.2L517.7 926.7L502.1 951.2L485.5 975.7L468 1000.2L449.6 1024.7L430.3 1049.2L410.2 1073.7L389.4 1098.1H717.7V94.1Z" fill="url(#ga31)"/>
<path d="M407 94.1L426.9 118.5L446 143L464.4 167.5L482 192L498.7 216.5L514.5 241L529.3 265.5L543.2 290L556.2 314.5L568.1 339L578.9 363.4L588.7 387.9L597.4 412.4L605.1 436.9L611.6 461.4L617 485.9L621.2 510.4L624.3 534.9L626.3 559.4L627.1 583.9L626.7 608.3L625.2 632.8L622.6 657.3L618.8 681.8L613.9 706.3L607.8 730.8L600.6 755.3L592.4 779.8L583 804.3L572.6 828.8L561.2 853.2L548.7 877.7L535.2 902.2L520.8 926.7L505.4 951.2L489.1 975.7L471.9 1000.2L454 1024.7L435.2 1049.2L415.6 1073.7L395.4 1098.1H717.7V94.1Z" fill="url(#ga32)"/>
<path d="M413 94.1L432.4 118.5L451 143L469 167.5L486.1 192L502.5 216.5L517.9 241L532.5 265.5L546.2 290L558.9 314.5L570.6 339L581.3 363.4L591 387.9L599.6 412.4L607.1 436.9L613.5 461.4L618.9 485.9L623.1 510.4L626.1 534.9L628.1 559.4L628.8 583.9L628.5 608.3L627 632.8L624.4 657.3L620.6 681.8L615.7 706.3L609.7 730.8L602.6 755.3L594.4 779.8L585.2 804.3L574.9 828.8L563.6 853.2L551.3 877.7L538 902.2L523.8 926.7L508.7 951.2L492.7 975.7L475.9 1000.2L458.4 1024.7L440.1 1049.2L421 1073.7L401.4 1098.1H717.7V94.1Z" fill="url(#ga33)"/>
<path d="M419.1 94.1L437.8 118.5L456 143L473.5 167.5L490.2 192L506.2 216.5L521.4 241L535.7 265.5L549.1 290L561.6 314.5L573.2 339L583.7 363.4L593.3 387.9L601.7 412.4L609.2 436.9L615.5 461.4L620.8 485.9L624.9 510.4L627.9 534.9L629.8 559.4L630.6 583.9L630.2 608.3L628.7 632.8L626.1 657.3L622.4 681.8L617.5 706.3L611.6 730.8L604.5 755.3L596.4 779.8L587.3 804.3L577.1 828.8L566 853.2L553.8 877.7L540.8 902.2L526.8 926.7L512 951.2L496.4 975.7L479.9 1000.2L462.8 1024.7L444.9 1049.2L426.4 1073.7L407.4 1098.1H717.7V94.1Z" fill="url(#ga34)"/>
</g>
<path d="M247.2 152.6L211.6 135.4M337.3 152.6L302.7 134.4M412.9 158.2L378.9 139.1M471.1 164.2L433.5 163.4M191.6 193.2L154.6 180M246.5 224.8L210.1 208.1M336.4 230.4L303 210.5M407.9 226.4L375.1 206.4M499.4 235.8L461.1 226.2M343 296.3L311.1 274.1M417.9 302L385.5 277.5M491.7 302L460.5 278.9M560 319.3L522 318.6M417.8 379.8L392.5 349.5M454.1 424.7L428.4 392.6M497.3 375.3L469.8 349.1M579.3 371L539.1 369.4M495.8 448.7L474.9 417.3M577.1 452.9L544.7 432.9M494.8 518.6L464.4 494.6M573.9 520.3L543.6 503.7M626.3 525L588.3 525M502.2 595.8L462.7 593.4M573.9 595.8L539.1 594.4M628.4 595.8L594.7 594.2M494.8 672L459.2 686.7M573.9 674.1L544 687.7M623.1 678L587.2 678M495.8 742.6L475.1 773M577.1 737.9L544.5 758.6M454.1 766.1L428.3 795.2M421 815.3L393.7 843.9M498 816.4L470.1 841.9M579.3 818.5L539.1 819.8M551.4 883.7L513.4 882.7M343 894.8L311.6 917.4M417.9 889.8L386.3 913.1M491.7 889.1L460.6 911.6M498.7 957L460.1 960.1M246.5 966.3L211.2 982.1M336.4 960.3L302.8 981.2M407.9 965.6L374.9 986.7M191.6 998.9L155.1 1012.9M464.5 1017.9L425.2 1018.5M247.2 1038.8L211.7 1055.3M338 1038.8L302.7 1057.6M413.5 1033.8L377.5 1053.1" stroke="#000" stroke-width="5.2" fill="none"/>
<path d="M189.9 125L217.7 127.2L209 145.3ZM281.4 123.3L309.1 126.5L299.8 144.2ZM358 127.3L385.5 131.3L375.7 148.8ZM409.6 162.9L435.8 153.5L435.3 173.4ZM132 171.9L159.9 171.2L153.2 190ZM188.3 198.2L216.1 199.9L207.8 218.1ZM282.4 198.2L309.9 202.9L299.6 220.1ZM354.7 193.8L382 198.9L371.6 215.9ZM437.8 220.5L465.5 217L460.7 236.4ZM291.4 260.4L318.5 267L307 283.4ZM366.3 263L393.1 270.7L381 286.7ZM441.2 264.7L468 272.1L456.2 288.2ZM498 318.2L524.1 308.6L523.8 328.6ZM377.1 331L401.4 344.6L386.1 357.4ZM413.5 373.8L437.5 387.9L421.9 400.4ZM452.4 332.5L478.1 343.2L464.3 357.7ZM515.1 368.4L541.5 359.5L540.7 379.5ZM461.6 397.3L484.3 413.4L467.7 424.5ZM524.3 420.2L551.6 425.4L541.1 442.4ZM445.6 479.7L472.2 488L459.7 503.7ZM522.6 492.1L550.2 495.9L540.5 513.4ZM564.3 525L590.3 515L590.3 535ZM438.7 592L465.3 583.6L464.1 603.5ZM515.1 593.5L541.5 584.5L540.7 604.5ZM570.7 593L597.1 584.3L596.2 604.3ZM437 695.9L457.2 676.7L464.9 695.2ZM522.1 697.6L541.7 677.8L549.9 696ZM563.2 678L589.2 668L589.2 688ZM461.6 792.8L468 765.7L484.5 777ZM524.3 771.4L540.9 749.1L551.6 765.9ZM412.4 813.2L422.2 787.1L437.1 800.3ZM377.1 861.3L387.8 835.6L402.3 849.4ZM452.4 858.1L464.8 833.1L478.3 847.9ZM515.1 820.6L540.7 809.8L541.4 829.8ZM489.4 882L515.7 872.8L515.1 892.7ZM292.1 931.4L307.4 908.1L319 924.3ZM367 927.4L381.9 903.9L393.8 920ZM441.2 925.7L456.4 902.4L468.1 918.6ZM436.2 962L461.3 949.9L462.9 969.9ZM189.3 991.9L208.9 972.2L217.1 990.4ZM282.4 993.9L299.2 971.7L309.8 988.6ZM354.7 999.6L371.2 977.2L382 994ZM132.7 1021.5L153.4 1002.9L160.6 1021.5ZM401.2 1018.9L427.1 1008.5L427.4 1028.5ZM189.9 1065.5L209.3 1045.4L217.7 1063.6ZM281.4 1068.8L299.7 1047.8L309.1 1065.5ZM356.3 1064.5L374.5 1043.4L384 1061Z" fill="#000"/>
<path d="M168.6 1036.9h14.5M168.6 987.9h14.5M168.6 939h14.5M168.6 890h14.5M168.6 792h14.5M168.6 743h14.5M168.6 694.1h14.5M168.6 645.1h14.5M168.6 547.1h14.5M168.6 498.1h14.5M168.6 449.2h14.5M168.6 400.2h14.5M168.6 302.2h14.5M168.6 253.2h14.5M168.6 204.3h14.5M168.6 155.3h14.5M220.2 1082.1v-14M275.3 1082.1v-14M330.4 1082.1v-14M385.4 1082.1v-14M495.5 1082.1v-14M550.5 1082.1v-14M605.6 1082.1v-14M660.6 1082.1v-14" stroke="#000" stroke-width="3.2" fill="none"/>
<path d="M168.6 841h24.5M168.6 596.1h24.5M168.6 351.2h24.5M440.4 1082.1v-24" stroke="#000" stroke-width="6.6" fill="none"/>
</g>
<path fill-rule="evenodd" fill="#000" d="M162 101.7H719.4V1088.8H162ZM168.6 109.8H712.7V1082.1H168.6Z"/>
<text class="pt" x="164.3" y="78.5">(a) Z=0</text>
<text class="tk" text-anchor="end" x="148" y="128.6">2</text>
<text class="tk" text-anchor="end" x="148" y="618.4">0</text>
<text class="n1" x="108.8" y="374">1</text>
<text class="tk" x="86.1" y="863.3"><tspan dy="3">–</tspan><tspan class="n1" x="124.6" dy="-2.5">1</tspan></text>
<text class="tk" text-anchor="end" x="163.3" y="1108.2"><tspan dy="3">–</tspan><tspan dy="-3">2</tspan></text>
<text class="tk" text-anchor="middle" x="179.7" y="1145.7">0</text>
<text class="tk" text-anchor="middle" x="715.7" y="1145.7">2</text>
<text class="n1" x="420.7" y="1146.2">1</text>
<text class="ax" text-anchor="middle" x="439.9" y="1202.8">X (R<tspan class="sb" dy="21">M</tspan><tspan dy="-21">)</tspan></text>
<text class="ax" text-anchor="middle" transform="translate(70.7 597) rotate(-90)">Y (R<tspan class="sb" dy="21">M</tspan><tspan dy="-21">)</tspan></text>
<g clip-path="url(#cfb)">
<path d="M1164.8 109.8V1082.1M1219.8 109.8V1082.1M1274.9 109.8V1082.1M1329.9 109.8V1082.1M1440 109.8V1082.1M1495.1 109.8V1082.1M1550.1 109.8V1082.1M1605.2 109.8V1082.1M1113.1 1036.9H1657.2M1113.1 987.9H1657.2M1113.1 939H1657.2M1113.1 890H1657.2M1113.1 792H1657.2M1113.1 743H1657.2M1113.1 694.1H1657.2M1113.1 645.1H1657.2M1113.1 547.1H1657.2M1113.1 498.1H1657.2M1113.1 449.2H1657.2M1113.1 400.2H1657.2M1113.1 302.2H1657.2M1113.1 253.2H1657.2M1113.1 204.3H1657.2M1113.1 155.3H1657.2" stroke="#c2c2c2" stroke-width="2.6" stroke-dasharray="1.5 5.5" fill="none"/>
<path d="M1385 109.8V1082.1" stroke="#000" stroke-width="2" fill="none"/>
<path d="M1113.1 841H1657.2M1113.1 596.1H1657.2M1113.1 351.2H1657.2" stroke="#000" stroke-width="3.4" fill="none"/>
<g clip-path="url(#cbb)">
<path d="M710.8 94.1L799.8 118.5L880.5 143L953.4 167.5L1019.1 192L1078.1 216.5L1130.9 241L1177.9 265.5L1219.6 290L1256.4 314.5L1288.6 339L1316.8 363.4L1341.1 387.9L1361.9 412.4L1379.5 436.9L1394.1 461.4L1406 485.9L1415.4 510.4L1422.5 534.9L1427.5 559.4L1430.4 583.9L1431.4 608.3L1430.7 632.8L1428.1 657.3L1423.9 681.8L1417.9 706.3L1410.2 730.8L1400.8 755.3L1389.5 779.8L1376.3 804.3L1361.2 828.8L1343.8 853.2L1324.1 877.7L1301.9 902.2L1277 926.7L1249.1 951.2L1218 975.7L1183.3 1000.2L1144.8 1024.7L1102.2 1049.2L1055 1073.7L1002.8 1098.1H1662.2V94.1Z" fill="url(#gb0)"/>
<path d="M740.5 94.1L827.8 118.5L907 143L978.5 167.5L1043 192L1100.9 216.5L1152.8 241L1199 265.5L1240 290L1276.1 314.5L1307.9 339L1335.6 363.4L1359.5 387.9L1380 412.4L1397.3 436.9L1411.7 461.4L1423.5 485.9L1432.8 510.4L1439.8 534.9L1444.6 559.4L1447.5 583.9L1448.5 608.3L1447.7 632.8L1445.2 657.3L1440.9 681.8L1435 706.3L1427.4 730.8L1418 755.3L1406.9 779.8L1393.8 804.3L1378.8 828.8L1361.6 853.2L1342.2 877.7L1320.2 902.2L1295.6 926.7L1268.1 951.2L1237.5 975.7L1203.3 1000.2L1165.4 1024.7L1123.5 1049.2L1077.1 1073.7L1025.9 1098.1H1662.2V94.1Z" fill="url(#gb1)"/>
<path d="M756.6 94.1L842.1 118.5L919.7 143L989.9 167.5L1053.2 192L1110 216.5L1160.9 241L1206.3 265.5L1246.6 290L1282.1 314.5L1313.4 339L1340.6 363.4L1364.2 387.9L1384.3 412.4L1401.4 436.9L1415.6 461.4L1427.2 485.9L1436.3 510.4L1443.2 534.9L1448 559.4L1450.8 583.9L1451.8 608.3L1451 632.8L1448.4 657.3L1444.2 681.8L1438.3 706.3L1430.8 730.8L1421.5 755.3L1410.4 779.8L1397.5 804.3L1382.7 828.8L1365.7 853.2L1346.5 877.7L1324.8 902.2L1300.5 926.7L1273.4 951.2L1243.2 975.7L1209.6 1000.2L1172.3 1024.7L1131 1049.2L1085.4 1073.7L1035.1 1098.1H1662.2V94.1Z" fill="url(#gb2)"/>
<path d="M772.6 94.1L856.4 118.5L932.4 143L1001.2 167.5L1063.3 192L1119.1 216.5L1169.1 241L1213.6 265.5L1253.2 290L1288.2 314.5L1318.9 339L1345.6 363.4L1368.8 387.9L1388.7 412.4L1405.5 436.9L1419.5 461.4L1430.9 485.9L1439.9 510.4L1446.7 534.9L1451.4 559.4L1454.1 583.9L1455.1 608.3L1454.2 632.8L1451.7 657.3L1447.5 681.8L1441.7 706.3L1434.2 730.8L1425 755.3L1414 779.8L1401.2 804.3L1386.5 828.8L1369.7 853.2L1350.8 877.7L1329.4 902.2L1305.4 926.7L1278.7 951.2L1248.9 975.7L1215.8 1000.2L1179.2 1024.7L1138.6 1049.2L1093.8 1073.7L1044.4 1098.1H1662.2V94.1Z" fill="url(#gb3)"/>
<path d="M788.6 94.1L870.7 118.5L945.2 143L1012.6 167.5L1073.5 192L1128.2 216.5L1177.2 241L1221 265.5L1259.8 290L1294.2 314.5L1324.3 339L1350.7 363.4L1373.5 387.9L1393 412.4L1409.6 436.9L1423.3 461.4L1434.6 485.9L1443.4 510.4L1450.1 534.9L1454.8 559.4L1457.5 583.9L1458.4 608.3L1457.5 632.8L1455 657.3L1450.8 681.8L1445 706.3L1437.6 730.8L1428.5 755.3L1417.6 779.8L1405 804.3L1390.4 828.8L1373.8 853.2L1355 877.7L1333.9 902.2L1310.3 926.7L1284 951.2L1254.6 975.7L1222.1 1000.2L1186 1024.7L1146.1 1049.2L1102.2 1073.7L1053.7 1098.1H1662.2V94.1Z" fill="url(#gb4)"/>
<path d="M813.6 94.1L892.9 118.5L965 143L1030.3 167.5L1089.3 192L1142.3 216.5L1189.9 241L1232.4 265.5L1270.1 290L1303.5 314.5L1332.9 339L1358.5 363.4L1380.8 387.9L1399.8 412.4L1415.9 436.9L1429.4 461.4L1440.3 485.9L1449 510.4L1455.5 534.9L1460 559.4L1462.6 583.9L1463.5 608.3L1462.6 632.8L1460.1 657.3L1456 681.8L1450.2 706.3L1442.9 730.8L1433.9 755.3L1423.2 779.8L1410.7 804.3L1396.4 828.8L1380.1 853.2L1361.7 877.7L1341.1 902.2L1317.9 926.7L1292.2 951.2L1263.5 975.7L1231.8 1000.2L1196.7 1024.7L1157.9 1049.2L1115.2 1073.7L1068.1 1098.1H1662.2V94.1Z" fill="url(#gb5)"/>
<path d="M838.5 94.1L915.2 118.5L984.9 143L1048 167.5L1105.1 192L1156.5 216.5L1202.6 241L1243.8 265.5L1280.4 290L1312.9 314.5L1341.4 339L1366.4 363.4L1388 387.9L1406.6 412.4L1422.3 436.9L1435.4 461.4L1446.1 485.9L1454.5 510.4L1460.9 534.9L1465.3 559.4L1467.8 583.9L1468.6 608.3L1467.7 632.8L1465.2 657.3L1461.1 681.8L1455.4 706.3L1448.2 730.8L1439.3 755.3L1428.8 779.8L1416.5 804.3L1402.5 828.8L1386.5 853.2L1368.4 877.7L1348.2 902.2L1325.6 926.7L1300.4 951.2L1272.5 975.7L1241.5 1000.2L1207.4 1024.7L1169.7 1049.2L1128.2 1073.7L1082.6 1098.1H1662.2V94.1Z" fill="url(#gb6)"/>
<path d="M863.5 94.1L937.4 118.5L1004.7 143L1065.7 167.5L1120.9 192L1170.6 216.5L1215.3 241L1255.2 265.5L1290.8 290L1322.3 314.5L1350 339L1374.2 363.4L1395.3 387.9L1413.4 412.4L1428.7 436.9L1441.5 461.4L1451.9 485.9L1460.1 510.4L1466.3 534.9L1470.5 559.4L1473 583.9L1473.7 608.3L1472.8 632.8L1470.3 657.3L1466.3 681.8L1460.7 706.3L1453.5 730.8L1444.7 755.3L1434.4 779.8L1422.3 804.3L1408.5 828.8L1392.8 853.2L1375.1 877.7L1355.3 902.2L1333.2 926.7L1308.6 951.2L1281.4 975.7L1251.3 1000.2L1218 1024.7L1181.4 1049.2L1141.2 1073.7L1097 1098.1H1662.2V94.1Z" fill="url(#gb7)"/>
<path d="M888.4 94.1L959.7 118.5L1024.6 143L1083.5 167.5L1136.7 192L1184.8 216.5L1228 241L1266.6 265.5L1301.1 290L1331.6 314.5L1358.5 339L1382.1 363.4L1402.6 387.9L1420.1 412.4L1435 436.9L1447.5 461.4L1457.6 485.9L1465.6 510.4L1471.7 534.9L1475.8 559.4L1478.2 583.9L1478.9 608.3L1477.9 632.8L1475.4 657.3L1471.4 681.8L1465.9 706.3L1458.8 730.8L1450.2 755.3L1439.9 779.8L1428.1 804.3L1414.5 828.8L1399.1 853.2L1381.8 877.7L1362.4 902.2L1340.8 926.7L1316.8 951.2L1290.3 975.7L1261 1000.2L1228.7 1024.7L1193.2 1049.2L1154.2 1073.7L1111.5 1098.1H1662.2V94.1Z" fill="url(#gb8)"/>
<path d="M913.4 94.1L982 118.5L1044.4 143L1101.2 167.5L1152.6 192L1198.9 216.5L1240.7 241L1278.1 265.5L1311.4 290L1341 314.5L1367.1 339L1390 363.4L1409.8 387.9L1426.9 412.4L1441.4 436.9L1453.5 461.4L1463.4 485.9L1471.2 510.4L1477 534.9L1481.1 559.4L1483.4 583.9L1484 608.3L1483 632.8L1480.5 657.3L1476.6 681.8L1471.1 706.3L1464.1 730.8L1455.6 755.3L1445.5 779.8L1433.9 804.3L1420.5 828.8L1405.4 853.2L1388.5 877.7L1369.5 902.2L1348.4 926.7L1325 951.2L1299.2 975.7L1270.7 1000.2L1239.4 1024.7L1205 1049.2L1167.2 1073.7L1125.9 1098.1H1662.2V94.1Z" fill="url(#gb9)"/>
<path d="M938.3 94.1L1004.2 118.5L1064.3 143L1118.9 167.5L1168.4 192L1213.1 216.5L1253.4 241L1289.5 265.5L1321.7 290L1350.3 314.5L1375.6 339L1397.8 363.4L1417.1 387.9L1433.7 412.4L1447.8 436.9L1459.6 461.4L1469.2 485.9L1476.7 510.4L1482.4 534.9L1486.3 559.4L1488.5 583.9L1489.1 608.3L1488.1 632.8L1485.7 657.3L1481.7 681.8L1476.3 706.3L1469.4 730.8L1461 755.3L1451.1 779.8L1439.7 804.3L1426.6 828.8L1411.8 853.2L1395.2 877.7L1376.6 902.2L1356 926.7L1333.3 951.2L1308.1 975.7L1280.5 1000.2L1250.1 1024.7L1216.7 1049.2L1180.3 1073.7L1140.4 1098.1H1662.2V94.1Z" fill="url(#gb10)"/>
<path d="M963.3 94.1L1026.5 118.5L1084.1 143L1136.6 167.5L1184.2 192L1227.2 216.5L1266.1 241L1300.9 265.5L1332 290L1359.7 314.5L1384.2 339L1405.7 363.4L1424.4 387.9L1440.5 412.4L1454.1 436.9L1465.6 461.4L1474.9 485.9L1482.3 510.4L1487.8 534.9L1491.6 559.4L1493.7 583.9L1494.2 608.3L1493.2 632.8L1490.8 657.3L1486.8 681.8L1481.5 706.3L1474.7 730.8L1466.4 755.3L1456.7 779.8L1445.4 804.3L1432.6 828.8L1418.1 853.2L1401.8 877.7L1383.7 902.2L1363.7 926.7L1341.5 951.2L1317 975.7L1290.2 1000.2L1260.7 1024.7L1228.5 1049.2L1193.3 1073.7L1154.8 1098.1H1662.2V94.1Z" fill="url(#gb11)"/>
<path d="M988.3 94.1L1048.7 118.5L1104 143L1154.3 167.5L1200 192L1241.4 216.5L1278.7 241L1312.3 265.5L1342.3 290L1369.1 314.5L1392.7 339L1413.5 363.4L1431.6 387.9L1447.2 412.4L1460.5 436.9L1471.6 461.4L1480.7 485.9L1487.8 510.4L1493.2 534.9L1496.9 559.4L1498.9 583.9L1499.4 608.3L1498.3 632.8L1495.9 657.3L1492 681.8L1486.7 706.3L1480 730.8L1471.8 755.3L1462.3 779.8L1451.2 804.3L1438.6 828.8L1424.4 853.2L1408.5 877.7L1390.8 902.2L1371.3 926.7L1349.7 951.2L1326 975.7L1299.9 1000.2L1271.4 1024.7L1240.3 1049.2L1206.3 1073.7L1169.3 1098.1H1662.2V94.1Z" fill="url(#gb12)"/>
<path d="M1013.2 94.1L1071 118.5L1123.8 143L1172 167.5L1215.8 192L1255.6 216.5L1291.4 241L1323.7 265.5L1352.7 290L1378.4 314.5L1401.3 339L1421.4 363.4L1438.9 387.9L1454 412.4L1466.9 436.9L1477.7 461.4L1486.5 485.9L1493.4 510.4L1498.6 534.9L1502.1 559.4L1504.1 583.9L1504.5 608.3L1503.4 632.8L1501 657.3L1497.1 681.8L1491.9 706.3L1485.3 730.8L1477.3 755.3L1467.9 779.8L1457 804.3L1444.7 828.8L1430.7 853.2L1415.2 877.7L1398 902.2L1378.9 926.7L1357.9 951.2L1334.9 975.7L1309.7 1000.2L1282.1 1024.7L1252 1049.2L1219.3 1073.7L1183.7 1098.1H1662.2V94.1Z" fill="url(#gb13)"/>
<path d="M1038.2 94.1L1093.2 118.5L1143.7 143L1189.7 167.5L1231.6 192L1269.7 216.5L1304.1 241L1335.2 265.5L1363 290L1387.8 314.5L1409.8 339L1429.2 363.4L1446.2 387.9L1460.8 412.4L1473.3 436.9L1483.7 461.4L1492.2 485.9L1498.9 510.4L1504 534.9L1507.4 559.4L1509.2 583.9L1509.6 608.3L1508.5 632.8L1506.1 657.3L1502.3 681.8L1497.1 706.3L1490.6 730.8L1482.7 755.3L1473.4 779.8L1462.8 804.3L1450.7 828.8L1437.1 853.2L1421.9 877.7L1405.1 902.2L1386.5 926.7L1366.1 951.2L1343.8 975.7L1319.4 1000.2L1292.8 1024.7L1263.8 1049.2L1232.3 1073.7L1198.2 1098.1H1662.2V94.1Z" fill="url(#gb14)"/>
<path d="M1063.1 94.1L1115.5 118.5L1163.5 143L1207.4 167.5L1247.5 192L1283.9 216.5L1316.8 241L1346.6 265.5L1373.3 290L1397.2 314.5L1418.4 339L1437.1 363.4L1453.4 387.9L1467.6 412.4L1479.6 436.9L1489.7 461.4L1498 485.9L1504.5 510.4L1509.4 534.9L1512.6 559.4L1514.4 583.9L1514.7 608.3L1513.6 632.8L1511.2 657.3L1507.4 681.8L1502.3 706.3L1495.9 730.8L1488.1 755.3L1479 779.8L1468.6 804.3L1456.7 828.8L1443.4 853.2L1428.6 877.7L1412.2 902.2L1394.1 926.7L1374.3 951.2L1352.7 975.7L1329.1 1000.2L1303.5 1024.7L1275.6 1049.2L1245.3 1073.7L1212.6 1098.1H1662.2V94.1Z" fill="url(#gb15)"/>
<path d="M1088.1 94.1L1137.8 118.5L1183.4 143L1225.1 167.5L1263.3 192L1298 216.5L1329.5 241L1358 265.5L1383.6 290L1406.5 314.5L1426.9 339L1444.9 363.4L1460.7 387.9L1474.3 412.4L1486 436.9L1495.8 461.4L1503.8 485.9L1510.1 510.4L1514.7 534.9L1517.9 559.4L1519.6 583.9L1519.9 608.3L1518.7 632.8L1516.3 657.3L1512.6 681.8L1507.5 706.3L1501.2 730.8L1493.5 755.3L1484.6 779.8L1474.4 804.3L1462.7 828.8L1449.7 853.2L1435.3 877.7L1419.3 902.2L1401.8 926.7L1382.6 951.2L1361.6 975.7L1338.9 1000.2L1314.1 1024.7L1287.3 1049.2L1258.4 1073.7L1227.1 1098.1H1662.2V94.1Z" fill="url(#gb16)"/>
<path d="M1113 94.1L1160 118.5L1203.2 143L1242.8 167.5L1279.1 192L1312.2 216.5L1342.2 241L1369.4 265.5L1393.9 290L1415.9 314.5L1435.5 339L1452.8 363.4L1468 387.9L1481.1 412.4L1492.4 436.9L1501.8 461.4L1509.5 485.9L1515.6 510.4L1520.1 534.9L1523.2 559.4L1524.8 583.9L1525 608.3L1523.9 632.8L1521.4 657.3L1517.7 681.8L1512.7 706.3L1506.5 730.8L1499 755.3L1490.2 779.8L1480.1 804.3L1468.8 828.8L1456.1 853.2L1442 877.7L1426.4 902.2L1409.4 926.7L1390.8 951.2L1370.5 975.7L1348.6 1000.2L1324.8 1024.7L1299.1 1049.2L1271.4 1073.7L1241.5 1098.1H1662.2V94.1Z" fill="url(#gb17)"/>
<path d="M1138 94.1L1182.3 118.5L1223.1 143L1260.6 167.5L1294.9 192L1326.3 216.5L1354.9 241L1380.8 265.5L1404.2 290L1425.3 314.5L1444 339L1460.6 363.4L1475.2 387.9L1487.9 412.4L1498.7 436.9L1507.8 461.4L1515.3 485.9L1521.2 510.4L1525.5 534.9L1528.4 559.4L1529.9 583.9L1530.1 608.3L1529 632.8L1526.5 657.3L1522.8 681.8L1517.9 706.3L1511.8 730.8L1504.4 755.3L1495.8 779.8L1485.9 804.3L1474.8 828.8L1462.4 853.2L1448.6 877.7L1433.5 902.2L1417 926.7L1399 951.2L1379.5 975.7L1358.3 1000.2L1335.5 1024.7L1310.9 1049.2L1284.4 1073.7L1256 1098.1H1662.2V94.1Z" fill="url(#gb18)"/>
<path d="M1163 94.1L1204.5 118.5L1242.9 143L1278.3 167.5L1310.7 192L1340.5 216.5L1367.6 241L1392.2 265.5L1414.6 290L1434.6 314.5L1452.6 339L1468.5 363.4L1482.5 387.9L1494.7 412.4L1505.1 436.9L1513.9 461.4L1521 485.9L1526.7 510.4L1530.9 534.9L1533.7 559.4L1535.1 583.9L1535.2 608.3L1534.1 632.8L1531.6 657.3L1528 681.8L1523.1 706.3L1517.1 730.8L1509.8 755.3L1501.4 779.8L1491.7 804.3L1480.8 828.8L1468.7 853.2L1455.3 877.7L1440.6 902.2L1424.6 926.7L1407.2 951.2L1388.4 975.7L1368 1000.2L1346.2 1024.7L1322.6 1049.2L1297.4 1073.7L1270.4 1098.1H1662.2V94.1Z" fill="url(#gb19)"/>
<path d="M1187.9 94.1L1226.8 118.5L1262.8 143L1296 167.5L1326.6 192L1354.6 216.5L1380.3 241L1403.7 265.5L1424.9 290L1444 314.5L1461.1 339L1476.3 363.4L1489.8 387.9L1501.4 412.4L1511.5 436.9L1519.9 461.4L1526.8 485.9L1532.3 510.4L1536.3 534.9L1538.9 559.4L1540.3 583.9L1540.3 608.3L1539.2 632.8L1536.7 657.3L1533.1 681.8L1528.3 706.3L1522.4 730.8L1515.2 755.3L1506.9 779.8L1497.5 804.3L1486.9 828.8L1475 853.2L1462 877.7L1447.8 902.2L1432.2 926.7L1415.4 951.2L1397.3 975.7L1377.8 1000.2L1356.8 1024.7L1334.4 1049.2L1310.4 1073.7L1284.9 1098.1H1662.2V94.1Z" fill="url(#gb20)"/>
<path d="M1212.9 94.1L1249 118.5L1282.6 143L1313.7 167.5L1342.4 192L1368.8 216.5L1393 241L1415.1 265.5L1435.2 290L1453.3 314.5L1469.7 339L1484.2 363.4L1497 387.9L1508.2 412.4L1517.8 436.9L1525.9 461.4L1532.6 485.9L1537.8 510.4L1541.7 534.9L1544.2 559.4L1545.5 583.9L1545.5 608.3L1544.3 632.8L1541.9 657.3L1538.3 681.8L1533.5 706.3L1527.7 730.8L1520.7 755.3L1512.5 779.8L1503.3 804.3L1492.9 828.8L1481.4 853.2L1468.7 877.7L1454.9 902.2L1439.9 926.7L1423.7 951.2L1406.2 975.7L1387.5 1000.2L1367.5 1024.7L1346.2 1049.2L1323.5 1073.7L1299.3 1098.1H1662.2V94.1Z" fill="url(#gb21)"/>
<path d="M1237.8 94.1L1271.3 118.5L1302.5 143L1331.4 167.5L1358.2 192L1382.9 216.5L1405.7 241L1426.5 265.5L1445.5 290L1462.7 314.5L1478.2 339L1492 363.4L1504.3 387.9L1515 412.4L1524.2 436.9L1532 461.4L1538.3 485.9L1543.4 510.4L1547.1 534.9L1549.5 559.4L1550.6 583.9L1550.6 608.3L1549.4 632.8L1547 657.3L1543.4 681.8L1538.7 706.3L1533 730.8L1526.1 755.3L1518.1 779.8L1509 804.3L1498.9 828.8L1487.7 853.2L1475.4 877.7L1462 902.2L1447.5 926.7L1431.9 951.2L1415.1 975.7L1397.2 1000.2L1378.2 1024.7L1357.9 1049.2L1336.5 1073.7L1313.8 1098.1H1662.2V94.1Z" fill="url(#gb22)"/>
<path d="M1262.8 94.1L1293.5 118.5L1322.3 143L1349.1 167.5L1374 192L1397.1 216.5L1418.4 241L1437.9 265.5L1455.8 290L1472.1 314.5L1486.8 339L1499.9 363.4L1511.6 387.9L1521.8 412.4L1530.6 436.9L1538 461.4L1544.1 485.9L1548.9 510.4L1552.4 534.9L1554.7 559.4L1555.8 583.9L1555.7 608.3L1554.5 632.8L1552.1 657.3L1548.6 681.8L1544 706.3L1538.3 730.8L1531.5 755.3L1523.7 779.8L1514.8 804.3L1504.9 828.8L1494 853.2L1482.1 877.7L1469.1 902.2L1455.1 926.7L1440.1 951.2L1424 975.7L1407 1000.2L1388.9 1024.7L1369.7 1049.2L1349.5 1073.7L1328.2 1098.1H1662.2V94.1Z" fill="url(#gb23)"/>
<path d="M1271.3 94.1L1301.2 118.5L1329.1 143L1355.2 167.5L1379.4 192L1401.9 216.5L1422.7 241L1441.8 265.5L1459.3 290L1475.3 314.5L1489.7 339L1502.6 363.4L1514 387.9L1524.1 412.4L1532.8 436.9L1540.1 461.4L1546.1 485.9L1550.8 510.4L1554.3 534.9L1556.5 559.4L1557.6 583.9L1557.5 608.3L1556.2 632.8L1553.8 657.3L1550.3 681.8L1545.7 706.3L1540.1 730.8L1533.4 755.3L1525.6 779.8L1516.8 804.3L1507 828.8L1496.2 853.2L1484.4 877.7L1471.5 902.2L1457.7 926.7L1442.9 951.2L1427.1 975.7L1410.3 1000.2L1392.5 1024.7L1373.7 1049.2L1353.9 1073.7L1333.1 1098.1H1662.2V94.1Z" fill="url(#gb24)"/>
<path d="M1279.9 94.1L1308.8 118.5L1335.9 143L1361.2 167.5L1384.8 192L1406.8 216.5L1427.1 241L1445.7 265.5L1462.9 290L1478.5 314.5L1492.6 339L1505.3 363.4L1516.5 387.9L1526.4 412.4L1534.9 436.9L1542.1 461.4L1548.1 485.9L1552.7 510.4L1556.1 534.9L1558.3 559.4L1559.4 583.9L1559.2 608.3L1558 632.8L1555.6 657.3L1552.1 681.8L1547.5 706.3L1541.9 730.8L1535.2 755.3L1527.5 779.8L1518.8 804.3L1509.1 828.8L1498.3 853.2L1486.6 877.7L1474 902.2L1460.3 926.7L1445.7 951.2L1430.2 975.7L1413.6 1000.2L1396.2 1024.7L1377.8 1049.2L1358.4 1073.7L1338.1 1098.1H1662.2V94.1Z" fill="url(#gb25)"/>
<path d="M1288.4 94.1L1316.4 118.5L1342.7 143L1367.3 167.5L1390.3 192L1411.6 216.5L1431.4 241L1449.7 265.5L1466.4 290L1481.7 314.5L1495.5 339L1508 363.4L1519 387.9L1528.7 412.4L1537.1 436.9L1544.2 461.4L1550 485.9L1554.6 510.4L1558 534.9L1560.1 559.4L1561.1 583.9L1561 608.3L1559.7 632.8L1557.3 657.3L1553.8 681.8L1549.3 706.3L1543.7 730.8L1537.1 755.3L1529.4 779.8L1520.8 804.3L1511.1 828.8L1500.5 853.2L1488.9 877.7L1476.4 902.2L1462.9 926.7L1448.5 951.2L1433.2 975.7L1417 1000.2L1399.8 1024.7L1381.8 1049.2L1362.9 1073.7L1343 1098.1H1662.2V94.1Z" fill="url(#gb26)"/>
<path d="M1297 94.1L1324 118.5L1349.5 143L1373.4 167.5L1395.7 192L1416.5 216.5L1435.7 241L1453.6 265.5L1469.9 290L1484.9 314.5L1498.5 339L1510.7 363.4L1521.5 387.9L1531 412.4L1539.3 436.9L1546.3 461.4L1552 485.9L1556.5 510.4L1559.8 534.9L1561.9 559.4L1562.9 583.9L1562.7 608.3L1561.4 632.8L1559.1 657.3L1555.6 681.8L1551.1 706.3L1545.5 730.8L1538.9 755.3L1531.3 779.8L1522.8 804.3L1513.2 828.8L1502.7 853.2L1491.2 877.7L1478.8 902.2L1465.5 926.7L1451.3 951.2L1436.3 975.7L1420.3 1000.2L1403.5 1024.7L1385.8 1049.2L1367.3 1073.7L1348 1098.1H1662.2V94.1Z" fill="url(#gb27)"/>
<path d="M1305.5 94.1L1331.6 118.5L1356.3 143L1379.4 167.5L1401.1 192L1421.3 216.5L1440.1 241L1457.5 265.5L1473.5 290L1488.1 314.5L1501.4 339L1513.3 363.4L1524 387.9L1533.4 412.4L1541.5 436.9L1548.3 461.4L1554 485.9L1558.4 510.4L1561.7 534.9L1563.7 559.4L1564.7 583.9L1564.5 608.3L1563.2 632.8L1560.8 657.3L1557.4 681.8L1552.9 706.3L1547.3 730.8L1540.8 755.3L1533.2 779.8L1524.7 804.3L1515.3 828.8L1504.8 853.2L1493.5 877.7L1481.3 902.2L1468.1 926.7L1454.2 951.2L1439.3 975.7L1423.6 1000.2L1407.1 1024.7L1389.8 1049.2L1371.8 1073.7L1352.9 1098.1H1662.2V94.1Z" fill="url(#gb28)"/>
<path d="M1314 94.1L1339.3 118.5L1363.1 143L1385.5 167.5L1406.5 192L1426.2 216.5L1444.4 241L1461.4 265.5L1477 290L1491.3 314.5L1504.3 339L1516 363.4L1526.5 387.9L1535.7 412.4L1543.7 436.9L1550.4 461.4L1555.9 485.9L1560.3 510.4L1563.5 534.9L1565.5 559.4L1566.4 583.9L1566.2 608.3L1564.9 632.8L1562.6 657.3L1559.1 681.8L1554.6 706.3L1549.1 730.8L1542.6 755.3L1535.2 779.8L1526.7 804.3L1517.3 828.8L1507 853.2L1495.8 877.7L1483.7 902.2L1470.8 926.7L1457 951.2L1442.4 975.7L1427 1000.2L1410.8 1024.7L1393.9 1049.2L1376.2 1073.7L1357.9 1098.1H1662.2V94.1Z" fill="url(#gb29)"/>
<path d="M1322.6 94.1L1346.9 118.5L1369.9 143L1391.5 167.5L1411.9 192L1431 216.5L1448.8 241L1465.3 265.5L1480.5 290L1494.5 314.5L1507.2 339L1518.7 363.4L1529 387.9L1538 412.4L1545.8 436.9L1552.5 461.4L1557.9 485.9L1562.2 510.4L1565.3 534.9L1567.3 559.4L1568.2 583.9L1568 608.3L1566.7 632.8L1564.3 657.3L1560.9 681.8L1556.4 706.3L1551 730.8L1544.5 755.3L1537.1 779.8L1528.7 804.3L1519.4 828.8L1509.2 853.2L1498.1 877.7L1486.1 902.2L1473.4 926.7L1459.8 951.2L1445.4 975.7L1430.3 1000.2L1414.5 1024.7L1397.9 1049.2L1380.7 1073.7L1362.8 1098.1H1662.2V94.1Z" fill="url(#gb30)"/>
<path d="M1331.1 94.1L1354.5 118.5L1376.7 143L1397.6 167.5L1417.3 192L1435.8 216.5L1453.1 241L1469.2 265.5L1484.1 290L1497.7 314.5L1510.2 339L1521.4 363.4L1531.5 387.9L1540.3 412.4L1548 436.9L1554.5 461.4L1559.9 485.9L1564.1 510.4L1567.2 534.9L1569.1 559.4L1570 583.9L1569.8 608.3L1568.4 632.8L1566.1 657.3L1562.6 681.8L1558.2 706.3L1552.8 730.8L1546.4 755.3L1539 779.8L1530.7 804.3L1521.4 828.8L1511.3 853.2L1500.4 877.7L1488.6 902.2L1476 926.7L1462.6 951.2L1448.5 975.7L1433.6 1000.2L1418.1 1024.7L1401.9 1049.2L1385.1 1073.7L1367.8 1098.1H1662.2V94.1Z" fill="url(#gb31)"/>
<path d="M1339.7 94.1L1362.1 118.5L1383.5 143L1403.7 167.5L1422.7 192L1440.7 216.5L1457.5 241L1473.1 265.5L1487.6 290L1500.9 314.5L1513.1 339L1524.1 363.4L1533.9 387.9L1542.6 412.4L1550.2 436.9L1556.6 461.4L1561.9 485.9L1566 510.4L1569 534.9L1570.9 559.4L1571.8 583.9L1571.5 608.3L1570.2 632.8L1567.8 657.3L1564.4 681.8L1560 706.3L1554.6 730.8L1548.2 755.3L1540.9 779.8L1532.6 804.3L1523.5 828.8L1513.5 853.2L1502.7 877.7L1491 902.2L1478.6 926.7L1465.4 951.2L1451.5 975.7L1437 1000.2L1421.8 1024.7L1406 1049.2L1389.6 1073.7L1372.7 1098.1H1662.2V94.1Z" fill="url(#gb32)"/>
<path d="M1348.2 94.1L1369.7 118.5L1390.3 143L1409.7 167.5L1428.2 192L1445.5 216.5L1461.8 241L1477 265.5L1491.1 290L1504.1 314.5L1516 339L1526.8 363.4L1536.4 387.9L1545 412.4L1552.4 436.9L1558.7 461.4L1563.8 485.9L1567.9 510.4L1570.9 534.9L1572.7 559.4L1573.5 583.9L1573.3 608.3L1571.9 632.8L1569.6 657.3L1566.2 681.8L1561.8 706.3L1556.4 730.8L1550.1 755.3L1542.8 779.8L1534.6 804.3L1525.6 828.8L1515.7 853.2L1505 877.7L1493.4 902.2L1481.2 926.7L1468.2 951.2L1454.6 975.7L1440.3 1000.2L1425.4 1024.7L1410 1049.2L1394.1 1073.7L1377.7 1098.1H1662.2V94.1Z" fill="url(#gb33)"/>
<path d="M1356.8 94.1L1377.4 118.5L1397 143L1415.8 167.5L1433.6 192L1450.4 216.5L1466.2 241L1480.9 265.5L1494.7 290L1507.3 314.5L1518.9 339L1529.5 363.4L1538.9 387.9L1547.3 412.4L1554.6 436.9L1560.7 461.4L1565.8 485.9L1569.8 510.4L1572.7 534.9L1574.5 559.4L1575.3 583.9L1575 608.3L1573.7 632.8L1571.3 657.3L1567.9 681.8L1563.6 706.3L1558.2 730.8L1551.9 755.3L1544.7 779.8L1536.6 804.3L1527.6 828.8L1517.8 853.2L1507.2 877.7L1495.9 902.2L1483.8 926.7L1471 951.2L1457.6 975.7L1443.6 1000.2L1429.1 1024.7L1414 1049.2L1398.5 1073.7L1382.6 1098.1H1662.2V94.1Z" fill="url(#gb34)"/>
</g>
<path d="M1191.5 152.6L1153.8 140.6M1281.4 153.2L1245.3 138.4M1356.2 158.2L1319.9 142M1407.8 173.2L1369.2 172.8M1191.5 224.8L1153 213.8M1280.4 230.4L1243.6 215.1M1351.9 227.1L1316.7 209.1M1443.4 235.8L1404.2 229.5M1214.8 273L1179.3 260.8M1271.4 299.6L1238.3 284.6M1361.9 302L1329 281.7M1436.7 302L1404.5 280.6M1318 342.9L1278.4 318.3M1504.4 319.3L1466.3 317.9M1360.4 378.7L1331.6 355.3M1441.9 375.9L1412.8 350.1M1523.6 371.7L1485 367.3M1391.6 428.3L1364.6 400.9M1440.2 448.7L1415.5 419M1522.1 452.9L1489.1 432.9M1438.7 518.6L1406.1 497.9M1518.9 521.4L1487.5 506.2M1570.9 525L1532.2 525M1518.9 595.8L1483 597M1572.8 595.8L1536.5 594.8M1445.1 595.4L1420.6 625.9M1441.9 672.4L1424.6 708.1M1514.6 674.1L1487.4 687.6M1567.7 678L1530.1 677.6M1440.8 742.6L1422.5 775.5M1522.1 737.9L1489.2 757.6M1375.6 822.8L1351.2 852.7M1443 815.7L1415.4 844.1M1523.6 819.1L1485 822.7M1503.9 888L1463.8 889.1M1361.9 889.1L1334.1 916.2M1436.7 889.8L1406.5 914M1482 929.7L1443.4 930.1M1303 918.1L1273.6 943.3M1280.4 960.3L1249.7 984.2M1351.9 965.6L1319.8 988.8M1442.7 956.3L1408.8 975.2M1213.1 991.3L1179.5 1012.4M1191.5 1038.8L1157.3 1058.9M1281.4 1038.8L1248 1058.8M1356.9 1033.5L1322.5 1054.6M1422.8 1036.8L1383.5 1036.4M1119 1050.1L1085.9 1071.7" stroke="#000" stroke-width="5.2" fill="none"/>
<path d="M1131 133.3L1158.8 131.6L1152.7 150.7ZM1223.1 129.3L1251 129.9L1243.4 148.4ZM1298 132.3L1325.8 133.7L1317.7 152ZM1345.2 172.5L1371.3 162.8L1371.1 182.8ZM1130 207.1L1157.7 204.7L1152.2 223.9ZM1221.5 205.8L1249.3 206.6L1241.6 225.1ZM1295.3 198.2L1323 201.1L1313.9 218.9ZM1380.5 225.8L1407.8 220L1404.6 239.7ZM1156.6 253.1L1184.4 252L1177.9 271ZM1216.5 274.7L1244.3 276.3L1236 294.6ZM1308.6 269L1336 274.2L1325.5 291.2ZM1384.5 267.4L1411.7 273.4L1400.7 290.1ZM1258.1 305.6L1285.4 310.9L1274.9 327.9ZM1442.3 317.1L1468.7 308L1468 328ZM1312.9 340.2L1339.4 348.8L1326.8 364.4ZM1394.8 334.2L1420.9 344L1407.7 359ZM1461.1 364.6L1488.1 357.6L1485.9 377.5ZM1347.8 383.9L1373.2 395.3L1358.9 409.4ZM1400.2 400.5L1424.5 414.1L1409.1 426.9ZM1468.6 420.4L1496 425.4L1485.7 442.5ZM1385.9 485L1413.2 490.5L1402.4 507.4ZM1465.9 495.7L1493.6 498L1484.9 516ZM1508.2 525L1534.2 515L1534.2 535ZM1459 597.8L1484.7 586.9L1485.3 606.9ZM1512.5 594.1L1538.8 584.9L1538.2 604.9ZM1405.5 644.6L1414 618.1L1429.6 630.6ZM1414.1 729.7L1416.4 702L1434.4 710.7ZM1465.9 698.3L1484.7 677.8L1493.6 695.7ZM1506.1 677.3L1532.2 667.6L1532 687.6ZM1410.9 796.5L1414.8 768.9L1432.3 778.6ZM1468.6 769.9L1485.8 748L1496.1 765.1ZM1336 871.3L1344.7 844.9L1360.2 857.5ZM1398.7 861.3L1409.6 835.7L1424 849.6ZM1461.1 824.9L1486.1 812.6L1488 832.5ZM1439.8 889.7L1465.5 879L1466 899ZM1317 933L1328.6 907.7L1342.5 922ZM1387.8 929L1401.8 905L1414.4 920.6ZM1419.4 930.4L1445.3 920.1L1445.5 940.1ZM1255.4 959L1268.6 934.4L1281.6 949.6ZM1230.8 998.9L1245.1 975L1257.4 990.8ZM1300.3 1002.9L1315.5 979.6L1327.2 995.8ZM1387.8 986.9L1405.7 965.5L1415.4 983ZM1159.2 1025.2L1175.9 1002.9L1186.6 1019.8ZM1136.6 1071.1L1154 1049.3L1164.1 1066.6ZM1227.4 1071.1L1244.6 1049.2L1254.9 1066.3ZM1302 1067.1L1318.9 1045L1329.4 1062.1ZM1359.5 1036.2L1385.6 1026.4L1385.4 1046.4ZM1065.7 1084.8L1082.1 1062.2L1093 1079Z" fill="#000"/>
<path d="M1113.1 1036.9h14.5M1113.1 987.9h14.5M1113.1 939h14.5M1113.1 890h14.5M1113.1 792h14.5M1113.1 743h14.5M1113.1 694.1h14.5M1113.1 645.1h14.5M1113.1 547.1h14.5M1113.1 498.1h14.5M1113.1 449.2h14.5M1113.1 400.2h14.5M1113.1 302.2h14.5M1113.1 253.2h14.5M1113.1 204.3h14.5M1113.1 155.3h14.5M1164.8 1082.1v-14M1219.8 1082.1v-14M1274.9 1082.1v-14M1329.9 1082.1v-14M1440 1082.1v-14M1495.1 1082.1v-14M1550.1 1082.1v-14M1605.2 1082.1v-14" stroke="#000" stroke-width="3.2" fill="none"/>
<path d="M1113.1 841h24.5M1113.1 596.1h24.5M1113.1 351.2h24.5M1385 1082.1v-24" stroke="#000" stroke-width="6.6" fill="none"/>
</g>
<path fill-rule="evenodd" fill="#000" d="M1106.5 101.7H1663.9V1088.8H1106.5ZM1113.1 109.8H1657.2V1082.1H1113.1Z"/>
<text class="pt" x="1108.8" y="78.5">(b) Y=0</text>
<text class="tk" text-anchor="end" x="1092.5" y="128.6">2</text>
<text class="tk" text-anchor="end" x="1092.5" y="618.4">0</text>
<text class="n1" x="1053.3" y="374">1</text>
<text class="tk" x="1030.6" y="863.3"><tspan dy="3">–</tspan><tspan class="n1" x="1069.1" dy="-2.5">1</tspan></text>
<text class="tk" text-anchor="end" x="1107.8" y="1108.2"><tspan dy="3">–</tspan><tspan dy="-3">2</tspan></text>
<text class="tk" text-anchor="middle" x="1124.2" y="1145.7">0</text>
<text class="tk" text-anchor="middle" x="1660.2" y="1145.7">2</text>
<text class="n1" x="1365.2" y="1146.2">1</text>
<text class="ax" text-anchor="middle" x="1384.5" y="1202.8">X (R<tspan class="sb" dy="21">M</tspan><tspan dy="-21">)</tspan></text>
<text class="ax" text-anchor="middle" transform="translate(1015.2 597) rotate(-90)">Z (R<tspan class="sb" dy="21">M</tspan><tspan dy="-21">)</tspan></text>
<g clip-path="url(#cfc)">
<path d="M220.2 1435.2V2407.5M275.3 1435.2V2407.5M330.4 1435.2V2407.5M385.4 1435.2V2407.5M495.5 1435.2V2407.5M550.5 1435.2V2407.5M605.6 1435.2V2407.5M660.6 1435.2V2407.5M168.6 2362.3H712.7M168.6 2313.3H712.7M168.6 2264.4H712.7M168.6 2215.4H712.7M168.6 2117.4H712.7M168.6 2068.4H712.7M168.6 2019.5H712.7M168.6 1970.5H712.7M168.6 1872.5H712.7M168.6 1823.5H712.7M168.6 1774.6H712.7M168.6 1725.6H712.7M168.6 1627.6H712.7M168.6 1578.6H712.7M168.6 1529.7H712.7M168.6 1480.7H712.7" stroke="#c2c2c2" stroke-width="2.6" stroke-dasharray="1.5 5.5" fill="none"/>
<path d="M440.4 1435.2V2407.5" stroke="#000" stroke-width="2" fill="none"/>
<path d="M168.6 2166.4H712.7M168.6 1921.5H712.7M168.6 1676.6H712.7" stroke="#000" stroke-width="3.4" fill="none"/>
<g clip-path="url(#cbc)">
<path d="M-42.9 1419.5L17.8 1443.9L73.5 1468.4L124.4 1492.9L170.8 1517.4L213 1541.9L251.3 1566.4L285.9 1590.9L317.1 1615.4L345.1 1639.9L370.1 1664.4L392.3 1688.8L411.8 1713.3L428.8 1737.8L443.5 1762.3L455.9 1786.8L466.1 1811.3L474.3 1835.8L480.4 1860.3L484.6 1884.8L486.8 1909.3L487.1 1933.7L485.4 1958.2L481.8 1982.7L476.2 2007.2L468.6 2031.7L458.8 2056.2L446.7 2080.7L432.3 2105.2L415.5 2129.7L396 2154.2L373.8 2178.6L348.6 2203.1L320.2 2227.6L288.5 2252.1L253.2 2276.6L214 2301.1L170.7 2325.6L123 2350.1L70.6 2374.6L13.2 2399.1L-49.6 2423.5H717.7V1419.5Z" fill="url(#gc0)"/>
<path d="M-17.8 1419.5L41.9 1443.9L96.6 1468.4L146.6 1492.9L192.3 1517.4L233.8 1541.9L271.5 1566.4L305.6 1590.9L336.4 1615.4L364 1639.9L388.7 1664.4L410.5 1688.8L429.8 1713.3L446.6 1737.8L461.1 1762.3L473.3 1786.8L483.4 1811.3L491.5 1835.8L497.5 1860.3L501.7 1884.8L503.8 1909.3L504.1 1933.7L502.5 1958.2L498.9 1982.7L493.4 2007.2L485.8 2031.7L476 2056.2L464.1 2080.7L449.9 2105.2L433.3 2129.7L414 2154.2L392.1 2178.6L367.2 2203.1L339.2 2227.6L308 2252.1L273.2 2276.6L234.6 2301.1L192 2325.6L145 2350.1L93.5 2374.6L37.1 2399.1L-24.6 2423.5H717.7V1419.5Z" fill="url(#gc1)"/>
<path d="M-6.4 1419.5L52.2 1443.9L105.9 1468.4L155.1 1492.9L200 1517.4L240.9 1541.9L278 1566.4L311.6 1590.9L341.9 1615.4L369.1 1639.9L393.5 1664.4L415 1688.8L434.1 1713.3L450.6 1737.8L464.9 1762.3L477 1786.8L487 1811.3L495 1835.8L500.9 1860.3L505 1884.8L507.1 1909.3L507.4 1933.7L505.8 1958.2L502.2 1982.7L496.7 2007.2L489.2 2031.7L479.6 2056.2L467.8 2080.7L453.7 2105.2L437.3 2129.7L418.3 2154.2L396.6 2178.6L372.1 2203.1L344.5 2227.6L313.7 2252.1L279.4 2276.6L241.4 2301.1L199.4 2325.6L153.3 2350.1L102.6 2374.6L47.2 2399.1L-13.4 2423.5H717.7V1419.5Z" fill="url(#gc2)"/>
<path d="M4.9 1419.5L62.5 1443.9L115.3 1468.4L163.6 1492.9L207.8 1517.4L248 1541.9L284.5 1566.4L317.6 1590.9L347.5 1615.4L374.3 1639.9L398.3 1664.4L419.5 1688.8L438.3 1713.3L454.7 1737.8L468.8 1762.3L480.7 1786.8L490.6 1811.3L498.4 1835.8L504.3 1860.3L508.3 1884.8L510.4 1909.3L510.7 1933.7L509.1 1958.2L505.5 1982.7L500.1 2007.2L492.6 2031.7L483.1 2056.2L471.4 2080.7L457.5 2105.2L441.3 2129.7L422.5 2154.2L401.1 2178.6L376.9 2203.1L349.7 2227.6L319.3 2252.1L285.6 2276.6L248.2 2301.1L206.9 2325.6L161.6 2350.1L111.8 2374.6L57.3 2399.1L-2.2 2423.5H717.7V1419.5Z" fill="url(#gc3)"/>
<path d="M16.3 1419.5L72.8 1443.9L124.6 1468.4L172.1 1492.9L215.5 1517.4L255.1 1541.9L291 1566.4L323.6 1590.9L353 1615.4L379.4 1639.9L403 1664.4L424 1688.8L442.6 1713.3L458.7 1737.8L472.6 1762.3L484.4 1786.8L494.1 1811.3L501.9 1835.8L507.7 1860.3L511.7 1884.8L513.7 1909.3L514 1933.7L512.3 1958.2L508.8 1982.7L503.4 2007.2L496 2031.7L486.6 2056.2L475.1 2080.7L461.3 2105.2L445.3 2129.7L426.8 2154.2L405.6 2178.6L381.8 2203.1L355 2227.6L325 2252.1L291.8 2276.6L255 2301.1L214.4 2325.6L169.8 2350.1L120.9 2374.6L67.4 2399.1L9.1 2423.5H717.7V1419.5Z" fill="url(#gc4)"/>
<path d="M34 1419.5L88.8 1443.9L139.2 1468.4L185.4 1492.9L227.6 1517.4L266.1 1541.9L301.1 1566.4L332.9 1590.9L361.6 1615.4L387.4 1639.9L410.5 1664.4L431.1 1688.8L449.2 1713.3L465 1737.8L478.6 1762.3L490.2 1786.8L499.7 1811.3L507.3 1835.8L513 1860.3L516.8 1884.8L518.9 1909.3L519.1 1933.7L517.5 1958.2L514 1982.7L508.6 2007.2L501.4 2031.7L492.1 2056.2L480.8 2080.7L467.3 2105.2L451.5 2129.7L433.4 2154.2L412.7 2178.6L389.3 2203.1L363.1 2227.6L333.9 2252.1L301.5 2276.6L265.6 2301.1L226.1 2325.6L182.7 2350.1L135.1 2374.6L83.2 2399.1L26.6 2423.5H717.7V1419.5Z" fill="url(#gc5)"/>
<path d="M51.7 1419.5L104.8 1443.9L153.7 1468.4L198.6 1492.9L239.6 1517.4L277.1 1541.9L311.2 1566.4L342.2 1590.9L370.2 1615.4L395.4 1639.9L418 1664.4L438.1 1688.8L455.8 1713.3L471.3 1737.8L484.6 1762.3L495.9 1786.8L505.3 1811.3L512.7 1835.8L518.3 1860.3L522 1884.8L524 1909.3L524.2 1933.7L522.6 1958.2L519.1 1982.7L513.9 2007.2L506.7 2031.7L497.6 2056.2L486.5 2080.7L473.2 2105.2L457.8 2129.7L440 2154.2L419.7 2178.6L396.9 2203.1L371.3 2227.6L342.8 2252.1L311.1 2276.6L276.2 2301.1L237.7 2325.6L195.6 2350.1L149.4 2374.6L99 2399.1L44.1 2423.5H717.7V1419.5Z" fill="url(#gc6)"/>
<path d="M69.4 1419.5L120.9 1443.9L168.3 1468.4L211.8 1492.9L251.7 1517.4L288.2 1541.9L321.4 1566.4L351.5 1590.9L378.8 1615.4L403.4 1639.9L425.5 1664.4L445.1 1688.8L462.4 1713.3L477.6 1737.8L490.6 1762.3L501.7 1786.8L510.8 1811.3L518.1 1835.8L523.6 1860.3L527.2 1884.8L529.1 1909.3L529.3 1933.7L527.7 1958.2L524.3 1982.7L519.1 2007.2L512 2031.7L503.1 2056.2L492.1 2080.7L479.2 2105.2L464 2129.7L446.6 2154.2L426.8 2178.6L404.4 2203.1L379.5 2227.6L351.6 2252.1L320.8 2276.6L286.8 2301.1L249.4 2325.6L208.4 2350.1L163.6 2374.6L114.7 2399.1L61.6 2423.5H717.7V1419.5Z" fill="url(#gc7)"/>
<path d="M87 1419.5L136.9 1443.9L182.9 1468.4L225.1 1492.9L263.8 1517.4L299.2 1541.9L331.5 1566.4L360.9 1590.9L387.5 1615.4L411.4 1639.9L432.9 1664.4L452.1 1688.8L469 1713.3L483.8 1737.8L496.6 1762.3L507.4 1786.8L516.4 1811.3L523.5 1835.8L528.8 1860.3L532.4 1884.8L534.3 1909.3L534.4 1933.7L532.8 1958.2L529.4 1982.7L524.3 2007.2L517.4 2031.7L508.6 2056.2L497.8 2080.7L485.1 2105.2L470.2 2129.7L453.2 2154.2L433.8 2178.6L412 2203.1L387.6 2227.6L360.5 2252.1L330.5 2276.6L297.4 2301.1L261.1 2325.6L221.3 2350.1L177.8 2374.6L130.5 2399.1L79.1 2423.5H717.7V1419.5Z" fill="url(#gc8)"/>
<path d="M104.7 1419.5L153 1443.9L197.4 1468.4L238.3 1492.9L275.8 1517.4L310.2 1541.9L341.6 1566.4L370.2 1590.9L396.1 1615.4L419.4 1639.9L440.4 1664.4L459.1 1688.8L475.7 1713.3L490.1 1737.8L502.6 1762.3L513.2 1786.8L522 1811.3L528.9 1835.8L534.1 1860.3L537.6 1884.8L539.4 1909.3L539.5 1933.7L537.9 1958.2L534.6 1982.7L529.5 2007.2L522.7 2031.7L514.1 2056.2L503.5 2080.7L491 2105.2L476.5 2129.7L459.8 2154.2L440.9 2178.6L419.6 2203.1L395.8 2227.6L369.4 2252.1L340.2 2276.6L308 2301.1L272.7 2325.6L234.2 2350.1L192.1 2374.6L146.3 2399.1L96.6 2423.5H717.7V1419.5Z" fill="url(#gc9)"/>
<path d="M122.4 1419.5L169 1443.9L212 1468.4L251.5 1492.9L287.9 1517.4L321.3 1541.9L351.7 1566.4L379.5 1590.9L404.7 1615.4L427.4 1639.9L447.9 1664.4L466.1 1688.8L482.3 1713.3L496.4 1737.8L508.6 1762.3L519 1786.8L527.5 1811.3L534.3 1835.8L539.4 1860.3L542.8 1884.8L544.5 1909.3L544.6 1933.7L543 1958.2L539.7 1982.7L534.8 2007.2L528.1 2031.7L519.6 2056.2L509.2 2080.7L497 2105.2L482.7 2129.7L466.4 2154.2L447.9 2178.6L427.1 2203.1L403.9 2227.6L378.2 2252.1L349.8 2276.6L318.6 2301.1L284.4 2325.6L247 2350.1L206.3 2374.6L162.1 2399.1L114.1 2423.5H717.7V1419.5Z" fill="url(#gc10)"/>
<path d="M140.1 1419.5L185 1443.9L226.5 1468.4L264.8 1492.9L300 1517.4L332.3 1541.9L361.9 1566.4L388.8 1590.9L413.3 1615.4L435.4 1639.9L455.4 1664.4L473.1 1688.8L488.9 1713.3L502.7 1737.8L514.6 1762.3L524.7 1786.8L533.1 1811.3L539.7 1835.8L544.7 1860.3L548 1884.8L549.7 1909.3L549.7 1933.7L548.1 1958.2L544.9 1982.7L540 2007.2L533.4 2031.7L525 2056.2L514.9 2080.7L502.9 2105.2L488.9 2129.7L473 2154.2L454.9 2178.6L434.7 2203.1L412.1 2227.6L387.1 2252.1L359.5 2276.6L329.2 2301.1L296.1 2325.6L259.9 2350.1L220.5 2374.6L177.8 2399.1L131.5 2423.5H717.7V1419.5Z" fill="url(#gc11)"/>
<path d="M157.8 1419.5L201.1 1443.9L241.1 1468.4L278 1492.9L312.1 1517.4L343.3 1541.9L372 1566.4L398.1 1590.9L421.9 1615.4L443.5 1639.9L462.8 1664.4L480.2 1688.8L495.5 1713.3L509 1737.8L520.6 1762.3L530.5 1786.8L538.6 1811.3L545.1 1835.8L550 1860.3L553.2 1884.8L554.8 1909.3L554.8 1933.7L553.2 1958.2L550 1982.7L545.2 2007.2L538.7 2031.7L530.5 2056.2L520.6 2080.7L508.8 2105.2L495.2 2129.7L479.6 2154.2L462 2178.6L442.2 2203.1L420.3 2227.6L395.9 2252.1L369.2 2276.6L339.8 2301.1L307.7 2325.6L272.8 2350.1L234.8 2374.6L193.6 2399.1L149 2423.5H717.7V1419.5Z" fill="url(#gc12)"/>
<path d="M175.5 1419.5L217.1 1443.9L255.6 1468.4L291.3 1492.9L324.1 1517.4L354.4 1541.9L382.1 1566.4L407.4 1590.9L430.5 1615.4L451.5 1639.9L470.3 1664.4L487.2 1688.8L502.1 1713.3L515.3 1737.8L526.6 1762.3L536.2 1786.8L544.2 1811.3L550.5 1835.8L555.2 1860.3L558.4 1884.8L559.9 1909.3L559.9 1933.7L558.4 1958.2L555.2 1982.7L550.4 2007.2L544.1 2031.7L536 2056.2L526.3 2080.7L514.8 2105.2L501.4 2129.7L486.2 2154.2L469 2178.6L449.8 2203.1L428.4 2227.6L404.8 2252.1L378.8 2276.6L350.4 2301.1L319.4 2325.6L285.6 2350.1L249 2374.6L209.4 2399.1L166.5 2423.5H717.7V1419.5Z" fill="url(#gc13)"/>
<path d="M193.2 1419.5L233.1 1443.9L270.2 1468.4L304.5 1492.9L336.2 1517.4L365.4 1541.9L392.2 1566.4L416.8 1590.9L439.2 1615.4L459.5 1639.9L477.8 1664.4L494.2 1688.8L508.8 1713.3L521.5 1737.8L532.6 1762.3L542 1786.8L549.8 1811.3L555.9 1835.8L560.5 1860.3L563.6 1884.8L565.1 1909.3L565 1933.7L563.5 1958.2L560.4 1982.7L555.7 2007.2L549.4 2031.7L541.5 2056.2L532 2080.7L520.7 2105.2L507.7 2129.7L492.8 2154.2L476.1 2178.6L457.4 2203.1L436.6 2227.6L413.7 2252.1L388.5 2276.6L361 2301.1L331 2325.6L298.5 2350.1L263.2 2374.6L225.1 2399.1L184 2423.5H717.7V1419.5Z" fill="url(#gc14)"/>
<path d="M210.9 1419.5L249.2 1443.9L284.7 1468.4L317.7 1492.9L348.3 1517.4L376.4 1541.9L402.3 1566.4L426.1 1590.9L447.8 1615.4L467.5 1639.9L485.3 1664.4L501.2 1688.8L515.4 1713.3L527.8 1737.8L538.6 1762.3L547.8 1786.8L555.3 1811.3L561.3 1835.8L565.8 1860.3L568.8 1884.8L570.2 1909.3L570.1 1933.7L568.6 1958.2L565.5 1982.7L560.9 2007.2L554.7 2031.7L547 2056.2L537.6 2080.7L526.6 2105.2L513.9 2129.7L499.4 2154.2L483.1 2178.6L464.9 2203.1L444.8 2227.6L422.5 2252.1L398.2 2276.6L371.6 2301.1L342.7 2325.6L311.4 2350.1L277.5 2374.6L240.9 2399.1L201.5 2423.5H717.7V1419.5Z" fill="url(#gc15)"/>
<path d="M228.6 1419.5L265.2 1443.9L299.3 1468.4L331 1492.9L360.3 1517.4L387.5 1541.9L412.5 1566.4L435.4 1590.9L456.4 1615.4L475.5 1639.9L492.7 1664.4L508.2 1688.8L522 1713.3L534.1 1737.8L544.6 1762.3L553.5 1786.8L560.9 1811.3L566.7 1835.8L571.1 1860.3L573.9 1884.8L575.3 1909.3L575.3 1933.7L573.7 1958.2L570.7 1982.7L566.1 2007.2L560.1 2031.7L552.5 2056.2L543.3 2080.7L532.6 2105.2L520.1 2129.7L506 2154.2L490.2 2178.6L472.5 2203.1L452.9 2227.6L431.4 2252.1L407.9 2276.6L382.2 2301.1L354.4 2325.6L324.2 2350.1L291.7 2374.6L256.7 2399.1L219 2423.5H717.7V1419.5Z" fill="url(#gc16)"/>
<path d="M246.3 1419.5L281.2 1443.9L313.9 1468.4L344.2 1492.9L372.4 1517.4L398.5 1541.9L422.6 1566.4L444.7 1590.9L465 1615.4L483.5 1639.9L500.2 1664.4L515.2 1688.8L528.6 1713.3L540.4 1737.8L550.6 1762.3L559.3 1786.8L566.4 1811.3L572.1 1835.8L576.4 1860.3L579.1 1884.8L580.5 1909.3L580.4 1933.7L578.8 1958.2L575.8 1982.7L571.3 2007.2L565.4 2031.7L558 2056.2L549 2080.7L538.5 2105.2L526.4 2129.7L512.6 2154.2L497.2 2178.6L480 2203.1L461.1 2227.6L440.3 2252.1L417.5 2276.6L392.8 2301.1L366 2325.6L337.1 2350.1L305.9 2374.6L272.4 2399.1L236.5 2423.5H717.7V1419.5Z" fill="url(#gc17)"/>
<path d="M264 1419.5L297.3 1443.9L328.4 1468.4L357.4 1492.9L384.5 1517.4L409.5 1541.9L432.7 1566.4L454 1590.9L473.6 1615.4L491.5 1639.9L507.7 1664.4L522.2 1688.8L535.2 1713.3L546.7 1737.8L556.6 1762.3L565 1786.8L572 1811.3L577.5 1835.8L581.6 1860.3L584.3 1884.8L585.6 1909.3L585.5 1933.7L583.9 1958.2L581 1982.7L576.6 2007.2L570.7 2031.7L563.5 2056.2L554.7 2080.7L544.4 2105.2L532.6 2129.7L519.2 2154.2L504.2 2178.6L487.6 2203.1L469.2 2227.6L449.1 2252.1L427.2 2276.6L403.4 2301.1L377.7 2325.6L350 2350.1L320.2 2374.6L288.2 2399.1L254 2423.5H717.7V1419.5Z" fill="url(#gc18)"/>
<path d="M281.7 1419.5L313.3 1443.9L343 1468.4L370.7 1492.9L396.5 1517.4L420.6 1541.9L442.8 1566.4L463.4 1590.9L482.2 1615.4L499.5 1639.9L515.1 1664.4L529.3 1688.8L541.8 1713.3L553 1737.8L562.6 1762.3L570.8 1786.8L577.6 1811.3L582.9 1835.8L586.9 1860.3L589.5 1884.8L590.7 1909.3L590.6 1933.7L589 1958.2L586.1 1982.7L581.8 2007.2L576.1 2031.7L569 2056.2L560.4 2080.7L550.4 2105.2L538.9 2129.7L525.8 2154.2L511.3 2178.6L495.1 2203.1L477.4 2227.6L458 2252.1L436.9 2276.6L414 2301.1L389.4 2325.6L362.8 2350.1L334.4 2374.6L304 2399.1L271.5 2423.5H717.7V1419.5Z" fill="url(#gc19)"/>
<path d="M299.4 1419.5L329.4 1443.9L357.5 1468.4L383.9 1492.9L408.6 1517.4L431.6 1541.9L452.9 1566.4L472.7 1590.9L490.8 1615.4L507.5 1639.9L522.6 1664.4L536.3 1688.8L548.5 1713.3L559.2 1737.8L568.6 1762.3L576.6 1786.8L583.1 1811.3L588.3 1835.8L592.2 1860.3L594.7 1884.8L595.9 1909.3L595.7 1933.7L594.1 1958.2L591.3 1982.7L587 2007.2L581.4 2031.7L574.4 2056.2L566.1 2080.7L556.3 2105.2L545.1 2129.7L532.4 2154.2L518.3 2178.6L502.7 2203.1L485.6 2227.6L466.9 2252.1L446.6 2276.6L424.6 2301.1L401 2325.6L375.7 2350.1L348.6 2374.6L319.7 2399.1L289 2423.5H717.7V1419.5Z" fill="url(#gc20)"/>
<path d="M317.1 1419.5L345.4 1443.9L372.1 1468.4L397.2 1492.9L420.7 1517.4L442.6 1541.9L463.1 1566.4L482 1590.9L499.5 1615.4L515.5 1639.9L530.1 1664.4L543.3 1688.8L555.1 1713.3L565.5 1737.8L574.6 1762.3L582.3 1786.8L588.7 1811.3L593.8 1835.8L597.5 1860.3L599.9 1884.8L601 1909.3L600.8 1933.7L599.3 1958.2L596.4 1982.7L592.2 2007.2L586.8 2031.7L579.9 2056.2L571.8 2080.7L562.2 2105.2L551.3 2129.7L539.1 2154.2L525.4 2178.6L510.3 2203.1L493.7 2227.6L475.7 2252.1L456.2 2276.6L435.2 2301.1L412.7 2325.6L388.6 2350.1L362.9 2374.6L335.5 2399.1L306.5 2423.5H717.7V1419.5Z" fill="url(#gc21)"/>
<path d="M334.7 1419.5L361.4 1443.9L386.6 1468.4L410.4 1492.9L432.7 1517.4L453.7 1541.9L473.2 1566.4L491.3 1590.9L508.1 1615.4L523.5 1639.9L537.6 1664.4L550.3 1688.8L561.7 1713.3L571.8 1737.8L580.6 1762.3L588.1 1786.8L594.3 1811.3L599.2 1835.8L602.8 1860.3L605.1 1884.8L606.1 1909.3L605.9 1933.7L604.4 1958.2L601.6 1982.7L597.5 2007.2L592.1 2031.7L585.4 2056.2L577.4 2080.7L568.2 2105.2L557.6 2129.7L545.7 2154.2L532.4 2178.6L517.8 2203.1L501.9 2227.6L484.6 2252.1L465.9 2276.6L445.8 2301.1L424.3 2325.6L401.4 2350.1L377.1 2374.6L351.3 2399.1L324 2423.5H717.7V1419.5Z" fill="url(#gc22)"/>
<path d="M352.4 1419.5L377.5 1443.9L401.2 1468.4L423.6 1492.9L444.8 1517.4L464.7 1541.9L483.3 1566.4L500.6 1590.9L516.7 1615.4L531.5 1639.9L545 1664.4L557.3 1688.8L568.3 1713.3L578.1 1737.8L586.6 1762.3L593.8 1786.8L599.8 1811.3L604.6 1835.8L608 1860.3L610.3 1884.8L611.3 1909.3L611 1933.7L609.5 1958.2L606.7 1982.7L602.7 2007.2L597.4 2031.7L590.9 2056.2L583.1 2080.7L574.1 2105.2L563.8 2129.7L552.3 2154.2L539.5 2178.6L525.4 2203.1L510 2227.6L493.4 2252.1L475.6 2276.6L456.4 2301.1L436 2325.6L414.3 2350.1L391.3 2374.6L367.1 2399.1L341.5 2423.5H717.7V1419.5Z" fill="url(#gc23)"/>
<path d="M358.5 1419.5L382.9 1443.9L406.2 1468.4L428.2 1492.9L448.9 1517.4L468.5 1541.9L486.8 1566.4L503.8 1590.9L519.6 1615.4L534.2 1639.9L547.6 1664.4L559.7 1688.8L570.6 1713.3L580.2 1737.8L588.6 1762.3L595.8 1786.8L601.7 1811.3L606.4 1835.8L609.9 1860.3L612.1 1884.8L613 1909.3L612.7 1933.7L611.2 1958.2L608.5 1982.7L604.5 2007.2L599.3 2031.7L592.8 2056.2L585.1 2080.7L576.1 2105.2L565.9 2129.7L554.5 2154.2L541.9 2178.6L528 2203.1L512.8 2227.6L496.5 2252.1L478.9 2276.6L460.1 2301.1L440 2325.6L418.7 2350.1L396.2 2374.6L372.5 2399.1L347.5 2423.5H717.7V1419.5Z" fill="url(#gc24)"/>
<path d="M364.6 1419.5L388.4 1443.9L411.2 1468.4L432.7 1492.9L453.1 1517.4L472.2 1541.9L490.2 1566.4L507 1590.9L522.6 1615.4L537 1639.9L550.2 1664.4L562.1 1688.8L572.9 1713.3L582.4 1737.8L590.7 1762.3L597.8 1786.8L603.6 1811.3L608.3 1835.8L611.7 1860.3L613.8 1884.8L614.8 1909.3L614.5 1933.7L613 1958.2L610.2 1982.7L606.3 2007.2L601.1 2031.7L594.7 2056.2L587 2080.7L578.2 2105.2L568.1 2129.7L556.8 2154.2L544.3 2178.6L530.6 2203.1L515.6 2227.6L499.5 2252.1L482.2 2276.6L463.7 2301.1L444 2325.6L423.1 2350.1L401.1 2374.6L377.9 2399.1L353.5 2423.5H717.7V1419.5Z" fill="url(#gc25)"/>
<path d="M370.6 1419.5L393.9 1443.9L416.1 1468.4L437.2 1492.9L457.2 1517.4L476 1541.9L493.7 1566.4L510.2 1590.9L525.5 1615.4L539.7 1639.9L552.7 1664.4L564.5 1688.8L575.1 1713.3L584.5 1737.8L592.7 1762.3L599.7 1786.8L605.5 1811.3L610.1 1835.8L613.5 1860.3L615.6 1884.8L616.5 1909.3L616.2 1933.7L614.7 1958.2L612 1982.7L608.1 2007.2L602.9 2031.7L596.5 2056.2L589 2080.7L580.2 2105.2L570.2 2129.7L559 2154.2L546.7 2178.6L533.1 2203.1L518.4 2227.6L502.6 2252.1L485.5 2276.6L467.3 2301.1L448 2325.6L427.5 2350.1L405.9 2374.6L383.3 2399.1L359.5 2423.5H717.7V1419.5Z" fill="url(#gc26)"/>
<path d="M376.7 1419.5L399.4 1443.9L421.1 1468.4L441.8 1492.9L461.3 1517.4L479.8 1541.9L497.2 1566.4L513.4 1590.9L528.5 1615.4L542.5 1639.9L555.3 1664.4L566.9 1688.8L577.4 1713.3L586.7 1737.8L594.8 1762.3L601.7 1786.8L607.4 1811.3L612 1835.8L615.3 1860.3L617.4 1884.8L618.3 1909.3L618 1933.7L616.5 1958.2L613.8 1982.7L609.9 2007.2L604.7 2031.7L598.4 2056.2L590.9 2080.7L582.2 2105.2L572.4 2129.7L561.3 2154.2L549.1 2178.6L535.7 2203.1L521.2 2227.6L505.6 2252.1L488.8 2276.6L471 2301.1L452 2325.6L431.9 2350.1L410.8 2374.6L388.7 2399.1L365.5 2423.5H717.7V1419.5Z" fill="url(#gc27)"/>
<path d="M382.7 1419.5L404.9 1443.9L426.1 1468.4L446.3 1492.9L465.5 1517.4L483.6 1541.9L500.6 1566.4L516.6 1590.9L531.4 1615.4L545.2 1639.9L557.8 1664.4L569.3 1688.8L579.7 1713.3L588.8 1737.8L596.8 1762.3L603.7 1786.8L609.3 1811.3L613.8 1835.8L617.1 1860.3L619.2 1884.8L620.1 1909.3L619.7 1933.7L618.2 1958.2L615.5 1982.7L611.6 2007.2L606.6 2031.7L600.3 2056.2L592.9 2080.7L584.3 2105.2L574.5 2129.7L563.6 2154.2L551.5 2178.6L538.3 2203.1L524 2227.6L508.6 2252.1L492.1 2276.6L474.6 2301.1L456 2325.6L436.3 2350.1L415.7 2374.6L394.1 2399.1L371.4 2423.5H717.7V1419.5Z" fill="url(#gc28)"/>
<path d="M388.8 1419.5L410.4 1443.9L431.1 1468.4L450.8 1492.9L469.6 1517.4L487.3 1541.9L504.1 1566.4L519.8 1590.9L534.4 1615.4L547.9 1639.9L560.4 1664.4L571.7 1688.8L581.9 1713.3L591 1737.8L598.9 1762.3L605.7 1786.8L611.2 1811.3L615.7 1835.8L618.9 1860.3L620.9 1884.8L621.8 1909.3L621.5 1933.7L620 1958.2L617.3 1982.7L613.4 2007.2L608.4 2031.7L602.2 2056.2L594.8 2080.7L586.3 2105.2L576.6 2129.7L565.8 2154.2L553.9 2178.6L540.9 2203.1L526.8 2227.6L511.7 2252.1L495.4 2276.6L478.2 2301.1L460 2325.6L440.7 2350.1L420.6 2374.6L399.5 2399.1L377.4 2423.5H717.7V1419.5Z" fill="url(#gc29)"/>
<path d="M394.8 1419.5L415.9 1443.9L436.1 1468.4L455.4 1492.9L473.7 1517.4L491.1 1541.9L507.5 1566.4L523 1590.9L537.3 1615.4L550.7 1639.9L562.9 1664.4L574.1 1688.8L584.2 1713.3L593.1 1737.8L601 1762.3L607.6 1786.8L613.1 1811.3L617.5 1835.8L620.7 1860.3L622.7 1884.8L623.6 1909.3L623.2 1933.7L621.7 1958.2L619.1 1982.7L615.2 2007.2L610.2 2031.7L604.1 2056.2L596.8 2080.7L588.3 2105.2L578.8 2129.7L568.1 2154.2L556.3 2178.6L543.5 2203.1L529.6 2227.6L514.7 2252.1L498.8 2276.6L481.8 2301.1L464 2325.6L445.1 2350.1L425.4 2374.6L404.8 2399.1L383.4 2423.5H717.7V1419.5Z" fill="url(#gc30)"/>
<path d="M400.9 1419.5L421.4 1443.9L441.1 1468.4L459.9 1492.9L477.9 1517.4L494.9 1541.9L511 1566.4L526.2 1590.9L540.3 1615.4L553.4 1639.9L565.5 1664.4L576.5 1688.8L586.5 1713.3L595.3 1737.8L603 1762.3L609.6 1786.8L615.1 1811.3L619.4 1835.8L622.5 1860.3L624.5 1884.8L625.3 1909.3L625 1933.7L623.5 1958.2L620.8 1982.7L617 2007.2L612 2031.7L605.9 2056.2L598.7 2080.7L590.3 2105.2L580.9 2129.7L570.4 2154.2L558.7 2178.6L546.1 2203.1L532.4 2227.6L517.7 2252.1L502.1 2276.6L485.5 2301.1L468 2325.6L449.6 2350.1L430.3 2374.6L410.2 2399.1L389.4 2423.5H717.7V1419.5Z" fill="url(#gc31)"/>
<path d="M407 1419.5L426.9 1443.9L446 1468.4L464.4 1492.9L482 1517.4L498.7 1541.9L514.5 1566.4L529.3 1590.9L543.2 1615.4L556.2 1639.9L568.1 1664.4L578.9 1688.8L588.7 1713.3L597.4 1737.8L605.1 1762.3L611.6 1786.8L617 1811.3L621.2 1835.8L624.3 1860.3L626.3 1884.8L627.1 1909.3L626.7 1933.7L625.2 1958.2L622.6 1982.7L618.8 2007.2L613.9 2031.7L607.8 2056.2L600.6 2080.7L592.4 2105.2L583 2129.7L572.6 2154.2L561.2 2178.6L548.7 2203.1L535.2 2227.6L520.8 2252.1L505.4 2276.6L489.1 2301.1L471.9 2325.6L454 2350.1L435.2 2374.6L415.6 2399.1L395.4 2423.5H717.7V1419.5Z" fill="url(#gc32)"/>
<path d="M413 1419.5L432.4 1443.9L451 1468.4L469 1492.9L486.1 1517.4L502.5 1541.9L517.9 1566.4L532.5 1590.9L546.2 1615.4L558.9 1639.9L570.6 1664.4L581.3 1688.8L591 1713.3L599.6 1737.8L607.1 1762.3L613.5 1786.8L618.9 1811.3L623.1 1835.8L626.1 1860.3L628.1 1884.8L628.8 1909.3L628.5 1933.7L627 1958.2L624.4 1982.7L620.6 2007.2L615.7 2031.7L609.7 2056.2L602.6 2080.7L594.4 2105.2L585.2 2129.7L574.9 2154.2L563.6 2178.6L551.3 2203.1L538 2227.6L523.8 2252.1L508.7 2276.6L492.7 2301.1L475.9 2325.6L458.4 2350.1L440.1 2374.6L421 2399.1L401.4 2423.5H717.7V1419.5Z" fill="url(#gc33)"/>
<path d="M419.1 1419.5L437.8 1443.9L456 1468.4L473.5 1492.9L490.2 1517.4L506.2 1541.9L521.4 1566.4L535.7 1590.9L549.1 1615.4L561.6 1639.9L573.2 1664.4L583.7 1688.8L593.3 1713.3L601.7 1737.8L609.2 1762.3L615.5 1786.8L620.8 1811.3L624.9 1835.8L627.9 1860.3L629.8 1884.8L630.6 1909.3L630.2 1933.7L628.7 1958.2L626.1 1982.7L622.4 2007.2L617.5 2031.7L611.6 2056.2L604.5 2080.7L596.4 2105.2L587.3 2129.7L577.1 2154.2L566 2178.6L553.8 2203.1L540.8 2227.6L526.8 2252.1L512 2276.6L496.4 2301.1L479.9 2325.6L462.8 2350.1L444.9 2374.6L426.4 2399.1L407.4 2423.5H717.7V1419.5Z" fill="url(#gc34)"/>
</g>
<path d="M247.2 1477.6L215.9 1454.3M337.3 1478.2L310.4 1452.3M412.9 1483.2L386.5 1454.4M472.1 1489.9L447.7 1458.8M191.6 1518.2L155.4 1502.7M246.5 1550.8L212.8 1532.8M336.4 1555.4L306.5 1530.3M407.9 1552.1L381.5 1522.2M498.7 1560.8L476.6 1529.5M343 1622L312.1 1598.3M417.9 1627.3L391.9 1599M492.1 1627.3L470.7 1596.2M561 1644.6L537.6 1615.2M417.8 1702L394.9 1671.9M454.1 1750.1L433.6 1717.1M496.9 1700.9L478.2 1667.9M578.2 1697.7L554.6 1666.6M495.4 1774.3L479.5 1739.5M577.1 1777.9L563.9 1741.7M494.3 1843.6L484.5 1806.9M577.1 1846.4L569.4 1811M627 1850.7L603.6 1820.5M502.2 1921.3L501.6 1883.2M578.2 1920.8L574.6 1883.1M628.4 1921.3L604.1 1890.3M493.7 1998L502.2 1961.5M576.5 1994.8L578.2 1956.8M622 2003.4L596.9 1970.1M495.8 2068.6L510.9 2034M577.1 2063.7L578.4 2027M452 2093.2L471.4 2060.4M498 2141.4L510.7 2108.1M578.2 2145.6L556.8 2113.6M419.9 2142L440.5 2115.4M490.5 2215.2L501 2177.9M551.4 2209.8L528.5 2179.7M415.6 2215.2L438.6 2184.7M342.3 2220.4L371.5 2197.1M335.4 2287L361.1 2260.8M406.2 2290.6L422.1 2256.5M498.7 2282L483.1 2246.7M244.8 2293L278.1 2274.6M189.3 2324.6L223 2309.4M245.8 2365.2L271.8 2337.2M335.7 2363.8L350.6 2329.9M411.2 2359.5L415.9 2322.4M464.5 2342.9L442.2 2312.9M153.3 2367.8L188.7 2349.1M150.4 2429.1L178 2401.4M234.5 2437L252.7 2402.4M328 2443.7L328 2404.5M404.6 2427.7L372.6 2405" stroke="#000" stroke-width="5.2" fill="none"/>
<path d="M196.6 1440L223.4 1447.5L211.5 1463.5ZM293.1 1435.6L318.8 1446.5L304.9 1460.9ZM370.3 1436.6L395.2 1449.1L380.5 1462.6ZM432.8 1440L456.8 1454.2L441.1 1466.6ZM133.4 1493.2L161.2 1494.3L153.3 1512.6ZM191.6 1521.5L219.3 1524.9L209.8 1542.6ZM288.1 1514.8L314.4 1523.9L301.6 1539.2ZM365.6 1504.2L390.3 1517.1L375.3 1530.3ZM462.8 1509.8L486 1525.3L469.6 1536.9ZM293.1 1583.7L319.8 1591.6L307.6 1607.5ZM375.6 1581.4L400.6 1593.7L385.9 1607.3ZM457.1 1576.4L480.1 1592.2L463.6 1603.5ZM522.7 1596.4L546.7 1610.5L531 1622.9ZM380.3 1652.8L404 1667.4L388.1 1679.6ZM421 1696.7L443.2 1713.5L426.2 1724ZM466.3 1647L487.8 1664.7L470.4 1674.6ZM540.1 1647.5L563.8 1662.1L547.8 1674.2ZM469.5 1717.6L489.4 1737.1L471.2 1745.4ZM555.7 1719.1L574 1740.1L555.2 1747ZM478.3 1783.7L494.7 1806.2L475.4 1811.4ZM564.3 1787.6L579.6 1810.8L560.1 1815.1ZM588.9 1801.5L612.7 1815.9L596.9 1828.2ZM501.2 1859.2L511.6 1885L491.6 1885.4ZM572.4 1859.2L584.8 1884.2L564.9 1886ZM589.3 1871.4L613.2 1885.7L597.5 1898ZM507.6 1938.2L511.5 1965.7L492 1961.2ZM579.3 1932.8L588.1 1959.2L568.1 1958.3ZM582.5 1951L606.1 1965.7L590.1 1977.8ZM520.4 2012L519.3 2039.8L500.9 2031.8ZM579.3 2003L588.3 2029.3L568.3 2028.6ZM483.6 2039.8L479 2067.2L461.8 2057ZM519.4 2085.7L519.4 2113.6L500.7 2106.4ZM543.5 2093.7L566.3 2109.7L549.6 2120.8ZM455.2 2096.4L447.2 2123.1L431.4 2110.9ZM507.6 2154.8L510.1 2182.6L490.9 2177.1ZM514 2160.6L537.7 2175.3L521.8 2187.4ZM453 2165.5L445.4 2192.3L429.4 2180.3ZM390.3 2182.2L376.2 2206.2L363.7 2190.6ZM377.9 2243.7L366.8 2269.3L352.6 2255.2ZM432.2 2234.7L430.3 2262.5L412.2 2254.1ZM473.4 2224.8L493.1 2244.5L474.8 2252.6ZM299.1 2263L281.2 2284.3L271.5 2266.8ZM244.8 2299.6L225.2 2319.4L217 2301.1ZM288.1 2319.6L277.8 2345.4L263.1 2331.9ZM360.3 2307.9L359 2335.8L340.7 2327.7ZM418.9 2298.6L425.6 2325.7L405.7 2323.2ZM427.9 2293.6L451.4 2308.5L435.3 2320.5ZM209.9 2337.9L191.6 2358.9L182.3 2341.2ZM194.9 2384.5L183.6 2409.9L169.5 2395.8ZM263.8 2381.1L260.6 2408.8L242.9 2399.5ZM328 2380.5L338 2406.5L318 2406.5ZM353 2391.1L380 2398L368.4 2414.3Z" fill="#000"/>
<path d="M168.6 2362.3h14.5M168.6 2313.3h14.5M168.6 2264.4h14.5M168.6 2215.4h14.5M168.6 2117.4h14.5M168.6 2068.4h14.5M168.6 2019.5h14.5M168.6 1970.5h14.5M168.6 1872.5h14.5M168.6 1823.5h14.5M168.6 1774.6h14.5M168.6 1725.6h14.5M168.6 1627.6h14.5M168.6 1578.6h14.5M168.6 1529.7h14.5M168.6 1480.7h14.5M220.2 2407.5v-14M275.3 2407.5v-14M330.4 2407.5v-14M385.4 2407.5v-14M495.5 2407.5v-14M550.5 2407.5v-14M605.6 2407.5v-14M660.6 2407.5v-14" stroke="#000" stroke-width="3.2" fill="none"/>
<path d="M168.6 2166.4h24.5M168.6 1921.5h24.5M168.6 1676.6h24.5M440.4 2407.5v-24" stroke="#000" stroke-width="6.6" fill="none"/>
</g>
<path fill-rule="evenodd" fill="#000" d="M162 1427.1H719.4V2414.2H162ZM168.6 1435.2H712.7V2407.5H168.6Z"/>
<text class="pt" x="164.3" y="1403.9">(c) Z=0</text>
<text class="tk" text-anchor="end" x="148" y="1454">2</text>
<text class="tk" text-anchor="end" x="148" y="1943.8">0</text>
<text class="n1" x="108.8" y="1699.4">1</text>
<text class="tk" x="86.1" y="2188.7"><tspan dy="3">–</tspan><tspan class="n1" x="124.6" dy="-2.5">1</tspan></text>
<text class="tk" text-anchor="end" x="163.3" y="2433.6"><tspan dy="3">–</tspan><tspan dy="-3">2</tspan></text>
<text class="tk" text-anchor="middle" x="179.7" y="2471.1">0</text>
<text class="tk" text-anchor="middle" x="715.7" y="2471.1">2</text>
<text class="n1" x="420.7" y="2471.6">1</text>
<text class="ax" text-anchor="middle" x="439.9" y="2528.2">X (R<tspan class="sb" dy="21">M</tspan><tspan dy="-21">)</tspan></text>
<text class="ax" text-anchor="middle" transform="translate(70.7 1922.4) rotate(-90)">Y (R<tspan class="sb" dy="21">M</tspan><tspan dy="-21">)</tspan></text>
<g clip-path="url(#cfd)">
<path d="M1164.8 1435.2V2407.5M1219.8 1435.2V2407.5M1274.9 1435.2V2407.5M1329.9 1435.2V2407.5M1440 1435.2V2407.5M1495.1 1435.2V2407.5M1550.1 1435.2V2407.5M1605.2 1435.2V2407.5M1113.1 2362.3H1657.2M1113.1 2313.3H1657.2M1113.1 2264.4H1657.2M1113.1 2215.4H1657.2M1113.1 2117.4H1657.2M1113.1 2068.4H1657.2M1113.1 2019.5H1657.2M1113.1 1970.5H1657.2M1113.1 1872.5H1657.2M1113.1 1823.5H1657.2M1113.1 1774.6H1657.2M1113.1 1725.6H1657.2M1113.1 1627.6H1657.2M1113.1 1578.6H1657.2M1113.1 1529.7H1657.2M1113.1 1480.7H1657.2" stroke="#c2c2c2" stroke-width="2.6" stroke-dasharray="1.5 5.5" fill="none"/>
<path d="M1385 1435.2V2407.5" stroke="#000" stroke-width="2" fill="none"/>
<path d="M1113.1 2166.4H1657.2M1113.1 1921.5H1657.2M1113.1 1676.6H1657.2" stroke="#000" stroke-width="3.4" fill="none"/>
<g clip-path="url(#cbd)">
<path d="M710.8 1419.5L799.8 1443.9L880.5 1468.4L953.4 1492.9L1019.1 1517.4L1078.1 1541.9L1130.9 1566.4L1177.9 1590.9L1219.6 1615.4L1256.4 1639.9L1288.6 1664.4L1316.8 1688.8L1341.1 1713.3L1361.9 1737.8L1379.5 1762.3L1394.1 1786.8L1406 1811.3L1415.4 1835.8L1422.5 1860.3L1427.5 1884.8L1430.4 1909.3L1431.4 1933.7L1430.7 1958.2L1428.1 1982.7L1423.9 2007.2L1417.9 2031.7L1410.2 2056.2L1400.8 2080.7L1389.5 2105.2L1376.3 2129.7L1361.2 2154.2L1343.8 2178.6L1324.1 2203.1L1301.9 2227.6L1277 2252.1L1249.1 2276.6L1218 2301.1L1183.3 2325.6L1144.8 2350.1L1102.2 2374.6L1055 2399.1L1002.8 2423.5H1662.2V1419.5Z" fill="url(#gd0)"/>
<path d="M740.5 1419.5L827.8 1443.9L907 1468.4L978.5 1492.9L1043 1517.4L1100.9 1541.9L1152.8 1566.4L1199 1590.9L1240 1615.4L1276.1 1639.9L1307.9 1664.4L1335.6 1688.8L1359.5 1713.3L1380 1737.8L1397.3 1762.3L1411.7 1786.8L1423.5 1811.3L1432.8 1835.8L1439.8 1860.3L1444.6 1884.8L1447.5 1909.3L1448.5 1933.7L1447.7 1958.2L1445.2 1982.7L1440.9 2007.2L1435 2031.7L1427.4 2056.2L1418 2080.7L1406.9 2105.2L1393.8 2129.7L1378.8 2154.2L1361.6 2178.6L1342.2 2203.1L1320.2 2227.6L1295.6 2252.1L1268.1 2276.6L1237.5 2301.1L1203.3 2325.6L1165.4 2350.1L1123.5 2374.6L1077.1 2399.1L1025.9 2423.5H1662.2V1419.5Z" fill="url(#gd1)"/>
<path d="M756.6 1419.5L842.1 1443.9L919.7 1468.4L989.9 1492.9L1053.2 1517.4L1110 1541.9L1160.9 1566.4L1206.3 1590.9L1246.6 1615.4L1282.1 1639.9L1313.4 1664.4L1340.6 1688.8L1364.2 1713.3L1384.3 1737.8L1401.4 1762.3L1415.6 1786.8L1427.2 1811.3L1436.3 1835.8L1443.2 1860.3L1448 1884.8L1450.8 1909.3L1451.8 1933.7L1451 1958.2L1448.4 1982.7L1444.2 2007.2L1438.3 2031.7L1430.8 2056.2L1421.5 2080.7L1410.4 2105.2L1397.5 2129.7L1382.7 2154.2L1365.7 2178.6L1346.5 2203.1L1324.8 2227.6L1300.5 2252.1L1273.4 2276.6L1243.2 2301.1L1209.6 2325.6L1172.3 2350.1L1131 2374.6L1085.4 2399.1L1035.1 2423.5H1662.2V1419.5Z" fill="url(#gd2)"/>
<path d="M772.6 1419.5L856.4 1443.9L932.4 1468.4L1001.2 1492.9L1063.3 1517.4L1119.1 1541.9L1169.1 1566.4L1213.6 1590.9L1253.2 1615.4L1288.2 1639.9L1318.9 1664.4L1345.6 1688.8L1368.8 1713.3L1388.7 1737.8L1405.5 1762.3L1419.5 1786.8L1430.9 1811.3L1439.9 1835.8L1446.7 1860.3L1451.4 1884.8L1454.1 1909.3L1455.1 1933.7L1454.2 1958.2L1451.7 1982.7L1447.5 2007.2L1441.7 2031.7L1434.2 2056.2L1425 2080.7L1414 2105.2L1401.2 2129.7L1386.5 2154.2L1369.7 2178.6L1350.8 2203.1L1329.4 2227.6L1305.4 2252.1L1278.7 2276.6L1248.9 2301.1L1215.8 2325.6L1179.2 2350.1L1138.6 2374.6L1093.8 2399.1L1044.4 2423.5H1662.2V1419.5Z" fill="url(#gd3)"/>
<path d="M788.6 1419.5L870.7 1443.9L945.2 1468.4L1012.6 1492.9L1073.5 1517.4L1128.2 1541.9L1177.2 1566.4L1221 1590.9L1259.8 1615.4L1294.2 1639.9L1324.3 1664.4L1350.7 1688.8L1373.5 1713.3L1393 1737.8L1409.6 1762.3L1423.3 1786.8L1434.6 1811.3L1443.4 1835.8L1450.1 1860.3L1454.8 1884.8L1457.5 1909.3L1458.4 1933.7L1457.5 1958.2L1455 1982.7L1450.8 2007.2L1445 2031.7L1437.6 2056.2L1428.5 2080.7L1417.6 2105.2L1405 2129.7L1390.4 2154.2L1373.8 2178.6L1355 2203.1L1333.9 2227.6L1310.3 2252.1L1284 2276.6L1254.6 2301.1L1222.1 2325.6L1186 2350.1L1146.1 2374.6L1102.2 2399.1L1053.7 2423.5H1662.2V1419.5Z" fill="url(#gd4)"/>
<path d="M813.6 1419.5L892.9 1443.9L965 1468.4L1030.3 1492.9L1089.3 1517.4L1142.3 1541.9L1189.9 1566.4L1232.4 1590.9L1270.1 1615.4L1303.5 1639.9L1332.9 1664.4L1358.5 1688.8L1380.8 1713.3L1399.8 1737.8L1415.9 1762.3L1429.4 1786.8L1440.3 1811.3L1449 1835.8L1455.5 1860.3L1460 1884.8L1462.6 1909.3L1463.5 1933.7L1462.6 1958.2L1460.1 1982.7L1456 2007.2L1450.2 2031.7L1442.9 2056.2L1433.9 2080.7L1423.2 2105.2L1410.7 2129.7L1396.4 2154.2L1380.1 2178.6L1361.7 2203.1L1341.1 2227.6L1317.9 2252.1L1292.2 2276.6L1263.5 2301.1L1231.8 2325.6L1196.7 2350.1L1157.9 2374.6L1115.2 2399.1L1068.1 2423.5H1662.2V1419.5Z" fill="url(#gd5)"/>
<path d="M838.5 1419.5L915.2 1443.9L984.9 1468.4L1048 1492.9L1105.1 1517.4L1156.5 1541.9L1202.6 1566.4L1243.8 1590.9L1280.4 1615.4L1312.9 1639.9L1341.4 1664.4L1366.4 1688.8L1388 1713.3L1406.6 1737.8L1422.3 1762.3L1435.4 1786.8L1446.1 1811.3L1454.5 1835.8L1460.9 1860.3L1465.3 1884.8L1467.8 1909.3L1468.6 1933.7L1467.7 1958.2L1465.2 1982.7L1461.1 2007.2L1455.4 2031.7L1448.2 2056.2L1439.3 2080.7L1428.8 2105.2L1416.5 2129.7L1402.5 2154.2L1386.5 2178.6L1368.4 2203.1L1348.2 2227.6L1325.6 2252.1L1300.4 2276.6L1272.5 2301.1L1241.5 2325.6L1207.4 2350.1L1169.7 2374.6L1128.2 2399.1L1082.6 2423.5H1662.2V1419.5Z" fill="url(#gd6)"/>
<path d="M863.5 1419.5L937.4 1443.9L1004.7 1468.4L1065.7 1492.9L1120.9 1517.4L1170.6 1541.9L1215.3 1566.4L1255.2 1590.9L1290.8 1615.4L1322.3 1639.9L1350 1664.4L1374.2 1688.8L1395.3 1713.3L1413.4 1737.8L1428.7 1762.3L1441.5 1786.8L1451.9 1811.3L1460.1 1835.8L1466.3 1860.3L1470.5 1884.8L1473 1909.3L1473.7 1933.7L1472.8 1958.2L1470.3 1982.7L1466.3 2007.2L1460.7 2031.7L1453.5 2056.2L1444.7 2080.7L1434.4 2105.2L1422.3 2129.7L1408.5 2154.2L1392.8 2178.6L1375.1 2203.1L1355.3 2227.6L1333.2 2252.1L1308.6 2276.6L1281.4 2301.1L1251.3 2325.6L1218 2350.1L1181.4 2374.6L1141.2 2399.1L1097 2423.5H1662.2V1419.5Z" fill="url(#gd7)"/>
<path d="M888.4 1419.5L959.7 1443.9L1024.6 1468.4L1083.5 1492.9L1136.7 1517.4L1184.8 1541.9L1228 1566.4L1266.6 1590.9L1301.1 1615.4L1331.6 1639.9L1358.5 1664.4L1382.1 1688.8L1402.6 1713.3L1420.1 1737.8L1435 1762.3L1447.5 1786.8L1457.6 1811.3L1465.6 1835.8L1471.7 1860.3L1475.8 1884.8L1478.2 1909.3L1478.9 1933.7L1477.9 1958.2L1475.4 1982.7L1471.4 2007.2L1465.9 2031.7L1458.8 2056.2L1450.2 2080.7L1439.9 2105.2L1428.1 2129.7L1414.5 2154.2L1399.1 2178.6L1381.8 2203.1L1362.4 2227.6L1340.8 2252.1L1316.8 2276.6L1290.3 2301.1L1261 2325.6L1228.7 2350.1L1193.2 2374.6L1154.2 2399.1L1111.5 2423.5H1662.2V1419.5Z" fill="url(#gd8)"/>
<path d="M913.4 1419.5L982 1443.9L1044.4 1468.4L1101.2 1492.9L1152.6 1517.4L1198.9 1541.9L1240.7 1566.4L1278.1 1590.9L1311.4 1615.4L1341 1639.9L1367.1 1664.4L1390 1688.8L1409.8 1713.3L1426.9 1737.8L1441.4 1762.3L1453.5 1786.8L1463.4 1811.3L1471.2 1835.8L1477 1860.3L1481.1 1884.8L1483.4 1909.3L1484 1933.7L1483 1958.2L1480.5 1982.7L1476.6 2007.2L1471.1 2031.7L1464.1 2056.2L1455.6 2080.7L1445.5 2105.2L1433.9 2129.7L1420.5 2154.2L1405.4 2178.6L1388.5 2203.1L1369.5 2227.6L1348.4 2252.1L1325 2276.6L1299.2 2301.1L1270.7 2325.6L1239.4 2350.1L1205 2374.6L1167.2 2399.1L1125.9 2423.5H1662.2V1419.5Z" fill="url(#gd9)"/>
<path d="M938.3 1419.5L1004.2 1443.9L1064.3 1468.4L1118.9 1492.9L1168.4 1517.4L1213.1 1541.9L1253.4 1566.4L1289.5 1590.9L1321.7 1615.4L1350.3 1639.9L1375.6 1664.4L1397.8 1688.8L1417.1 1713.3L1433.7 1737.8L1447.8 1762.3L1459.6 1786.8L1469.2 1811.3L1476.7 1835.8L1482.4 1860.3L1486.3 1884.8L1488.5 1909.3L1489.1 1933.7L1488.1 1958.2L1485.7 1982.7L1481.7 2007.2L1476.3 2031.7L1469.4 2056.2L1461 2080.7L1451.1 2105.2L1439.7 2129.7L1426.6 2154.2L1411.8 2178.6L1395.2 2203.1L1376.6 2227.6L1356 2252.1L1333.3 2276.6L1308.1 2301.1L1280.5 2325.6L1250.1 2350.1L1216.7 2374.6L1180.3 2399.1L1140.4 2423.5H1662.2V1419.5Z" fill="url(#gd10)"/>
<path d="M963.3 1419.5L1026.5 1443.9L1084.1 1468.4L1136.6 1492.9L1184.2 1517.4L1227.2 1541.9L1266.1 1566.4L1300.9 1590.9L1332 1615.4L1359.7 1639.9L1384.2 1664.4L1405.7 1688.8L1424.4 1713.3L1440.5 1737.8L1454.1 1762.3L1465.6 1786.8L1474.9 1811.3L1482.3 1835.8L1487.8 1860.3L1491.6 1884.8L1493.7 1909.3L1494.2 1933.7L1493.2 1958.2L1490.8 1982.7L1486.8 2007.2L1481.5 2031.7L1474.7 2056.2L1466.4 2080.7L1456.7 2105.2L1445.4 2129.7L1432.6 2154.2L1418.1 2178.6L1401.8 2203.1L1383.7 2227.6L1363.7 2252.1L1341.5 2276.6L1317 2301.1L1290.2 2325.6L1260.7 2350.1L1228.5 2374.6L1193.3 2399.1L1154.8 2423.5H1662.2V1419.5Z" fill="url(#gd11)"/>
<path d="M988.3 1419.5L1048.7 1443.9L1104 1468.4L1154.3 1492.9L1200 1517.4L1241.4 1541.9L1278.7 1566.4L1312.3 1590.9L1342.3 1615.4L1369.1 1639.9L1392.7 1664.4L1413.5 1688.8L1431.6 1713.3L1447.2 1737.8L1460.5 1762.3L1471.6 1786.8L1480.7 1811.3L1487.8 1835.8L1493.2 1860.3L1496.9 1884.8L1498.9 1909.3L1499.4 1933.7L1498.3 1958.2L1495.9 1982.7L1492 2007.2L1486.7 2031.7L1480 2056.2L1471.8 2080.7L1462.3 2105.2L1451.2 2129.7L1438.6 2154.2L1424.4 2178.6L1408.5 2203.1L1390.8 2227.6L1371.3 2252.1L1349.7 2276.6L1326 2301.1L1299.9 2325.6L1271.4 2350.1L1240.3 2374.6L1206.3 2399.1L1169.3 2423.5H1662.2V1419.5Z" fill="url(#gd12)"/>
<path d="M1013.2 1419.5L1071 1443.9L1123.8 1468.4L1172 1492.9L1215.8 1517.4L1255.6 1541.9L1291.4 1566.4L1323.7 1590.9L1352.7 1615.4L1378.4 1639.9L1401.3 1664.4L1421.4 1688.8L1438.9 1713.3L1454 1737.8L1466.9 1762.3L1477.7 1786.8L1486.5 1811.3L1493.4 1835.8L1498.6 1860.3L1502.1 1884.8L1504.1 1909.3L1504.5 1933.7L1503.4 1958.2L1501 1982.7L1497.1 2007.2L1491.9 2031.7L1485.3 2056.2L1477.3 2080.7L1467.9 2105.2L1457 2129.7L1444.7 2154.2L1430.7 2178.6L1415.2 2203.1L1398 2227.6L1378.9 2252.1L1357.9 2276.6L1334.9 2301.1L1309.7 2325.6L1282.1 2350.1L1252 2374.6L1219.3 2399.1L1183.7 2423.5H1662.2V1419.5Z" fill="url(#gd13)"/>
<path d="M1038.2 1419.5L1093.2 1443.9L1143.7 1468.4L1189.7 1492.9L1231.6 1517.4L1269.7 1541.9L1304.1 1566.4L1335.2 1590.9L1363 1615.4L1387.8 1639.9L1409.8 1664.4L1429.2 1688.8L1446.2 1713.3L1460.8 1737.8L1473.3 1762.3L1483.7 1786.8L1492.2 1811.3L1498.9 1835.8L1504 1860.3L1507.4 1884.8L1509.2 1909.3L1509.6 1933.7L1508.5 1958.2L1506.1 1982.7L1502.3 2007.2L1497.1 2031.7L1490.6 2056.2L1482.7 2080.7L1473.4 2105.2L1462.8 2129.7L1450.7 2154.2L1437.1 2178.6L1421.9 2203.1L1405.1 2227.6L1386.5 2252.1L1366.1 2276.6L1343.8 2301.1L1319.4 2325.6L1292.8 2350.1L1263.8 2374.6L1232.3 2399.1L1198.2 2423.5H1662.2V1419.5Z" fill="url(#gd14)"/>
<path d="M1063.1 1419.5L1115.5 1443.9L1163.5 1468.4L1207.4 1492.9L1247.5 1517.4L1283.9 1541.9L1316.8 1566.4L1346.6 1590.9L1373.3 1615.4L1397.2 1639.9L1418.4 1664.4L1437.1 1688.8L1453.4 1713.3L1467.6 1737.8L1479.6 1762.3L1489.7 1786.8L1498 1811.3L1504.5 1835.8L1509.4 1860.3L1512.6 1884.8L1514.4 1909.3L1514.7 1933.7L1513.6 1958.2L1511.2 1982.7L1507.4 2007.2L1502.3 2031.7L1495.9 2056.2L1488.1 2080.7L1479 2105.2L1468.6 2129.7L1456.7 2154.2L1443.4 2178.6L1428.6 2203.1L1412.2 2227.6L1394.1 2252.1L1374.3 2276.6L1352.7 2301.1L1329.1 2325.6L1303.5 2350.1L1275.6 2374.6L1245.3 2399.1L1212.6 2423.5H1662.2V1419.5Z" fill="url(#gd15)"/>
<path d="M1088.1 1419.5L1137.8 1443.9L1183.4 1468.4L1225.1 1492.9L1263.3 1517.4L1298 1541.9L1329.5 1566.4L1358 1590.9L1383.6 1615.4L1406.5 1639.9L1426.9 1664.4L1444.9 1688.8L1460.7 1713.3L1474.3 1737.8L1486 1762.3L1495.8 1786.8L1503.8 1811.3L1510.1 1835.8L1514.7 1860.3L1517.9 1884.8L1519.6 1909.3L1519.9 1933.7L1518.7 1958.2L1516.3 1982.7L1512.6 2007.2L1507.5 2031.7L1501.2 2056.2L1493.5 2080.7L1484.6 2105.2L1474.4 2129.7L1462.7 2154.2L1449.7 2178.6L1435.3 2203.1L1419.3 2227.6L1401.8 2252.1L1382.6 2276.6L1361.6 2301.1L1338.9 2325.6L1314.1 2350.1L1287.3 2374.6L1258.4 2399.1L1227.1 2423.5H1662.2V1419.5Z" fill="url(#gd16)"/>
<path d="M1113 1419.5L1160 1443.9L1203.2 1468.4L1242.8 1492.9L1279.1 1517.4L1312.2 1541.9L1342.2 1566.4L1369.4 1590.9L1393.9 1615.4L1415.9 1639.9L1435.5 1664.4L1452.8 1688.8L1468 1713.3L1481.1 1737.8L1492.4 1762.3L1501.8 1786.8L1509.5 1811.3L1515.6 1835.8L1520.1 1860.3L1523.2 1884.8L1524.8 1909.3L1525 1933.7L1523.9 1958.2L1521.4 1982.7L1517.7 2007.2L1512.7 2031.7L1506.5 2056.2L1499 2080.7L1490.2 2105.2L1480.1 2129.7L1468.8 2154.2L1456.1 2178.6L1442 2203.1L1426.4 2227.6L1409.4 2252.1L1390.8 2276.6L1370.5 2301.1L1348.6 2325.6L1324.8 2350.1L1299.1 2374.6L1271.4 2399.1L1241.5 2423.5H1662.2V1419.5Z" fill="url(#gd17)"/>
<path d="M1138 1419.5L1182.3 1443.9L1223.1 1468.4L1260.6 1492.9L1294.9 1517.4L1326.3 1541.9L1354.9 1566.4L1380.8 1590.9L1404.2 1615.4L1425.3 1639.9L1444 1664.4L1460.6 1688.8L1475.2 1713.3L1487.9 1737.8L1498.7 1762.3L1507.8 1786.8L1515.3 1811.3L1521.2 1835.8L1525.5 1860.3L1528.4 1884.8L1529.9 1909.3L1530.1 1933.7L1529 1958.2L1526.5 1982.7L1522.8 2007.2L1517.9 2031.7L1511.8 2056.2L1504.4 2080.7L1495.8 2105.2L1485.9 2129.7L1474.8 2154.2L1462.4 2178.6L1448.6 2203.1L1433.5 2227.6L1417 2252.1L1399 2276.6L1379.5 2301.1L1358.3 2325.6L1335.5 2350.1L1310.9 2374.6L1284.4 2399.1L1256 2423.5H1662.2V1419.5Z" fill="url(#gd18)"/>
<path d="M1163 1419.5L1204.5 1443.9L1242.9 1468.4L1278.3 1492.9L1310.7 1517.4L1340.5 1541.9L1367.6 1566.4L1392.2 1590.9L1414.6 1615.4L1434.6 1639.9L1452.6 1664.4L1468.5 1688.8L1482.5 1713.3L1494.7 1737.8L1505.1 1762.3L1513.9 1786.8L1521 1811.3L1526.7 1835.8L1530.9 1860.3L1533.7 1884.8L1535.1 1909.3L1535.2 1933.7L1534.1 1958.2L1531.6 1982.7L1528 2007.2L1523.1 2031.7L1517.1 2056.2L1509.8 2080.7L1501.4 2105.2L1491.7 2129.7L1480.8 2154.2L1468.7 2178.6L1455.3 2203.1L1440.6 2227.6L1424.6 2252.1L1407.2 2276.6L1388.4 2301.1L1368 2325.6L1346.2 2350.1L1322.6 2374.6L1297.4 2399.1L1270.4 2423.5H1662.2V1419.5Z" fill="url(#gd19)"/>
<path d="M1187.9 1419.5L1226.8 1443.9L1262.8 1468.4L1296 1492.9L1326.6 1517.4L1354.6 1541.9L1380.3 1566.4L1403.7 1590.9L1424.9 1615.4L1444 1639.9L1461.1 1664.4L1476.3 1688.8L1489.8 1713.3L1501.4 1737.8L1511.5 1762.3L1519.9 1786.8L1526.8 1811.3L1532.3 1835.8L1536.3 1860.3L1538.9 1884.8L1540.3 1909.3L1540.3 1933.7L1539.2 1958.2L1536.7 1982.7L1533.1 2007.2L1528.3 2031.7L1522.4 2056.2L1515.2 2080.7L1506.9 2105.2L1497.5 2129.7L1486.9 2154.2L1475 2178.6L1462 2203.1L1447.8 2227.6L1432.2 2252.1L1415.4 2276.6L1397.3 2301.1L1377.8 2325.6L1356.8 2350.1L1334.4 2374.6L1310.4 2399.1L1284.9 2423.5H1662.2V1419.5Z" fill="url(#gd20)"/>
<path d="M1212.9 1419.5L1249 1443.9L1282.6 1468.4L1313.7 1492.9L1342.4 1517.4L1368.8 1541.9L1393 1566.4L1415.1 1590.9L1435.2 1615.4L1453.3 1639.9L1469.7 1664.4L1484.2 1688.8L1497 1713.3L1508.2 1737.8L1517.8 1762.3L1525.9 1786.8L1532.6 1811.3L1537.8 1835.8L1541.7 1860.3L1544.2 1884.8L1545.5 1909.3L1545.5 1933.7L1544.3 1958.2L1541.9 1982.7L1538.3 2007.2L1533.5 2031.7L1527.7 2056.2L1520.7 2080.7L1512.5 2105.2L1503.3 2129.7L1492.9 2154.2L1481.4 2178.6L1468.7 2203.1L1454.9 2227.6L1439.9 2252.1L1423.7 2276.6L1406.2 2301.1L1387.5 2325.6L1367.5 2350.1L1346.2 2374.6L1323.5 2399.1L1299.3 2423.5H1662.2V1419.5Z" fill="url(#gd21)"/>
<path d="M1237.8 1419.5L1271.3 1443.9L1302.5 1468.4L1331.4 1492.9L1358.2 1517.4L1382.9 1541.9L1405.7 1566.4L1426.5 1590.9L1445.5 1615.4L1462.7 1639.9L1478.2 1664.4L1492 1688.8L1504.3 1713.3L1515 1737.8L1524.2 1762.3L1532 1786.8L1538.3 1811.3L1543.4 1835.8L1547.1 1860.3L1549.5 1884.8L1550.6 1909.3L1550.6 1933.7L1549.4 1958.2L1547 1982.7L1543.4 2007.2L1538.7 2031.7L1533 2056.2L1526.1 2080.7L1518.1 2105.2L1509 2129.7L1498.9 2154.2L1487.7 2178.6L1475.4 2203.1L1462 2227.6L1447.5 2252.1L1431.9 2276.6L1415.1 2301.1L1397.2 2325.6L1378.2 2350.1L1357.9 2374.6L1336.5 2399.1L1313.8 2423.5H1662.2V1419.5Z" fill="url(#gd22)"/>
<path d="M1262.8 1419.5L1293.5 1443.9L1322.3 1468.4L1349.1 1492.9L1374 1517.4L1397.1 1541.9L1418.4 1566.4L1437.9 1590.9L1455.8 1615.4L1472.1 1639.9L1486.8 1664.4L1499.9 1688.8L1511.6 1713.3L1521.8 1737.8L1530.6 1762.3L1538 1786.8L1544.1 1811.3L1548.9 1835.8L1552.4 1860.3L1554.7 1884.8L1555.8 1909.3L1555.7 1933.7L1554.5 1958.2L1552.1 1982.7L1548.6 2007.2L1544 2031.7L1538.3 2056.2L1531.5 2080.7L1523.7 2105.2L1514.8 2129.7L1504.9 2154.2L1494 2178.6L1482.1 2203.1L1469.1 2227.6L1455.1 2252.1L1440.1 2276.6L1424 2301.1L1407 2325.6L1388.9 2350.1L1369.7 2374.6L1349.5 2399.1L1328.2 2423.5H1662.2V1419.5Z" fill="url(#gd23)"/>
<path d="M1271.3 1419.5L1301.2 1443.9L1329.1 1468.4L1355.2 1492.9L1379.4 1517.4L1401.9 1541.9L1422.7 1566.4L1441.8 1590.9L1459.3 1615.4L1475.3 1639.9L1489.7 1664.4L1502.6 1688.8L1514 1713.3L1524.1 1737.8L1532.8 1762.3L1540.1 1786.8L1546.1 1811.3L1550.8 1835.8L1554.3 1860.3L1556.5 1884.8L1557.6 1909.3L1557.5 1933.7L1556.2 1958.2L1553.8 1982.7L1550.3 2007.2L1545.7 2031.7L1540.1 2056.2L1533.4 2080.7L1525.6 2105.2L1516.8 2129.7L1507 2154.2L1496.2 2178.6L1484.4 2203.1L1471.5 2227.6L1457.7 2252.1L1442.9 2276.6L1427.1 2301.1L1410.3 2325.6L1392.5 2350.1L1373.7 2374.6L1353.9 2399.1L1333.1 2423.5H1662.2V1419.5Z" fill="url(#gd24)"/>
<path d="M1279.9 1419.5L1308.8 1443.9L1335.9 1468.4L1361.2 1492.9L1384.8 1517.4L1406.8 1541.9L1427.1 1566.4L1445.7 1590.9L1462.9 1615.4L1478.5 1639.9L1492.6 1664.4L1505.3 1688.8L1516.5 1713.3L1526.4 1737.8L1534.9 1762.3L1542.1 1786.8L1548.1 1811.3L1552.7 1835.8L1556.1 1860.3L1558.3 1884.8L1559.4 1909.3L1559.2 1933.7L1558 1958.2L1555.6 1982.7L1552.1 2007.2L1547.5 2031.7L1541.9 2056.2L1535.2 2080.7L1527.5 2105.2L1518.8 2129.7L1509.1 2154.2L1498.3 2178.6L1486.6 2203.1L1474 2227.6L1460.3 2252.1L1445.7 2276.6L1430.2 2301.1L1413.6 2325.6L1396.2 2350.1L1377.8 2374.6L1358.4 2399.1L1338.1 2423.5H1662.2V1419.5Z" fill="url(#gd25)"/>
<path d="M1288.4 1419.5L1316.4 1443.9L1342.7 1468.4L1367.3 1492.9L1390.3 1517.4L1411.6 1541.9L1431.4 1566.4L1449.7 1590.9L1466.4 1615.4L1481.7 1639.9L1495.5 1664.4L1508 1688.8L1519 1713.3L1528.7 1737.8L1537.1 1762.3L1544.2 1786.8L1550 1811.3L1554.6 1835.8L1558 1860.3L1560.1 1884.8L1561.1 1909.3L1561 1933.7L1559.7 1958.2L1557.3 1982.7L1553.8 2007.2L1549.3 2031.7L1543.7 2056.2L1537.1 2080.7L1529.4 2105.2L1520.8 2129.7L1511.1 2154.2L1500.5 2178.6L1488.9 2203.1L1476.4 2227.6L1462.9 2252.1L1448.5 2276.6L1433.2 2301.1L1417 2325.6L1399.8 2350.1L1381.8 2374.6L1362.9 2399.1L1343 2423.5H1662.2V1419.5Z" fill="url(#gd26)"/>
<path d="M1297 1419.5L1324 1443.9L1349.5 1468.4L1373.4 1492.9L1395.7 1517.4L1416.5 1541.9L1435.7 1566.4L1453.6 1590.9L1469.9 1615.4L1484.9 1639.9L1498.5 1664.4L1510.7 1688.8L1521.5 1713.3L1531 1737.8L1539.3 1762.3L1546.3 1786.8L1552 1811.3L1556.5 1835.8L1559.8 1860.3L1561.9 1884.8L1562.9 1909.3L1562.7 1933.7L1561.4 1958.2L1559.1 1982.7L1555.6 2007.2L1551.1 2031.7L1545.5 2056.2L1538.9 2080.7L1531.3 2105.2L1522.8 2129.7L1513.2 2154.2L1502.7 2178.6L1491.2 2203.1L1478.8 2227.6L1465.5 2252.1L1451.3 2276.6L1436.3 2301.1L1420.3 2325.6L1403.5 2350.1L1385.8 2374.6L1367.3 2399.1L1348 2423.5H1662.2V1419.5Z" fill="url(#gd27)"/>
<path d="M1305.5 1419.5L1331.6 1443.9L1356.3 1468.4L1379.4 1492.9L1401.1 1517.4L1421.3 1541.9L1440.1 1566.4L1457.5 1590.9L1473.5 1615.4L1488.1 1639.9L1501.4 1664.4L1513.3 1688.8L1524 1713.3L1533.4 1737.8L1541.5 1762.3L1548.3 1786.8L1554 1811.3L1558.4 1835.8L1561.7 1860.3L1563.7 1884.8L1564.7 1909.3L1564.5 1933.7L1563.2 1958.2L1560.8 1982.7L1557.4 2007.2L1552.9 2031.7L1547.3 2056.2L1540.8 2080.7L1533.2 2105.2L1524.7 2129.7L1515.3 2154.2L1504.8 2178.6L1493.5 2203.1L1481.3 2227.6L1468.1 2252.1L1454.2 2276.6L1439.3 2301.1L1423.6 2325.6L1407.1 2350.1L1389.8 2374.6L1371.8 2399.1L1352.9 2423.5H1662.2V1419.5Z" fill="url(#gd28)"/>
<path d="M1314 1419.5L1339.3 1443.9L1363.1 1468.4L1385.5 1492.9L1406.5 1517.4L1426.2 1541.9L1444.4 1566.4L1461.4 1590.9L1477 1615.4L1491.3 1639.9L1504.3 1664.4L1516 1688.8L1526.5 1713.3L1535.7 1737.8L1543.7 1762.3L1550.4 1786.8L1555.9 1811.3L1560.3 1835.8L1563.5 1860.3L1565.5 1884.8L1566.4 1909.3L1566.2 1933.7L1564.9 1958.2L1562.6 1982.7L1559.1 2007.2L1554.6 2031.7L1549.1 2056.2L1542.6 2080.7L1535.2 2105.2L1526.7 2129.7L1517.3 2154.2L1507 2178.6L1495.8 2203.1L1483.7 2227.6L1470.8 2252.1L1457 2276.6L1442.4 2301.1L1427 2325.6L1410.8 2350.1L1393.9 2374.6L1376.2 2399.1L1357.9 2423.5H1662.2V1419.5Z" fill="url(#gd29)"/>
<path d="M1322.6 1419.5L1346.9 1443.9L1369.9 1468.4L1391.5 1492.9L1411.9 1517.4L1431 1541.9L1448.8 1566.4L1465.3 1590.9L1480.5 1615.4L1494.5 1639.9L1507.2 1664.4L1518.7 1688.8L1529 1713.3L1538 1737.8L1545.8 1762.3L1552.5 1786.8L1557.9 1811.3L1562.2 1835.8L1565.3 1860.3L1567.3 1884.8L1568.2 1909.3L1568 1933.7L1566.7 1958.2L1564.3 1982.7L1560.9 2007.2L1556.4 2031.7L1551 2056.2L1544.5 2080.7L1537.1 2105.2L1528.7 2129.7L1519.4 2154.2L1509.2 2178.6L1498.1 2203.1L1486.1 2227.6L1473.4 2252.1L1459.8 2276.6L1445.4 2301.1L1430.3 2325.6L1414.5 2350.1L1397.9 2374.6L1380.7 2399.1L1362.8 2423.5H1662.2V1419.5Z" fill="url(#gd30)"/>
<path d="M1331.1 1419.5L1354.5 1443.9L1376.7 1468.4L1397.6 1492.9L1417.3 1517.4L1435.8 1541.9L1453.1 1566.4L1469.2 1590.9L1484.1 1615.4L1497.7 1639.9L1510.2 1664.4L1521.4 1688.8L1531.5 1713.3L1540.3 1737.8L1548 1762.3L1554.5 1786.8L1559.9 1811.3L1564.1 1835.8L1567.2 1860.3L1569.1 1884.8L1570 1909.3L1569.8 1933.7L1568.4 1958.2L1566.1 1982.7L1562.6 2007.2L1558.2 2031.7L1552.8 2056.2L1546.4 2080.7L1539 2105.2L1530.7 2129.7L1521.4 2154.2L1511.3 2178.6L1500.4 2203.1L1488.6 2227.6L1476 2252.1L1462.6 2276.6L1448.5 2301.1L1433.6 2325.6L1418.1 2350.1L1401.9 2374.6L1385.1 2399.1L1367.8 2423.5H1662.2V1419.5Z" fill="url(#gd31)"/>
<path d="M1339.7 1419.5L1362.1 1443.9L1383.5 1468.4L1403.7 1492.9L1422.7 1517.4L1440.7 1541.9L1457.5 1566.4L1473.1 1590.9L1487.6 1615.4L1500.9 1639.9L1513.1 1664.4L1524.1 1688.8L1533.9 1713.3L1542.6 1737.8L1550.2 1762.3L1556.6 1786.8L1561.9 1811.3L1566 1835.8L1569 1860.3L1570.9 1884.8L1571.8 1909.3L1571.5 1933.7L1570.2 1958.2L1567.8 1982.7L1564.4 2007.2L1560 2031.7L1554.6 2056.2L1548.2 2080.7L1540.9 2105.2L1532.6 2129.7L1523.5 2154.2L1513.5 2178.6L1502.7 2203.1L1491 2227.6L1478.6 2252.1L1465.4 2276.6L1451.5 2301.1L1437 2325.6L1421.8 2350.1L1406 2374.6L1389.6 2399.1L1372.7 2423.5H1662.2V1419.5Z" fill="url(#gd32)"/>
<path d="M1348.2 1419.5L1369.7 1443.9L1390.3 1468.4L1409.7 1492.9L1428.2 1517.4L1445.5 1541.9L1461.8 1566.4L1477 1590.9L1491.1 1615.4L1504.1 1639.9L1516 1664.4L1526.8 1688.8L1536.4 1713.3L1545 1737.8L1552.4 1762.3L1558.7 1786.8L1563.8 1811.3L1567.9 1835.8L1570.9 1860.3L1572.7 1884.8L1573.5 1909.3L1573.3 1933.7L1571.9 1958.2L1569.6 1982.7L1566.2 2007.2L1561.8 2031.7L1556.4 2056.2L1550.1 2080.7L1542.8 2105.2L1534.6 2129.7L1525.6 2154.2L1515.7 2178.6L1505 2203.1L1493.4 2227.6L1481.2 2252.1L1468.2 2276.6L1454.6 2301.1L1440.3 2325.6L1425.4 2350.1L1410 2374.6L1394.1 2399.1L1377.7 2423.5H1662.2V1419.5Z" fill="url(#gd33)"/>
<path d="M1356.8 1419.5L1377.4 1443.9L1397 1468.4L1415.8 1492.9L1433.6 1517.4L1450.4 1541.9L1466.2 1566.4L1480.9 1590.9L1494.7 1615.4L1507.3 1639.9L1518.9 1664.4L1529.5 1688.8L1538.9 1713.3L1547.3 1737.8L1554.6 1762.3L1560.7 1786.8L1565.8 1811.3L1569.8 1835.8L1572.7 1860.3L1574.5 1884.8L1575.3 1909.3L1575 1933.7L1573.7 1958.2L1571.3 1982.7L1567.9 2007.2L1563.6 2031.7L1558.2 2056.2L1551.9 2080.7L1544.7 2105.2L1536.6 2129.7L1527.6 2154.2L1517.8 2178.6L1507.2 2203.1L1495.9 2227.6L1483.8 2252.1L1471 2276.6L1457.6 2301.1L1443.6 2325.6L1429.1 2350.1L1414 2374.6L1398.5 2399.1L1382.6 2423.5H1662.2V1419.5Z" fill="url(#gd34)"/>
</g>
<path d="M1191.5 1478.2L1156.3 1462.9M1281.4 1478.2L1246.4 1461.4M1356.2 1483.2L1321.1 1465.7M1407.8 1498.9L1369.2 1498M1190.5 1549.8L1161.8 1526.1M1280.4 1555.4L1246.3 1536M1351.9 1552.1L1317.8 1532.7M1443.4 1560.8L1405 1550.4M1216.5 1598.7L1190.8 1572.1M1271.4 1624.6L1244.4 1597.4M1316.3 1667.2L1290.1 1641.5M1361.9 1627L1330.6 1603.9M1436.7 1627L1404.5 1605.6M1118.3 1556.4L1101.6 1538.9M1504.4 1644.7L1466.3 1643.1M1358.5 1704.1L1334.3 1675.1M1441.9 1700.9L1413.5 1674.5M1523.6 1696.7L1484.8 1690M1391.6 1753.3L1368.5 1722.3M1440.2 1774.7L1418.6 1742.8M1522.1 1779L1489.9 1758.2M1438.7 1844.3L1417.9 1811.1M1518.9 1846.4L1487.8 1830.3M1570.9 1850.7L1532.2 1850.7M1446.2 1920.8L1409.2 1922M1518.9 1920.8L1483 1921.7M1572.8 1920.8L1536.5 1920.2M1441.9 1998L1418.2 2029.6M1512.5 2002.3L1488.5 2015.7M1567.7 2003L1530.1 2002.6M1440.8 2068L1421.3 2101.4M1522.1 2062.9L1488.9 2084.1M1375.6 2148.4L1346.2 2175.4M1442.5 2140.9L1415.4 2169M1523.6 2145L1484.8 2151.4M1504.4 2214.5L1463.8 2214.2M1361.9 2214.8L1332.3 2241.8M1436.7 2214.8L1406.2 2238.4M1482 2254.7L1443.4 2255.1M1303 2243.7L1271 2266.4M1280.4 2285.3L1248.3 2308.3M1351.9 2290.6L1320.1 2312.6M1442.7 2282L1410.1 2301.6M1213.1 2316.3L1178.8 2334.3M1191.5 2363.8L1157.7 2382.3M1281.4 2363.8L1248 2383.8M1356.9 2358.5L1322.6 2378.9M1422.8 2362.8L1383.5 2362.2M1119 2376.1L1085.9 2397.7" stroke="#000" stroke-width="5.2" fill="none"/>
<path d="M1134.3 1453.3L1162.1 1454.5L1154.1 1472.8ZM1224.8 1451L1252.5 1453.2L1243.9 1471.3ZM1299.7 1454.9L1327.4 1457.6L1318.4 1475.5ZM1345.2 1497.5L1371.4 1488.1L1371 1508.1ZM1143.3 1510.8L1169.7 1519.7L1157 1535.1ZM1225.5 1524.2L1253 1528.3L1243.1 1545.7ZM1297 1520.8L1324.5 1525L1314.6 1542.4ZM1381.8 1544.1L1409.5 1541.3L1404.3 1560.6ZM1174.2 1554.8L1199.4 1566.6L1185 1580.4ZM1227.4 1580.4L1252.9 1591.8L1238.7 1605.9ZM1273 1624.6L1298.6 1635.8L1284.5 1650ZM1311.3 1589.7L1338.2 1597.1L1326.3 1613.2ZM1384.5 1592.4L1411.7 1598.4L1400.7 1615.1ZM1085 1521.5L1110.2 1533.4L1095.7 1547.2ZM1442.3 1642.1L1468.7 1633.2L1467.9 1653.2ZM1318.9 1656.7L1343.2 1670.2L1327.9 1683ZM1395.9 1658.2L1421.8 1668.5L1408.1 1683.2ZM1461.1 1686L1488.5 1680.5L1485.1 1700.2ZM1354.2 1703.1L1377.7 1718L1361.7 1729.9ZM1405.1 1723L1428 1738.9L1411.4 1750.1ZM1469.7 1745.2L1497 1750.9L1486.1 1767.7ZM1405.1 1790.8L1427.4 1807.5L1410.5 1818.1ZM1466.5 1819.2L1494.2 1822.3L1485 1840.1ZM1508.2 1850.7L1534.2 1840.7L1534.2 1860.7ZM1385.2 1922.8L1410.9 1911.9L1411.5 1931.9ZM1459 1922.3L1484.8 1911.7L1485.3 1931.7ZM1512.5 1919.8L1538.7 1910.2L1538.3 1930.2ZM1403.8 2048.7L1411.4 2021.9L1427.4 2034ZM1467.6 2027.4L1485.4 2006L1495.1 2023.4ZM1506.1 2002.3L1532.2 1992.6L1532 2012.6ZM1409.2 2122.1L1413.7 2094.6L1430.9 2104.7ZM1468.6 2097.1L1485.1 2074.6L1495.9 2091.5ZM1328.5 2191.6L1340.9 2166.7L1354.4 2181.4ZM1398.7 2186.3L1409.6 2160.6L1424 2174.5ZM1461.1 2155.3L1485.2 2141.2L1488.4 2160.9ZM1439.8 2214.1L1465.8 2204.3L1465.7 2224.3ZM1314.6 2258L1327.1 2233.1L1340.6 2247.8ZM1387.2 2253L1401.6 2229.2L1413.9 2245.1ZM1419.4 2255.4L1445.3 2245.1L1445.5 2265.1ZM1251.4 2280.3L1266.8 2257.1L1278.4 2273.4ZM1228.8 2322.2L1244.1 2299L1255.7 2315.2ZM1300.3 2326.2L1316 2303.2L1327.4 2319.7ZM1389.5 2313.9L1406.6 2292L1416.9 2309.1ZM1157.6 2345.5L1175.9 2324.6L1185.2 2342.3ZM1136.6 2393.8L1154.6 2372.6L1164.2 2390.1ZM1227.4 2396.1L1244.6 2374.2L1254.9 2391.3ZM1302 2391.1L1319.2 2369.2L1329.4 2386.4ZM1359.5 2361.8L1385.7 2352.3L1385.4 2372.2ZM1065.7 2410.8L1082.1 2388.2L1093 2405Z" fill="#000"/>
<path d="M1113.1 2362.3h14.5M1113.1 2313.3h14.5M1113.1 2264.4h14.5M1113.1 2215.4h14.5M1113.1 2117.4h14.5M1113.1 2068.4h14.5M1113.1 2019.5h14.5M1113.1 1970.5h14.5M1113.1 1872.5h14.5M1113.1 1823.5h14.5M1113.1 1774.6h14.5M1113.1 1725.6h14.5M1113.1 1627.6h14.5M1113.1 1578.6h14.5M1113.1 1529.7h14.5M1113.1 1480.7h14.5M1164.8 2407.5v-14M1219.8 2407.5v-14M1274.9 2407.5v-14M1329.9 2407.5v-14M1440 2407.5v-14M1495.1 2407.5v-14M1550.1 2407.5v-14M1605.2 2407.5v-14" stroke="#000" stroke-width="3.2" fill="none"/>
<path d="M1113.1 2166.4h24.5M1113.1 1921.5h24.5M1113.1 1676.6h24.5M1385 2407.5v-24" stroke="#000" stroke-width="6.6" fill="none"/>
</g>
<path fill-rule="evenodd" fill="#000" d="M1106.5 1427.1H1663.9V2414.2H1106.5ZM1113.1 1435.2H1657.2V2407.5H1113.1Z"/>
<text class="pt" x="1108.8" y="1403.9">(d) Y=0</text>
<text class="tk" text-anchor="end" x="1092.5" y="1454">2</text>
<text class="tk" text-anchor="end" x="1092.5" y="1943.8">0</text>
<text class="n1" x="1053.3" y="1699.4">1</text>
<text class="tk" x="1030.6" y="2188.7"><tspan dy="3">–</tspan><tspan class="n1" x="1069.1" dy="-2.5">1</tspan></text>
<text class="tk" text-anchor="end" x="1107.8" y="2433.6"><tspan dy="3">–</tspan><tspan dy="-3">2</tspan></text>
<text class="tk" text-anchor="middle" x="1124.2" y="2471.1">0</text>
<text class="tk" text-anchor="middle" x="1660.2" y="2471.1">2</text>
<text class="n1" x="1365.2" y="2471.6">1</text>
<text class="ax" text-anchor="middle" x="1384.5" y="2528.2">X (R<tspan class="sb" dy="21">M</tspan><tspan dy="-21">)</tspan></text>
<text class="ax" text-anchor="middle" transform="translate(1015.2 1922.4) rotate(-90)">Z (R<tspan class="sb" dy="21">M</tspan><tspan dy="-21">)</tspan></text>
<rect x="1711.9" y="103.9" width="84" height="980.9" fill="url(#cbar103)" stroke="#000" stroke-width="1.6"/>
<text class="cl" x="1837" y="128.1">500</text>
<text class="cl" x="1837" y="323.8">400</text>
<text class="cl" x="1837" y="520">300</text>
<text class="cl" x="1837" y="716.4">200</text>
<text class="cl" x="1837" y="912.4"><tspan class="n1c">1</tspan><tspan x="1868.7">00</tspan></text>
<text class="cl" x="1837" y="1108.4">0</text>
<text class="ct" x="1693.5" y="65">U<tspan class="cs" dy="20.5" dx="-5">+</tspan><tspan dy="-20.5" dx="-4"> (km/s)</tspan></text>
<rect x="1714.9" y="1427.9" width="84.1" height="987.6" fill="url(#cbar1427)" stroke="#000" stroke-width="1.6"/>
<text class="cl" x="1841.5" y="1450">60</text>
<text class="cl" x="1841.5" y="1779">40</text>
<text class="cl" x="1841.5" y="2109.6">20</text>
<text class="cl" x="1841.5" y="2437.8">0</text>
<text class="ct" x="1690.5" y="1403.7">B (nT)</text>
</svg>
</body></html>
